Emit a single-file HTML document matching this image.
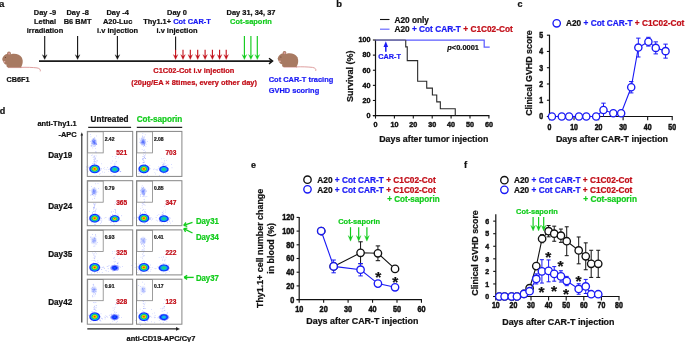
<!DOCTYPE html>
<html><head><meta charset="utf-8"><style>
html,body{margin:0;padding:0;background:#fff;}
body{width:685px;height:342px;overflow:hidden;}
svg{display:block;font-family:"Liberation Sans", sans-serif;filter:blur(0.3px);}
</style></head><body>
<svg width="685" height="342" viewBox="0 0 685 342">
<rect width="685" height="342" fill="#fff"/>
<text transform="translate(-0.90,6.80)" font-size="9.6" text-anchor="start" fill="#111" stroke="#111" stroke-width="0.22" font-weight="bold" >a</text>
<text transform="translate(45.00,15.20) scale(1,1.08)" font-size="7.45" text-anchor="middle" fill="#111" stroke="#111" stroke-width="0.22" font-weight="bold" >Day -9</text>
<text transform="translate(45.00,23.90) scale(1,1.08)" font-size="7.45" text-anchor="middle" fill="#111" stroke="#111" stroke-width="0.22" font-weight="bold" >Lethal</text>
<text transform="translate(45.00,32.60) scale(1,1.08)" font-size="7.45" text-anchor="middle" fill="#111" stroke="#111" stroke-width="0.22" font-weight="bold" >irradiation</text>
<text transform="translate(77.60,15.20) scale(1,1.08)" font-size="7.45" text-anchor="middle" fill="#111" stroke="#111" stroke-width="0.22" font-weight="bold" >Day -8</text>
<text transform="translate(77.60,23.90) scale(1,1.08)" font-size="7.45" text-anchor="middle" fill="#111" stroke="#111" stroke-width="0.22" font-weight="bold" >B6 BMT</text>
<text transform="translate(117.60,15.20) scale(1,1.08)" font-size="7.45" text-anchor="middle" fill="#111" stroke="#111" stroke-width="0.22" font-weight="bold" >Day -4</text>
<text transform="translate(117.60,23.90) scale(1,1.08)" font-size="7.45" text-anchor="middle" fill="#111" stroke="#111" stroke-width="0.22" font-weight="bold" >A20-Luc</text>
<text transform="translate(117.60,32.60) scale(1,1.08)" font-size="7.45" text-anchor="middle" fill="#111" stroke="#111" stroke-width="0.22" font-weight="bold" >i.v injection</text>
<text transform="translate(177.00,15.20) scale(1,1.08)" font-size="7.45" text-anchor="middle" fill="#111" stroke="#111" stroke-width="0.22" font-weight="bold" >Day 0</text>
<text transform="translate(177.00,23.90) scale(1,1.08)" font-size="7.45" text-anchor="middle" fill="#111" stroke="#111" stroke-width="0.22" font-weight="bold" >Thy1.1+ <tspan fill="#1a1af5" stroke="#1a1af5">Cot CAR-T</tspan></text>
<text transform="translate(177.00,32.60) scale(1,1.08)" font-size="7.45" text-anchor="middle" fill="#111" stroke="#111" stroke-width="0.22" font-weight="bold" >i.v injection</text>
<text transform="translate(251.00,15.20) scale(1,1.08)" font-size="7.45" text-anchor="middle" fill="#111" stroke="#111" stroke-width="0.22" font-weight="bold" >Day 31, 34, 37</text>
<text transform="translate(251.00,23.90) scale(1,1.08)" font-size="7.45" text-anchor="middle" fill="#12cc1c" stroke="#12cc1c" stroke-width="0.22" font-weight="bold" >Cot-saporin</text>
<line x1="44.70" y1="36.00" x2="44.70" y2="57.10" stroke="#111" stroke-width="1.1" />
<path d="M42.35,54.70 L44.70,59.50 L47.05,54.70 L44.70,56.52 Z" fill="#111" stroke="#111" stroke-width="0.3" stroke-linejoin="round"/>
<line x1="77.60" y1="36.00" x2="77.60" y2="57.10" stroke="#111" stroke-width="1.1" />
<path d="M75.25,54.70 L77.60,59.50 L79.95,54.70 L77.60,56.52 Z" fill="#111" stroke="#111" stroke-width="0.3" stroke-linejoin="round"/>
<line x1="117.40" y1="36.00" x2="117.40" y2="57.10" stroke="#111" stroke-width="1.1" />
<path d="M115.05,54.70 L117.40,59.50 L119.75,54.70 L117.40,56.52 Z" fill="#111" stroke="#111" stroke-width="0.3" stroke-linejoin="round"/>
<line x1="175.60" y1="36.40" x2="175.60" y2="50.00" stroke="#111" stroke-width="1.1" />
<line x1="175.60" y1="49.80" x2="175.60" y2="57.05" stroke="#c20d17" stroke-width="1.1" />
<path d="M173.30,54.60 L175.60,59.50 L177.90,54.60 L175.60,56.46 Z" fill="#c20d17" stroke="#c20d17" stroke-width="0.3" stroke-linejoin="round"/>
<line x1="183.00" y1="49.80" x2="183.00" y2="57.05" stroke="#c20d17" stroke-width="1.1" />
<path d="M180.70,54.60 L183.00,59.50 L185.30,54.60 L183.00,56.46 Z" fill="#c20d17" stroke="#c20d17" stroke-width="0.3" stroke-linejoin="round"/>
<line x1="190.30" y1="49.80" x2="190.30" y2="57.05" stroke="#c20d17" stroke-width="1.1" />
<path d="M188.00,54.60 L190.30,59.50 L192.60,54.60 L190.30,56.46 Z" fill="#c20d17" stroke="#c20d17" stroke-width="0.3" stroke-linejoin="round"/>
<line x1="197.70" y1="49.80" x2="197.70" y2="57.05" stroke="#c20d17" stroke-width="1.1" />
<path d="M195.40,54.60 L197.70,59.50 L200.00,54.60 L197.70,56.46 Z" fill="#c20d17" stroke="#c20d17" stroke-width="0.3" stroke-linejoin="round"/>
<line x1="205.10" y1="49.80" x2="205.10" y2="57.05" stroke="#c20d17" stroke-width="1.1" />
<path d="M202.80,54.60 L205.10,59.50 L207.40,54.60 L205.10,56.46 Z" fill="#c20d17" stroke="#c20d17" stroke-width="0.3" stroke-linejoin="round"/>
<line x1="212.40" y1="49.80" x2="212.40" y2="57.05" stroke="#c20d17" stroke-width="1.1" />
<path d="M210.10,54.60 L212.40,59.50 L214.70,54.60 L212.40,56.46 Z" fill="#c20d17" stroke="#c20d17" stroke-width="0.3" stroke-linejoin="round"/>
<line x1="219.60" y1="49.80" x2="219.60" y2="57.05" stroke="#c20d17" stroke-width="1.1" />
<path d="M217.30,54.60 L219.60,59.50 L221.90,54.60 L219.60,56.46 Z" fill="#c20d17" stroke="#c20d17" stroke-width="0.3" stroke-linejoin="round"/>
<line x1="226.20" y1="49.80" x2="226.20" y2="57.05" stroke="#c20d17" stroke-width="1.1" />
<path d="M223.90,54.60 L226.20,59.50 L228.50,54.60 L226.20,56.46 Z" fill="#c20d17" stroke="#c20d17" stroke-width="0.3" stroke-linejoin="round"/>
<line x1="244.40" y1="36.00" x2="244.40" y2="57.10" stroke="#12cc1c" stroke-width="1.15" />
<path d="M242.00,54.60 L244.40,59.60 L246.80,54.60 L244.40,56.50 Z" fill="#12cc1c" stroke="#12cc1c" stroke-width="0.3" stroke-linejoin="round"/>
<line x1="250.90" y1="36.00" x2="250.90" y2="57.10" stroke="#12cc1c" stroke-width="1.15" />
<path d="M248.50,54.60 L250.90,59.60 L253.30,54.60 L250.90,56.50 Z" fill="#12cc1c" stroke="#12cc1c" stroke-width="0.3" stroke-linejoin="round"/>
<line x1="257.30" y1="36.00" x2="257.30" y2="57.10" stroke="#12cc1c" stroke-width="1.15" />
<path d="M254.90,54.60 L257.30,59.60 L259.70,54.60 L257.30,56.50 Z" fill="#12cc1c" stroke="#12cc1c" stroke-width="0.3" stroke-linejoin="round"/>
<line x1="39.00" y1="61.10" x2="271.50" y2="61.10" stroke="#1a1a1a" stroke-width="1.7" />
<polyline points="269,58.3 272.6,61.1 269,63.9" stroke="#111" stroke-width="1.4" fill="none"/>
<g transform="translate(0.5,48) scale(1.0)"><path d="M20,19.4 C26,19.1 32,19.4 36.5,19.9 C39.2,20.3 40.4,21.8 39.7,23.4" stroke="#d88e8e" stroke-width="0.85" fill="none"/><path d="M7.5,19.6 L21,19.6" stroke="#d88e8e" stroke-width="0.8" fill="none"/><path d="M8,19.4 L20.3,19.4 C22.3,17.2 22.8,12.6 21.4,9.8 C19.6,6.4 15.2,5.3 11.2,6 C8.2,6.6 6.6,8.2 6.1,10.2 Z" fill="#a87a62"/><path d="M1.7,10.9 C2.3,8 4.4,6.1 7.4,5.7 C10.4,5.4 12.2,7.8 12.2,11 C12.2,14.6 9.7,16.8 6.6,16.8 C4.4,16.8 2.4,14.2 1.7,10.9 Z" fill="#a87a62"/><circle cx="8.5" cy="5.4" r="1.9" fill="#a87a62"/><ellipse cx="8.6" cy="5.6" rx="1.05" ry="1.1" fill="#d99a98"/><ellipse cx="7.6" cy="17.6" rx="1.6" ry="1.9" fill="#a87a62"/><ellipse cx="3.9" cy="13.8" rx="1.0" ry="0.75" fill="#e5b2ae"/><circle cx="4.9" cy="9.6" r="0.5" fill="#5a3426"/></g>
<text transform="translate(18.00,82.20) scale(1,1.08)" font-size="7.25" text-anchor="middle" fill="#111" stroke="#111" stroke-width="0.22" font-weight="bold" >CB6F1</text>
<g transform="translate(276,47.5) scale(1.0)"><path d="M20,19.4 C26,19.1 32,19.4 36.5,19.9 C39.2,20.3 40.4,21.8 39.7,23.4" stroke="#d88e8e" stroke-width="0.85" fill="none"/><path d="M7.5,19.6 L21,19.6" stroke="#d88e8e" stroke-width="0.8" fill="none"/><path d="M8,19.4 L20.3,19.4 C22.3,17.2 22.8,12.6 21.4,9.8 C19.6,6.4 15.2,5.3 11.2,6 C8.2,6.6 6.6,8.2 6.1,10.2 Z" fill="#a87a62"/><path d="M1.7,10.9 C2.3,8 4.4,6.1 7.4,5.7 C10.4,5.4 12.2,7.8 12.2,11 C12.2,14.6 9.7,16.8 6.6,16.8 C4.4,16.8 2.4,14.2 1.7,10.9 Z" fill="#a87a62"/><circle cx="8.5" cy="5.4" r="1.9" fill="#a87a62"/><ellipse cx="8.6" cy="5.6" rx="1.05" ry="1.1" fill="#d99a98"/><ellipse cx="7.6" cy="17.6" rx="1.6" ry="1.9" fill="#a87a62"/><ellipse cx="3.9" cy="13.8" rx="1.0" ry="0.75" fill="#e5b2ae"/><circle cx="4.9" cy="9.6" r="0.5" fill="#5a3426"/></g>
<text transform="translate(268.70,81.80) scale(1,1.08)" font-size="7.45" text-anchor="start" fill="#1a1af5" stroke="#1a1af5" stroke-width="0.22" font-weight="bold" >Cot CAR-T tracing</text>
<text transform="translate(268.70,92.50) scale(1,1.08)" font-size="7.45" text-anchor="start" fill="#1a1af5" stroke="#1a1af5" stroke-width="0.22" font-weight="bold" >GVHD scoring</text>
<text transform="translate(193.80,73.30) scale(1,1.08)" font-size="7.45" text-anchor="middle" fill="#c20d17" stroke="#c20d17" stroke-width="0.22" font-weight="bold" >C1C02-Cot i.v injection</text>
<text transform="translate(194.10,84.90) scale(1,1.08)" font-size="7.45" text-anchor="middle" fill="#c20d17" stroke="#c20d17" stroke-width="0.22" font-weight="bold" >(20μg/EA × 8times, every other day)</text>
<text transform="translate(336.30,6.90)" font-size="9.4" text-anchor="start" fill="#111" stroke="#111" stroke-width="0.22" font-weight="bold" >b</text>
<line x1="380.00" y1="19.50" x2="389.50" y2="19.50" stroke="#111" stroke-width="1.1" />
<text transform="translate(394.40,22.80) scale(1,1.08)" font-size="8.3" text-anchor="start" fill="#111" stroke="#111" stroke-width="0.22" font-weight="bold" >A20 only</text>
<line x1="380.00" y1="29.20" x2="389.50" y2="29.20" stroke="#6a6aff" stroke-width="1.2" />
<text transform="translate(394.40,32.20) scale(1,1.08)" font-size="8.3" text-anchor="start" fill="#111" stroke="#111" stroke-width="0.22" font-weight="bold" >A20 <tspan fill="#1a1af5" stroke="#1a1af5">+ Cot CAR-T</tspan> <tspan fill="#c20d17" stroke="#c20d17">+ C1C02-Cot</tspan></text>
<line x1="375.50" y1="39.70" x2="375.50" y2="115.60" stroke="#111" stroke-width="1.2" />
<line x1="372.90" y1="115.60" x2="489.40" y2="115.60" stroke="#111" stroke-width="1.2" />
<line x1="372.90" y1="115.60" x2="375.50" y2="115.60" stroke="#111" stroke-width="1.1" />
<text transform="translate(370.50,117.90) scale(1,1.05)" font-size="7.2" text-anchor="end" fill="#111" stroke="#111" stroke-width="0.42" font-weight="bold" >0</text>
<line x1="372.90" y1="100.48" x2="375.50" y2="100.48" stroke="#111" stroke-width="1.1" />
<text transform="translate(370.50,102.78) scale(1,1.05)" font-size="7.2" text-anchor="end" fill="#111" stroke="#111" stroke-width="0.42" font-weight="bold" >20</text>
<line x1="372.90" y1="85.36" x2="375.50" y2="85.36" stroke="#111" stroke-width="1.1" />
<text transform="translate(370.50,87.66) scale(1,1.05)" font-size="7.2" text-anchor="end" fill="#111" stroke="#111" stroke-width="0.42" font-weight="bold" >40</text>
<line x1="372.90" y1="70.24" x2="375.50" y2="70.24" stroke="#111" stroke-width="1.1" />
<text transform="translate(370.50,72.54) scale(1,1.05)" font-size="7.2" text-anchor="end" fill="#111" stroke="#111" stroke-width="0.42" font-weight="bold" >60</text>
<line x1="372.90" y1="55.12" x2="375.50" y2="55.12" stroke="#111" stroke-width="1.1" />
<text transform="translate(370.50,57.42) scale(1,1.05)" font-size="7.2" text-anchor="end" fill="#111" stroke="#111" stroke-width="0.42" font-weight="bold" >80</text>
<line x1="372.90" y1="40.00" x2="375.50" y2="40.00" stroke="#111" stroke-width="1.1" />
<text transform="translate(370.50,42.30) scale(1,1.05)" font-size="7.2" text-anchor="end" fill="#111" stroke="#111" stroke-width="0.42" font-weight="bold" >100</text>
<line x1="375.50" y1="115.60" x2="375.50" y2="118.60" stroke="#111" stroke-width="1.1" />
<text transform="translate(375.50,126.80) scale(1,1.05)" font-size="7.2" text-anchor="middle" fill="#111" stroke="#111" stroke-width="0.42" font-weight="bold" >0</text>
<line x1="394.40" y1="115.60" x2="394.40" y2="118.60" stroke="#111" stroke-width="1.1" />
<text transform="translate(394.40,126.80) scale(1,1.05)" font-size="7.2" text-anchor="middle" fill="#111" stroke="#111" stroke-width="0.42" font-weight="bold" >10</text>
<line x1="413.30" y1="115.60" x2="413.30" y2="118.60" stroke="#111" stroke-width="1.1" />
<text transform="translate(413.30,126.80) scale(1,1.05)" font-size="7.2" text-anchor="middle" fill="#111" stroke="#111" stroke-width="0.42" font-weight="bold" >20</text>
<line x1="432.20" y1="115.60" x2="432.20" y2="118.60" stroke="#111" stroke-width="1.1" />
<text transform="translate(432.20,126.80) scale(1,1.05)" font-size="7.2" text-anchor="middle" fill="#111" stroke="#111" stroke-width="0.42" font-weight="bold" >30</text>
<line x1="451.10" y1="115.60" x2="451.10" y2="118.60" stroke="#111" stroke-width="1.1" />
<text transform="translate(451.10,126.80) scale(1,1.05)" font-size="7.2" text-anchor="middle" fill="#111" stroke="#111" stroke-width="0.42" font-weight="bold" >40</text>
<line x1="470.00" y1="115.60" x2="470.00" y2="118.60" stroke="#111" stroke-width="1.1" />
<text transform="translate(470.00,126.80) scale(1,1.05)" font-size="7.2" text-anchor="middle" fill="#111" stroke="#111" stroke-width="0.42" font-weight="bold" >50</text>
<line x1="488.90" y1="115.60" x2="488.90" y2="118.60" stroke="#111" stroke-width="1.1" />
<text transform="translate(488.90,126.80) scale(1,1.05)" font-size="7.2" text-anchor="middle" fill="#111" stroke="#111" stroke-width="0.42" font-weight="bold" >60</text>
<text transform="translate(379.20,142.10) scale(1,1.08)" font-size="8.85" text-anchor="start" fill="#111" stroke="#111" stroke-width="0.22" font-weight="bold" >Days after tumor injection</text>
<text transform="translate(352.80,76.30) rotate(-90) scale(1,1.08)" font-size="9.0" text-anchor="middle" fill="#111" stroke="#111" stroke-width="0.22" font-weight="bold" >Survival (%)</text>
<polyline points="375.50,40.00 484.20,40.00 484.20,47.20 489.70,47.20" stroke="#5c5cff" stroke-width="1.25" fill="none"/>
<polyline points="405.74,40.00 405.74,46.88 407.25,46.88 407.25,60.64 417.65,60.64 417.65,81.20 426.72,81.20 426.72,88.08 432.39,88.08 432.39,94.96 436.74,94.96 436.74,101.84 440.33,101.84 440.33,108.72 455.26,108.72 455.26,115.60" stroke="#2a2a2a" stroke-width="1.1" fill="none"/>
<line x1="375.50" y1="40.00" x2="405.74" y2="40.00" stroke="#6a6a7a" stroke-width="1.2" />
<text transform="translate(447.30,50.00) scale(1,1.08)" font-size="7.45" text-anchor="start" fill="#111" stroke="#111" stroke-width="0.22" font-weight="bold" ><tspan font-style="italic">p</tspan>&lt;0.0001</text>
<text transform="translate(389.50,58.70) scale(1,1.08)" font-size="7.3" text-anchor="middle" fill="#1a1af5" stroke="#1a1af5" stroke-width="0.22" font-weight="bold" >CAR-T</text>
<line x1="385.80" y1="45.50" x2="385.80" y2="51.80" stroke="#1a1af5" stroke-width="1.5" />
<polygon points="383.5,46.9 385.8,41.2 388.1,46.9" fill="#1a1af5"/>
<text transform="translate(517.60,6.90)" font-size="9.0" text-anchor="start" fill="#111" stroke="#111" stroke-width="0.22" font-weight="bold" >c</text>
<circle cx="556.70" cy="23.30" r="3.7" stroke="#1a1af5" stroke-width="1.35" fill="#fff"/>
<text transform="translate(566.00,26.20) scale(1,1.08)" font-size="8.3" text-anchor="start" fill="#111" stroke="#111" stroke-width="0.22" font-weight="bold" >A20 <tspan fill="#1a1af5" stroke="#1a1af5">+ Cot CAR-T</tspan> <tspan fill="#c20d17" stroke="#c20d17">+ C1C02-Cot</tspan></text>
<line x1="549.50" y1="34.80" x2="549.50" y2="116.50" stroke="#111" stroke-width="1.2" />
<line x1="546.90" y1="116.50" x2="672.70" y2="116.50" stroke="#111" stroke-width="1.2" />
<line x1="546.90" y1="116.50" x2="549.50" y2="116.50" stroke="#111" stroke-width="1.1" />
<text transform="translate(541.30,119.40) scale(1,1.2)" font-size="7.0" text-anchor="middle" fill="#111" stroke="#111" stroke-width="0.42" font-weight="bold" >0</text>
<line x1="546.90" y1="100.24" x2="549.50" y2="100.24" stroke="#111" stroke-width="1.1" />
<text transform="translate(541.30,103.14) scale(1,1.2)" font-size="7.0" text-anchor="middle" fill="#111" stroke="#111" stroke-width="0.42" font-weight="bold" >1</text>
<line x1="546.90" y1="83.98" x2="549.50" y2="83.98" stroke="#111" stroke-width="1.1" />
<text transform="translate(541.30,86.88) scale(1,1.2)" font-size="7.0" text-anchor="middle" fill="#111" stroke="#111" stroke-width="0.42" font-weight="bold" >2</text>
<line x1="546.90" y1="67.72" x2="549.50" y2="67.72" stroke="#111" stroke-width="1.1" />
<text transform="translate(541.30,70.62) scale(1,1.2)" font-size="7.0" text-anchor="middle" fill="#111" stroke="#111" stroke-width="0.42" font-weight="bold" >3</text>
<line x1="546.90" y1="51.46" x2="549.50" y2="51.46" stroke="#111" stroke-width="1.1" />
<text transform="translate(541.30,54.36) scale(1,1.2)" font-size="7.0" text-anchor="middle" fill="#111" stroke="#111" stroke-width="0.42" font-weight="bold" >4</text>
<line x1="546.90" y1="35.20" x2="549.50" y2="35.20" stroke="#111" stroke-width="1.1" />
<text transform="translate(541.30,38.10) scale(1,1.2)" font-size="7.0" text-anchor="middle" fill="#111" stroke="#111" stroke-width="0.42" font-weight="bold" >5</text>
<line x1="549.50" y1="116.50" x2="549.50" y2="120.30" stroke="#111" stroke-width="1.1" />
<text transform="translate(549.50,130.10) scale(1,1.2)" font-size="7.0" text-anchor="middle" fill="#111" stroke="#111" stroke-width="0.42" font-weight="bold" >0</text>
<line x1="574.04" y1="116.50" x2="574.04" y2="120.30" stroke="#111" stroke-width="1.1" />
<text transform="translate(574.04,130.10) scale(1,1.2)" font-size="7.0" text-anchor="middle" fill="#111" stroke="#111" stroke-width="0.42" font-weight="bold" >10</text>
<line x1="598.58" y1="116.50" x2="598.58" y2="120.30" stroke="#111" stroke-width="1.1" />
<text transform="translate(598.58,130.10) scale(1,1.2)" font-size="7.0" text-anchor="middle" fill="#111" stroke="#111" stroke-width="0.42" font-weight="bold" >20</text>
<line x1="623.12" y1="116.50" x2="623.12" y2="120.30" stroke="#111" stroke-width="1.1" />
<text transform="translate(623.12,130.10) scale(1,1.2)" font-size="7.0" text-anchor="middle" fill="#111" stroke="#111" stroke-width="0.42" font-weight="bold" >30</text>
<line x1="647.66" y1="116.50" x2="647.66" y2="120.30" stroke="#111" stroke-width="1.1" />
<text transform="translate(647.66,130.10) scale(1,1.2)" font-size="7.0" text-anchor="middle" fill="#111" stroke="#111" stroke-width="0.42" font-weight="bold" >40</text>
<line x1="672.20" y1="116.50" x2="672.20" y2="120.30" stroke="#111" stroke-width="1.1" />
<text transform="translate(672.20,130.10) scale(1,1.2)" font-size="7.0" text-anchor="middle" fill="#111" stroke="#111" stroke-width="0.42" font-weight="bold" >50</text>
<text transform="translate(555.90,141.80) scale(1,1.08)" font-size="8.9" text-anchor="start" fill="#111" stroke="#111" stroke-width="0.22" font-weight="bold" >Days after CAR-T injection</text>
<text transform="translate(532.40,73.10) rotate(-90) scale(1,1.08)" font-size="8.85" text-anchor="middle" fill="#111" stroke="#111" stroke-width="0.22" font-weight="bold" >Clinical GVHD score</text>
<polyline points="551.95,116.50 561.77,116.50 569.13,116.50 578.95,116.50 586.31,116.50 596.13,116.50 603.49,110.00 613.30,113.25 621.16,113.25 631.22,87.23 638.33,47.56 648.40,41.70 655.76,47.88 665.57,51.13" stroke="#1a1af5" stroke-width="1.1" fill="none"/>
<line x1="603.49" y1="103.17" x2="603.49" y2="116.50" stroke="#1a1af5" stroke-width="1.0" />
<line x1="601.29" y1="103.17" x2="605.69" y2="103.17" stroke="#1a1af5" stroke-width="1.0" />
<line x1="631.22" y1="81.54" x2="631.22" y2="92.92" stroke="#1a1af5" stroke-width="1.0" />
<line x1="629.02" y1="81.54" x2="633.42" y2="81.54" stroke="#1a1af5" stroke-width="1.0" />
<line x1="629.02" y1="92.92" x2="633.42" y2="92.92" stroke="#1a1af5" stroke-width="1.0" />
<line x1="638.33" y1="38.13" x2="638.33" y2="56.99" stroke="#1a1af5" stroke-width="1.0" />
<line x1="636.13" y1="38.13" x2="640.53" y2="38.13" stroke="#1a1af5" stroke-width="1.0" />
<line x1="636.13" y1="56.99" x2="640.53" y2="56.99" stroke="#1a1af5" stroke-width="1.0" />
<line x1="648.40" y1="37.31" x2="648.40" y2="46.09" stroke="#1a1af5" stroke-width="1.0" />
<line x1="646.20" y1="37.31" x2="650.60" y2="37.31" stroke="#1a1af5" stroke-width="1.0" />
<line x1="646.20" y1="46.09" x2="650.60" y2="46.09" stroke="#1a1af5" stroke-width="1.0" />
<line x1="655.76" y1="41.87" x2="655.76" y2="53.90" stroke="#1a1af5" stroke-width="1.0" />
<line x1="653.56" y1="41.87" x2="657.96" y2="41.87" stroke="#1a1af5" stroke-width="1.0" />
<line x1="653.56" y1="53.90" x2="657.96" y2="53.90" stroke="#1a1af5" stroke-width="1.0" />
<line x1="665.57" y1="44.14" x2="665.57" y2="58.13" stroke="#1a1af5" stroke-width="1.0" />
<line x1="663.37" y1="44.14" x2="667.77" y2="44.14" stroke="#1a1af5" stroke-width="1.0" />
<line x1="663.37" y1="58.13" x2="667.77" y2="58.13" stroke="#1a1af5" stroke-width="1.0" />
<circle cx="551.95" cy="116.50" r="3.6" stroke="#1a1af5" stroke-width="1.35" fill="#fff"/>
<circle cx="561.77" cy="116.50" r="3.6" stroke="#1a1af5" stroke-width="1.35" fill="#fff"/>
<circle cx="569.13" cy="116.50" r="3.6" stroke="#1a1af5" stroke-width="1.35" fill="#fff"/>
<circle cx="578.95" cy="116.50" r="3.6" stroke="#1a1af5" stroke-width="1.35" fill="#fff"/>
<circle cx="586.31" cy="116.50" r="3.6" stroke="#1a1af5" stroke-width="1.35" fill="#fff"/>
<circle cx="596.13" cy="116.50" r="3.6" stroke="#1a1af5" stroke-width="1.35" fill="#fff"/>
<circle cx="603.49" cy="110.00" r="3.6" stroke="#1a1af5" stroke-width="1.35" fill="#fff"/>
<circle cx="613.30" cy="113.25" r="3.6" stroke="#1a1af5" stroke-width="1.35" fill="#fff"/>
<circle cx="621.16" cy="113.25" r="3.6" stroke="#1a1af5" stroke-width="1.35" fill="#fff"/>
<circle cx="631.22" cy="87.23" r="3.6" stroke="#1a1af5" stroke-width="1.35" fill="#fff"/>
<circle cx="638.33" cy="47.56" r="3.6" stroke="#1a1af5" stroke-width="1.35" fill="#fff"/>
<circle cx="648.40" cy="41.70" r="3.6" stroke="#1a1af5" stroke-width="1.35" fill="#fff"/>
<circle cx="655.76" cy="47.88" r="3.6" stroke="#1a1af5" stroke-width="1.35" fill="#fff"/>
<circle cx="665.57" cy="51.13" r="3.6" stroke="#1a1af5" stroke-width="1.35" fill="#fff"/>
<text transform="translate(-0.30,113.70)" font-size="9.0" text-anchor="start" fill="#111" stroke="#111" stroke-width="0.22" font-weight="bold" >d</text>
<text transform="translate(76.70,126.40) scale(1,1.08)" font-size="7.45" text-anchor="end" fill="#111" stroke="#111" stroke-width="0.22" font-weight="bold" >anti-Thy1.1</text>
<text transform="translate(76.70,137.30) scale(1,1.08)" font-size="7.45" text-anchor="end" fill="#111" stroke="#111" stroke-width="0.22" font-weight="bold" >-APC</text>
<line x1="81.80" y1="134.50" x2="81.80" y2="322.40" stroke="#222" stroke-width="1.1" />
<polygon points="80.5,135.6 81.8,132.2 83.1,135.6" fill="#222"/>
<line x1="87.30" y1="328.90" x2="177.00" y2="328.90" stroke="#222" stroke-width="1.1" />
<polygon points="176,327 180,328.9 176,330.8" fill="#222"/>
<text transform="translate(126.60,340.60) scale(1,1.08)" font-size="7.45" text-anchor="start" fill="#111" stroke="#111" stroke-width="0.22" font-weight="bold" >anti-CD19-APC/Cy7</text>
<text transform="translate(109.60,121.50) scale(1,1.08)" font-size="8.15" text-anchor="middle" fill="#111" stroke="#111" stroke-width="0.22" font-weight="bold" >Untreated</text>
<text transform="translate(159.50,121.50) scale(1,1.08)" font-size="8.15" text-anchor="middle" fill="#12cc1c" stroke="#12cc1c" stroke-width="0.22" font-weight="bold" >Cot-saporin</text>
<line x1="88.20" y1="127.40" x2="131.10" y2="127.40" stroke="#222" stroke-width="1.1" />
<line x1="136.80" y1="127.40" x2="182.20" y2="127.40" stroke="#222" stroke-width="1.1" />
<defs>
<radialGradient id="gbig"><stop offset="0" stop-color="#ff1a00"/><stop offset="0.16" stop-color="#ff8a00"/><stop offset="0.3" stop-color="#c8e010"/><stop offset="0.44" stop-color="#20d050"/><stop offset="0.6" stop-color="#10a8f0"/><stop offset="0.78" stop-color="#0a28ff"/><stop offset="1" stop-color="#2a40ff" stop-opacity="0"/></radialGradient>
<radialGradient id="gred"><stop offset="0" stop-color="#ff3000"/><stop offset="0.2" stop-color="#e8d010"/><stop offset="0.38" stop-color="#20d050"/><stop offset="0.56" stop-color="#10a8f0"/><stop offset="0.76" stop-color="#0a28ff"/><stop offset="1" stop-color="#2a40ff" stop-opacity="0"/></radialGradient>
<radialGradient id="ggrn"><stop offset="0" stop-color="#30e040"/><stop offset="0.25" stop-color="#10d0a0"/><stop offset="0.5" stop-color="#10a0f0"/><stop offset="0.75" stop-color="#0a28ff"/><stop offset="1" stop-color="#2a40ff" stop-opacity="0"/></radialGradient>
<radialGradient id="gcyan"><stop offset="0" stop-color="#10d8d0"/><stop offset="0.3" stop-color="#10a0f0"/><stop offset="0.62" stop-color="#0a28ff"/><stop offset="1" stop-color="#2a40ff" stop-opacity="0"/></radialGradient>
<radialGradient id="gblue"><stop offset="0" stop-color="#1070f8"/><stop offset="0.4" stop-color="#0a28ff"/><stop offset="1" stop-color="#2a40ff" stop-opacity="0"/></radialGradient>
<radialGradient id="gup"><stop offset="0" stop-color="#2a48ff" stop-opacity="0.85"/><stop offset="0.5" stop-color="#5070ff" stop-opacity="0.45"/><stop offset="1" stop-color="#8090ff" stop-opacity="0"/></radialGradient>
</defs>
<text transform="translate(60.20,157.70) scale(1,1.08)" font-size="8.15" text-anchor="middle" fill="#111" stroke="#111" stroke-width="0.22" font-weight="bold" >Day19</text>
<ellipse cx="94.00" cy="142.00" rx="3.60" ry="4.60" fill="url(#gup)" opacity="1.00"/><circle cx="93.54" cy="144.04" r="0.38" fill="#3048ff" fill-opacity="0.55"/><circle cx="93.59" cy="141.39" r="0.38" fill="#3048ff" fill-opacity="0.55"/><circle cx="92.33" cy="141.72" r="0.38" fill="#3048ff" fill-opacity="0.55"/><circle cx="96.00" cy="143.76" r="0.38" fill="#3048ff" fill-opacity="0.55"/><circle cx="95.87" cy="143.20" r="0.38" fill="#3048ff" fill-opacity="0.55"/><circle cx="94.71" cy="142.99" r="0.38" fill="#3048ff" fill-opacity="0.55"/><circle cx="91.00" cy="145.14" r="0.38" fill="#3048ff" fill-opacity="0.55"/><circle cx="94.91" cy="144.00" r="0.38" fill="#3048ff" fill-opacity="0.55"/><circle cx="90.96" cy="136.82" r="0.38" fill="#3048ff" fill-opacity="0.55"/><circle cx="92.40" cy="140.90" r="0.38" fill="#3048ff" fill-opacity="0.55"/><circle cx="94.55" cy="142.25" r="0.38" fill="#3048ff" fill-opacity="0.55"/><circle cx="94.94" cy="140.34" r="0.38" fill="#3048ff" fill-opacity="0.55"/><circle cx="94.56" cy="143.66" r="0.38" fill="#3048ff" fill-opacity="0.55"/><circle cx="92.81" cy="147.90" r="0.38" fill="#3048ff" fill-opacity="0.55"/><circle cx="95.00" cy="146.23" r="0.38" fill="#3048ff" fill-opacity="0.55"/><circle cx="92.88" cy="140.03" r="0.38" fill="#3048ff" fill-opacity="0.55"/><circle cx="93.38" cy="142.06" r="0.38" fill="#3048ff" fill-opacity="0.55"/><circle cx="95.14" cy="143.19" r="0.38" fill="#3048ff" fill-opacity="0.55"/><circle cx="93.19" cy="139.34" r="0.38" fill="#3048ff" fill-opacity="0.55"/><circle cx="93.06" cy="146.31" r="0.38" fill="#3048ff" fill-opacity="0.55"/><circle cx="92.55" cy="143.18" r="0.38" fill="#3048ff" fill-opacity="0.55"/><circle cx="94.77" cy="137.63" r="0.38" fill="#3048ff" fill-opacity="0.55"/><circle cx="94.09" cy="146.58" r="0.38" fill="#3048ff" fill-opacity="0.55"/><circle cx="90.37" cy="141.37" r="0.38" fill="#3048ff" fill-opacity="0.55"/><circle cx="93.81" cy="139.78" r="0.38" fill="#3048ff" fill-opacity="0.55"/><circle cx="94.90" cy="142.20" r="0.38" fill="#3048ff" fill-opacity="0.55"/><circle cx="91.36" cy="145.05" r="0.38" fill="#3048ff" fill-opacity="0.55"/><circle cx="95.20" cy="145.43" r="0.38" fill="#3048ff" fill-opacity="0.55"/><circle cx="96.59" cy="143.56" r="0.38" fill="#3048ff" fill-opacity="0.55"/><circle cx="94.21" cy="138.24" r="0.38" fill="#3048ff" fill-opacity="0.55"/><circle cx="95.11" cy="140.44" r="0.38" fill="#3048ff" fill-opacity="0.55"/><circle cx="93.19" cy="138.35" r="0.38" fill="#3048ff" fill-opacity="0.55"/><circle cx="92.26" cy="140.70" r="0.38" fill="#3048ff" fill-opacity="0.55"/><circle cx="96.32" cy="135.90" r="0.38" fill="#3048ff" fill-opacity="0.55"/><circle cx="91.38" cy="143.17" r="0.38" fill="#3048ff" fill-opacity="0.55"/><circle cx="96.60" cy="144.25" r="0.38" fill="#3048ff" fill-opacity="0.55"/><circle cx="90.58" cy="134.34" r="0.38" fill="#3048ff" fill-opacity="0.55"/><circle cx="94.64" cy="140.04" r="0.38" fill="#3048ff" fill-opacity="0.55"/><circle cx="91.98" cy="145.53" r="0.38" fill="#3048ff" fill-opacity="0.55"/><circle cx="95.98" cy="142.90" r="0.38" fill="#3048ff" fill-opacity="0.55"/><circle cx="94.44" cy="143.79" r="0.38" fill="#3048ff" fill-opacity="0.55"/><circle cx="96.87" cy="144.38" r="0.38" fill="#3048ff" fill-opacity="0.55"/><circle cx="94.93" cy="144.15" r="0.38" fill="#3048ff" fill-opacity="0.55"/><circle cx="91.18" cy="146.50" r="0.38" fill="#3048ff" fill-opacity="0.55"/><circle cx="95.72" cy="144.09" r="0.38" fill="#3048ff" fill-opacity="0.55"/><circle cx="92.43" cy="154.91" r="0.38" fill="#3048ff" fill-opacity="0.45"/><circle cx="95.53" cy="148.44" r="0.38" fill="#3048ff" fill-opacity="0.45"/><circle cx="94.40" cy="164.01" r="0.38" fill="#3048ff" fill-opacity="0.45"/><circle cx="93.16" cy="167.26" r="0.38" fill="#3048ff" fill-opacity="0.45"/><circle cx="95.21" cy="157.57" r="0.38" fill="#3048ff" fill-opacity="0.45"/><circle cx="94.96" cy="161.97" r="0.38" fill="#3048ff" fill-opacity="0.45"/><circle cx="94.73" cy="164.70" r="0.38" fill="#3048ff" fill-opacity="0.45"/><circle cx="93.87" cy="156.12" r="0.38" fill="#3048ff" fill-opacity="0.45"/><circle cx="95.75" cy="158.55" r="0.38" fill="#3048ff" fill-opacity="0.45"/><circle cx="93.63" cy="163.61" r="0.38" fill="#3048ff" fill-opacity="0.45"/><circle cx="96.21" cy="155.95" r="0.38" fill="#3048ff" fill-opacity="0.45"/><circle cx="93.08" cy="157.66" r="0.38" fill="#3048ff" fill-opacity="0.45"/><circle cx="94.44" cy="156.76" r="0.38" fill="#3048ff" fill-opacity="0.45"/><circle cx="96.15" cy="152.75" r="0.38" fill="#3048ff" fill-opacity="0.45"/><circle cx="95.99" cy="151.42" r="0.38" fill="#3048ff" fill-opacity="0.45"/><circle cx="93.73" cy="161.87" r="0.38" fill="#3048ff" fill-opacity="0.45"/><circle cx="95.84" cy="163.12" r="0.38" fill="#3048ff" fill-opacity="0.45"/><circle cx="94.98" cy="159.18" r="0.38" fill="#3048ff" fill-opacity="0.45"/><circle cx="94.77" cy="161.56" r="0.38" fill="#3048ff" fill-opacity="0.45"/><circle cx="94.41" cy="159.93" r="0.38" fill="#3048ff" fill-opacity="0.45"/><circle cx="95.23" cy="158.40" r="0.38" fill="#3048ff" fill-opacity="0.45"/><circle cx="95.44" cy="161.51" r="0.38" fill="#3048ff" fill-opacity="0.45"/><circle cx="96.81" cy="160.19" r="0.38" fill="#3048ff" fill-opacity="0.45"/><circle cx="94.13" cy="156.35" r="0.38" fill="#3048ff" fill-opacity="0.45"/><circle cx="94.59" cy="163.48" r="0.38" fill="#3048ff" fill-opacity="0.45"/><circle cx="94.23" cy="160.52" r="0.38" fill="#3048ff" fill-opacity="0.45"/><circle cx="96.62" cy="144.29" r="0.38" fill="#3048ff" fill-opacity="0.45"/><circle cx="93.36" cy="159.74" r="0.38" fill="#3048ff" fill-opacity="0.45"/><circle cx="95.04" cy="159.71" r="0.38" fill="#3048ff" fill-opacity="0.45"/><circle cx="94.13" cy="162.00" r="0.38" fill="#3048ff" fill-opacity="0.45"/><circle cx="94.91" cy="155.53" r="0.38" fill="#3048ff" fill-opacity="0.45"/><circle cx="97.27" cy="160.35" r="0.38" fill="#3048ff" fill-opacity="0.45"/><circle cx="93.99" cy="157.85" r="0.38" fill="#3048ff" fill-opacity="0.45"/><circle cx="94.35" cy="158.05" r="0.38" fill="#3048ff" fill-opacity="0.45"/><circle cx="91.60" cy="155.72" r="0.38" fill="#3048ff" fill-opacity="0.45"/><circle cx="95.71" cy="151.97" r="0.38" fill="#3048ff" fill-opacity="0.45"/><circle cx="94.53" cy="163.64" r="0.38" fill="#3048ff" fill-opacity="0.45"/><circle cx="95.54" cy="166.60" r="0.38" fill="#3048ff" fill-opacity="0.45"/><circle cx="112.42" cy="160.99" r="0.38" fill="#3048ff" fill-opacity="0.42"/><circle cx="114.32" cy="164.89" r="0.38" fill="#3048ff" fill-opacity="0.42"/><circle cx="116.33" cy="151.67" r="0.38" fill="#3048ff" fill-opacity="0.42"/><circle cx="116.32" cy="156.61" r="0.38" fill="#3048ff" fill-opacity="0.42"/><circle cx="115.76" cy="156.43" r="0.38" fill="#3048ff" fill-opacity="0.42"/><circle cx="115.05" cy="167.18" r="0.38" fill="#3048ff" fill-opacity="0.42"/><circle cx="114.59" cy="163.16" r="0.38" fill="#3048ff" fill-opacity="0.42"/><circle cx="115.92" cy="162.97" r="0.38" fill="#3048ff" fill-opacity="0.42"/><circle cx="114.68" cy="168.53" r="0.38" fill="#3048ff" fill-opacity="0.42"/><circle cx="116.27" cy="161.22" r="0.38" fill="#3048ff" fill-opacity="0.42"/><circle cx="118.64" cy="157.81" r="0.38" fill="#3048ff" fill-opacity="0.42"/><circle cx="116.08" cy="161.34" r="0.38" fill="#3048ff" fill-opacity="0.42"/><circle cx="114.99" cy="165.22" r="0.38" fill="#3048ff" fill-opacity="0.42"/><circle cx="115.11" cy="164.95" r="0.38" fill="#3048ff" fill-opacity="0.42"/><circle cx="112.66" cy="156.36" r="0.38" fill="#3048ff" fill-opacity="0.42"/><circle cx="115.66" cy="158.55" r="0.38" fill="#3048ff" fill-opacity="0.42"/><circle cx="98.65" cy="167.14" r="0.38" fill="#3048ff" fill-opacity="0.38"/><circle cx="111.27" cy="170.25" r="0.38" fill="#3048ff" fill-opacity="0.38"/><circle cx="112.40" cy="167.89" r="0.38" fill="#3048ff" fill-opacity="0.38"/><circle cx="104.31" cy="167.60" r="0.38" fill="#3048ff" fill-opacity="0.38"/><circle cx="108.51" cy="171.43" r="0.38" fill="#3048ff" fill-opacity="0.38"/><circle cx="99.40" cy="171.38" r="0.38" fill="#3048ff" fill-opacity="0.38"/><circle cx="109.73" cy="168.95" r="0.38" fill="#3048ff" fill-opacity="0.38"/><circle cx="93.45" cy="171.17" r="0.38" fill="#3048ff" fill-opacity="0.38"/><circle cx="103.77" cy="168.36" r="0.38" fill="#3048ff" fill-opacity="0.38"/><circle cx="106.50" cy="169.77" r="0.38" fill="#3048ff" fill-opacity="0.38"/><circle cx="112.54" cy="167.77" r="0.38" fill="#3048ff" fill-opacity="0.38"/><circle cx="110.55" cy="171.28" r="0.38" fill="#3048ff" fill-opacity="0.38"/><circle cx="112.29" cy="168.95" r="0.38" fill="#3048ff" fill-opacity="0.38"/><circle cx="100.21" cy="170.63" r="0.38" fill="#3048ff" fill-opacity="0.38"/><circle cx="104.93" cy="169.37" r="0.38" fill="#3048ff" fill-opacity="0.38"/><circle cx="112.13" cy="168.83" r="0.38" fill="#3048ff" fill-opacity="0.38"/><circle cx="86.43" cy="167.78" r="0.38" fill="#3048ff" fill-opacity="0.5"/><circle cx="88.03" cy="171.27" r="0.38" fill="#3048ff" fill-opacity="0.5"/><circle cx="95.84" cy="167.13" r="0.38" fill="#3048ff" fill-opacity="0.5"/><circle cx="94.67" cy="171.31" r="0.38" fill="#3048ff" fill-opacity="0.5"/><circle cx="94.98" cy="172.75" r="0.38" fill="#3048ff" fill-opacity="0.5"/><circle cx="94.48" cy="171.92" r="0.38" fill="#3048ff" fill-opacity="0.5"/><circle cx="100.07" cy="173.57" r="0.38" fill="#3048ff" fill-opacity="0.5"/><circle cx="92.28" cy="171.45" r="0.38" fill="#3048ff" fill-opacity="0.5"/><circle cx="87.95" cy="165.76" r="0.38" fill="#3048ff" fill-opacity="0.5"/><circle cx="87.63" cy="172.00" r="0.38" fill="#3048ff" fill-opacity="0.5"/><circle cx="90.27" cy="168.86" r="0.38" fill="#3048ff" fill-opacity="0.5"/><circle cx="94.01" cy="168.82" r="0.38" fill="#3048ff" fill-opacity="0.5"/><circle cx="92.57" cy="169.58" r="0.38" fill="#3048ff" fill-opacity="0.5"/><circle cx="101.15" cy="169.03" r="0.38" fill="#3048ff" fill-opacity="0.5"/><circle cx="96.61" cy="171.80" r="0.38" fill="#3048ff" fill-opacity="0.5"/><circle cx="93.99" cy="165.25" r="0.38" fill="#3048ff" fill-opacity="0.5"/><circle cx="92.70" cy="172.01" r="0.38" fill="#3048ff" fill-opacity="0.5"/><circle cx="88.77" cy="167.17" r="0.38" fill="#3048ff" fill-opacity="0.5"/><circle cx="98.33" cy="171.20" r="0.38" fill="#3048ff" fill-opacity="0.5"/><circle cx="94.73" cy="171.24" r="0.38" fill="#3048ff" fill-opacity="0.5"/><circle cx="95.30" cy="165.48" r="0.38" fill="#3048ff" fill-opacity="0.5"/><circle cx="89.07" cy="167.05" r="0.38" fill="#3048ff" fill-opacity="0.5"/><circle cx="98.02" cy="167.26" r="0.38" fill="#3048ff" fill-opacity="0.5"/><circle cx="91.45" cy="166.66" r="0.38" fill="#3048ff" fill-opacity="0.5"/><circle cx="89.19" cy="168.56" r="0.38" fill="#3048ff" fill-opacity="0.5"/><circle cx="90.45" cy="169.96" r="0.38" fill="#3048ff" fill-opacity="0.5"/><circle cx="86.20" cy="169.85" r="0.38" fill="#3048ff" fill-opacity="0.5"/><circle cx="92.39" cy="163.27" r="0.38" fill="#3048ff" fill-opacity="0.5"/><circle cx="97.31" cy="168.10" r="0.38" fill="#3048ff" fill-opacity="0.5"/><circle cx="86.67" cy="166.36" r="0.38" fill="#3048ff" fill-opacity="0.5"/><circle cx="95.75" cy="167.57" r="0.38" fill="#3048ff" fill-opacity="0.5"/><circle cx="97.51" cy="171.07" r="0.38" fill="#3048ff" fill-opacity="0.5"/><circle cx="97.10" cy="169.85" r="0.38" fill="#3048ff" fill-opacity="0.5"/><circle cx="99.50" cy="170.81" r="0.38" fill="#3048ff" fill-opacity="0.5"/><circle cx="96.32" cy="162.86" r="0.38" fill="#3048ff" fill-opacity="0.5"/><circle cx="97.93" cy="172.70" r="0.38" fill="#3048ff" fill-opacity="0.5"/><circle cx="93.63" cy="167.54" r="0.38" fill="#3048ff" fill-opacity="0.5"/><circle cx="101.69" cy="163.80" r="0.38" fill="#3048ff" fill-opacity="0.5"/><circle cx="96.39" cy="175.93" r="0.38" fill="#3048ff" fill-opacity="0.5"/><circle cx="91.36" cy="170.90" r="0.38" fill="#3048ff" fill-opacity="0.5"/><circle cx="101.49" cy="168.55" r="0.38" fill="#3048ff" fill-opacity="0.5"/><circle cx="96.72" cy="171.52" r="0.38" fill="#3048ff" fill-opacity="0.5"/><circle cx="91.44" cy="168.64" r="0.38" fill="#3048ff" fill-opacity="0.5"/><circle cx="95.75" cy="171.29" r="0.38" fill="#3048ff" fill-opacity="0.5"/><circle cx="94.58" cy="168.33" r="0.38" fill="#3048ff" fill-opacity="0.5"/><circle cx="91.04" cy="167.86" r="0.38" fill="#3048ff" fill-opacity="0.5"/><circle cx="97.91" cy="169.20" r="0.38" fill="#3048ff" fill-opacity="0.5"/><circle cx="91.63" cy="166.46" r="0.38" fill="#3048ff" fill-opacity="0.5"/><circle cx="104.30" cy="172.21" r="0.38" fill="#3048ff" fill-opacity="0.5"/><circle cx="96.99" cy="161.38" r="0.38" fill="#3048ff" fill-opacity="0.5"/><circle cx="96.94" cy="170.29" r="0.38" fill="#3048ff" fill-opacity="0.5"/><circle cx="100.76" cy="170.14" r="0.38" fill="#3048ff" fill-opacity="0.5"/><circle cx="94.46" cy="170.42" r="0.38" fill="#3048ff" fill-opacity="0.5"/><circle cx="87.70" cy="171.90" r="0.38" fill="#3048ff" fill-opacity="0.5"/><circle cx="95.87" cy="166.86" r="0.38" fill="#3048ff" fill-opacity="0.5"/><circle cx="99.47" cy="174.15" r="0.38" fill="#3048ff" fill-opacity="0.5"/><circle cx="89.65" cy="166.97" r="0.38" fill="#3048ff" fill-opacity="0.5"/><circle cx="95.75" cy="169.43" r="0.38" fill="#3048ff" fill-opacity="0.5"/><circle cx="93.27" cy="166.07" r="0.38" fill="#3048ff" fill-opacity="0.5"/><circle cx="102.33" cy="171.91" r="0.38" fill="#3048ff" fill-opacity="0.5"/><ellipse cx="94.70" cy="168.90" rx="6.1" ry="4.9" fill="url(#gbig)"/><circle cx="110.64" cy="166.17" r="0.38" fill="#3048ff" fill-opacity="0.5"/><circle cx="120.49" cy="171.77" r="0.38" fill="#3048ff" fill-opacity="0.5"/><circle cx="120.89" cy="171.34" r="0.38" fill="#3048ff" fill-opacity="0.5"/><circle cx="111.73" cy="170.03" r="0.38" fill="#3048ff" fill-opacity="0.5"/><circle cx="107.36" cy="167.60" r="0.38" fill="#3048ff" fill-opacity="0.5"/><circle cx="114.50" cy="170.65" r="0.38" fill="#3048ff" fill-opacity="0.5"/><circle cx="112.23" cy="169.10" r="0.38" fill="#3048ff" fill-opacity="0.5"/><circle cx="116.26" cy="170.30" r="0.38" fill="#3048ff" fill-opacity="0.5"/><circle cx="116.87" cy="169.90" r="0.38" fill="#3048ff" fill-opacity="0.5"/><circle cx="113.60" cy="171.29" r="0.38" fill="#3048ff" fill-opacity="0.5"/><circle cx="114.87" cy="167.42" r="0.38" fill="#3048ff" fill-opacity="0.5"/><circle cx="112.57" cy="169.40" r="0.38" fill="#3048ff" fill-opacity="0.5"/><circle cx="114.33" cy="169.78" r="0.38" fill="#3048ff" fill-opacity="0.5"/><circle cx="114.70" cy="169.82" r="0.38" fill="#3048ff" fill-opacity="0.5"/><circle cx="114.24" cy="166.38" r="0.38" fill="#3048ff" fill-opacity="0.5"/><circle cx="116.13" cy="171.93" r="0.38" fill="#3048ff" fill-opacity="0.5"/><circle cx="116.18" cy="168.95" r="0.38" fill="#3048ff" fill-opacity="0.5"/><circle cx="116.22" cy="167.08" r="0.38" fill="#3048ff" fill-opacity="0.5"/><circle cx="108.25" cy="169.54" r="0.38" fill="#3048ff" fill-opacity="0.5"/><circle cx="111.54" cy="171.18" r="0.38" fill="#3048ff" fill-opacity="0.5"/><circle cx="111.01" cy="163.09" r="0.38" fill="#3048ff" fill-opacity="0.5"/><circle cx="111.17" cy="173.19" r="0.38" fill="#3048ff" fill-opacity="0.5"/><circle cx="113.40" cy="166.11" r="0.38" fill="#3048ff" fill-opacity="0.5"/><circle cx="112.10" cy="170.65" r="0.38" fill="#3048ff" fill-opacity="0.5"/><circle cx="116.39" cy="169.82" r="0.38" fill="#3048ff" fill-opacity="0.5"/><circle cx="119.75" cy="171.10" r="0.38" fill="#3048ff" fill-opacity="0.5"/><circle cx="114.63" cy="170.83" r="0.38" fill="#3048ff" fill-opacity="0.5"/><circle cx="120.33" cy="171.73" r="0.38" fill="#3048ff" fill-opacity="0.5"/><circle cx="118.18" cy="166.80" r="0.38" fill="#3048ff" fill-opacity="0.5"/><circle cx="114.20" cy="171.15" r="0.38" fill="#3048ff" fill-opacity="0.5"/><circle cx="113.69" cy="171.97" r="0.38" fill="#3048ff" fill-opacity="0.5"/><circle cx="116.73" cy="171.58" r="0.38" fill="#3048ff" fill-opacity="0.5"/><circle cx="113.98" cy="175.51" r="0.38" fill="#3048ff" fill-opacity="0.5"/><circle cx="118.92" cy="168.88" r="0.38" fill="#3048ff" fill-opacity="0.5"/><circle cx="115.01" cy="175.63" r="0.38" fill="#3048ff" fill-opacity="0.5"/><circle cx="113.53" cy="171.50" r="0.38" fill="#3048ff" fill-opacity="0.5"/><circle cx="118.03" cy="169.42" r="0.38" fill="#3048ff" fill-opacity="0.5"/><circle cx="110.73" cy="169.85" r="0.38" fill="#3048ff" fill-opacity="0.5"/><circle cx="115.92" cy="172.11" r="0.38" fill="#3048ff" fill-opacity="0.5"/><circle cx="117.36" cy="169.46" r="0.38" fill="#3048ff" fill-opacity="0.5"/><circle cx="117.60" cy="170.70" r="0.38" fill="#3048ff" fill-opacity="0.5"/><circle cx="115.40" cy="169.53" r="0.38" fill="#3048ff" fill-opacity="0.5"/><circle cx="113.87" cy="171.05" r="0.38" fill="#3048ff" fill-opacity="0.5"/><circle cx="111.12" cy="167.89" r="0.38" fill="#3048ff" fill-opacity="0.5"/><circle cx="114.72" cy="165.89" r="0.38" fill="#3048ff" fill-opacity="0.5"/><ellipse cx="114.70" cy="169.40" rx="5.4" ry="3.9" fill="url(#ggrn)"/>
<rect x="87.30" y="131.40" width="45.4" height="45" fill="none" stroke="#858585" stroke-width="1"/>
<rect x="87.70" y="131.80" width="15.5" height="21.1" fill="none" stroke="#858585" stroke-width="0.8"/>
<text transform="translate(104.70,140.60) scale(1,1.08)" font-size="5.0" text-anchor="start" fill="#1a1a1a" stroke="#1a1a1a" stroke-width="0.22" font-weight="bold" >2.42</text>
<text transform="translate(116.20,154.90) scale(1,1.12)" font-size="6.6" text-anchor="start" fill="#c20d17" stroke="#c20d17" stroke-width="0.22" font-weight="bold" >521</text>
<ellipse cx="143.20" cy="142.00" rx="3.60" ry="4.60" fill="url(#gup)" opacity="1.00"/><circle cx="142.42" cy="135.97" r="0.38" fill="#3048ff" fill-opacity="0.55"/><circle cx="141.97" cy="144.22" r="0.38" fill="#3048ff" fill-opacity="0.55"/><circle cx="144.22" cy="142.23" r="0.38" fill="#3048ff" fill-opacity="0.55"/><circle cx="142.78" cy="137.87" r="0.38" fill="#3048ff" fill-opacity="0.55"/><circle cx="146.49" cy="144.05" r="0.38" fill="#3048ff" fill-opacity="0.55"/><circle cx="145.17" cy="139.58" r="0.38" fill="#3048ff" fill-opacity="0.55"/><circle cx="142.87" cy="136.58" r="0.38" fill="#3048ff" fill-opacity="0.55"/><circle cx="144.60" cy="145.39" r="0.38" fill="#3048ff" fill-opacity="0.55"/><circle cx="139.78" cy="142.23" r="0.38" fill="#3048ff" fill-opacity="0.55"/><circle cx="144.33" cy="136.76" r="0.38" fill="#3048ff" fill-opacity="0.55"/><circle cx="139.91" cy="138.99" r="0.38" fill="#3048ff" fill-opacity="0.55"/><circle cx="142.07" cy="137.91" r="0.38" fill="#3048ff" fill-opacity="0.55"/><circle cx="143.26" cy="143.20" r="0.38" fill="#3048ff" fill-opacity="0.55"/><circle cx="144.34" cy="144.65" r="0.38" fill="#3048ff" fill-opacity="0.55"/><circle cx="145.90" cy="146.13" r="0.38" fill="#3048ff" fill-opacity="0.55"/><circle cx="140.84" cy="140.78" r="0.38" fill="#3048ff" fill-opacity="0.55"/><circle cx="141.29" cy="138.95" r="0.38" fill="#3048ff" fill-opacity="0.55"/><circle cx="143.05" cy="142.42" r="0.38" fill="#3048ff" fill-opacity="0.55"/><circle cx="144.08" cy="137.32" r="0.38" fill="#3048ff" fill-opacity="0.55"/><circle cx="140.97" cy="142.33" r="0.38" fill="#3048ff" fill-opacity="0.55"/><circle cx="142.84" cy="141.40" r="0.38" fill="#3048ff" fill-opacity="0.55"/><circle cx="143.09" cy="139.97" r="0.38" fill="#3048ff" fill-opacity="0.55"/><circle cx="144.46" cy="143.53" r="0.38" fill="#3048ff" fill-opacity="0.55"/><circle cx="143.04" cy="140.25" r="0.38" fill="#3048ff" fill-opacity="0.55"/><circle cx="142.89" cy="133.69" r="0.38" fill="#3048ff" fill-opacity="0.55"/><circle cx="141.43" cy="142.52" r="0.38" fill="#3048ff" fill-opacity="0.55"/><circle cx="140.49" cy="143.04" r="0.38" fill="#3048ff" fill-opacity="0.55"/><circle cx="143.47" cy="137.99" r="0.38" fill="#3048ff" fill-opacity="0.55"/><circle cx="142.75" cy="141.40" r="0.38" fill="#3048ff" fill-opacity="0.55"/><circle cx="144.03" cy="144.36" r="0.38" fill="#3048ff" fill-opacity="0.55"/><circle cx="143.13" cy="139.68" r="0.38" fill="#3048ff" fill-opacity="0.55"/><circle cx="142.94" cy="142.19" r="0.38" fill="#3048ff" fill-opacity="0.55"/><circle cx="144.52" cy="143.34" r="0.38" fill="#3048ff" fill-opacity="0.55"/><circle cx="141.90" cy="138.07" r="0.38" fill="#3048ff" fill-opacity="0.55"/><circle cx="142.53" cy="140.03" r="0.38" fill="#3048ff" fill-opacity="0.55"/><circle cx="141.20" cy="142.03" r="0.38" fill="#3048ff" fill-opacity="0.55"/><circle cx="142.32" cy="142.74" r="0.38" fill="#3048ff" fill-opacity="0.55"/><circle cx="144.14" cy="141.08" r="0.38" fill="#3048ff" fill-opacity="0.55"/><circle cx="147.38" cy="141.37" r="0.38" fill="#3048ff" fill-opacity="0.55"/><circle cx="145.18" cy="142.79" r="0.38" fill="#3048ff" fill-opacity="0.55"/><circle cx="145.21" cy="134.80" r="0.38" fill="#3048ff" fill-opacity="0.55"/><circle cx="141.85" cy="143.19" r="0.38" fill="#3048ff" fill-opacity="0.55"/><circle cx="144.28" cy="149.88" r="0.38" fill="#3048ff" fill-opacity="0.55"/><circle cx="143.78" cy="146.50" r="0.38" fill="#3048ff" fill-opacity="0.55"/><circle cx="144.58" cy="145.43" r="0.38" fill="#3048ff" fill-opacity="0.55"/><circle cx="144.36" cy="157.54" r="0.38" fill="#3048ff" fill-opacity="0.45"/><circle cx="144.36" cy="152.47" r="0.38" fill="#3048ff" fill-opacity="0.45"/><circle cx="145.10" cy="152.81" r="0.38" fill="#3048ff" fill-opacity="0.45"/><circle cx="144.07" cy="170.06" r="0.38" fill="#3048ff" fill-opacity="0.45"/><circle cx="143.55" cy="158.51" r="0.38" fill="#3048ff" fill-opacity="0.45"/><circle cx="145.08" cy="158.54" r="0.38" fill="#3048ff" fill-opacity="0.45"/><circle cx="142.91" cy="159.82" r="0.38" fill="#3048ff" fill-opacity="0.45"/><circle cx="144.44" cy="162.31" r="0.38" fill="#3048ff" fill-opacity="0.45"/><circle cx="142.95" cy="168.04" r="0.38" fill="#3048ff" fill-opacity="0.45"/><circle cx="145.63" cy="158.50" r="0.38" fill="#3048ff" fill-opacity="0.45"/><circle cx="144.10" cy="156.04" r="0.38" fill="#3048ff" fill-opacity="0.45"/><circle cx="145.36" cy="154.52" r="0.38" fill="#3048ff" fill-opacity="0.45"/><circle cx="144.54" cy="155.76" r="0.38" fill="#3048ff" fill-opacity="0.45"/><circle cx="143.04" cy="162.35" r="0.38" fill="#3048ff" fill-opacity="0.45"/><circle cx="145.27" cy="158.34" r="0.38" fill="#3048ff" fill-opacity="0.45"/><circle cx="143.05" cy="162.86" r="0.38" fill="#3048ff" fill-opacity="0.45"/><circle cx="143.75" cy="160.11" r="0.38" fill="#3048ff" fill-opacity="0.45"/><circle cx="145.48" cy="164.62" r="0.38" fill="#3048ff" fill-opacity="0.45"/><circle cx="143.23" cy="170.96" r="0.38" fill="#3048ff" fill-opacity="0.45"/><circle cx="143.80" cy="162.72" r="0.38" fill="#3048ff" fill-opacity="0.45"/><circle cx="143.09" cy="158.15" r="0.38" fill="#3048ff" fill-opacity="0.45"/><circle cx="141.88" cy="168.23" r="0.38" fill="#3048ff" fill-opacity="0.45"/><circle cx="145.30" cy="151.72" r="0.38" fill="#3048ff" fill-opacity="0.45"/><circle cx="142.14" cy="149.48" r="0.38" fill="#3048ff" fill-opacity="0.45"/><circle cx="145.09" cy="155.87" r="0.38" fill="#3048ff" fill-opacity="0.45"/><circle cx="143.73" cy="156.68" r="0.38" fill="#3048ff" fill-opacity="0.45"/><circle cx="143.67" cy="152.42" r="0.38" fill="#3048ff" fill-opacity="0.45"/><circle cx="143.83" cy="150.49" r="0.38" fill="#3048ff" fill-opacity="0.45"/><circle cx="143.72" cy="160.10" r="0.38" fill="#3048ff" fill-opacity="0.45"/><circle cx="144.31" cy="157.13" r="0.38" fill="#3048ff" fill-opacity="0.45"/><circle cx="142.81" cy="159.28" r="0.38" fill="#3048ff" fill-opacity="0.45"/><circle cx="143.27" cy="167.01" r="0.38" fill="#3048ff" fill-opacity="0.45"/><circle cx="144.64" cy="157.77" r="0.38" fill="#3048ff" fill-opacity="0.45"/><circle cx="143.28" cy="154.54" r="0.38" fill="#3048ff" fill-opacity="0.45"/><circle cx="142.77" cy="156.46" r="0.38" fill="#3048ff" fill-opacity="0.45"/><circle cx="144.12" cy="161.24" r="0.38" fill="#3048ff" fill-opacity="0.45"/><circle cx="144.43" cy="169.94" r="0.38" fill="#3048ff" fill-opacity="0.45"/><circle cx="143.02" cy="158.47" r="0.38" fill="#3048ff" fill-opacity="0.45"/><circle cx="167.91" cy="154.93" r="0.38" fill="#3048ff" fill-opacity="0.42"/><circle cx="163.27" cy="163.08" r="0.38" fill="#3048ff" fill-opacity="0.42"/><circle cx="164.22" cy="164.03" r="0.38" fill="#3048ff" fill-opacity="0.42"/><circle cx="163.67" cy="163.86" r="0.38" fill="#3048ff" fill-opacity="0.42"/><circle cx="164.07" cy="165.49" r="0.38" fill="#3048ff" fill-opacity="0.42"/><circle cx="161.35" cy="158.86" r="0.38" fill="#3048ff" fill-opacity="0.42"/><circle cx="164.00" cy="158.27" r="0.38" fill="#3048ff" fill-opacity="0.42"/><circle cx="162.54" cy="164.91" r="0.38" fill="#3048ff" fill-opacity="0.42"/><circle cx="163.09" cy="164.94" r="0.38" fill="#3048ff" fill-opacity="0.42"/><circle cx="165.04" cy="163.63" r="0.38" fill="#3048ff" fill-opacity="0.42"/><circle cx="164.71" cy="161.98" r="0.38" fill="#3048ff" fill-opacity="0.42"/><circle cx="162.03" cy="162.28" r="0.38" fill="#3048ff" fill-opacity="0.42"/><circle cx="164.64" cy="160.28" r="0.38" fill="#3048ff" fill-opacity="0.42"/><circle cx="163.86" cy="165.40" r="0.38" fill="#3048ff" fill-opacity="0.42"/><circle cx="162.77" cy="164.96" r="0.38" fill="#3048ff" fill-opacity="0.42"/><circle cx="166.61" cy="160.18" r="0.38" fill="#3048ff" fill-opacity="0.42"/><circle cx="154.31" cy="168.99" r="0.38" fill="#3048ff" fill-opacity="0.38"/><circle cx="161.97" cy="169.64" r="0.38" fill="#3048ff" fill-opacity="0.38"/><circle cx="158.44" cy="168.23" r="0.38" fill="#3048ff" fill-opacity="0.38"/><circle cx="153.41" cy="169.19" r="0.38" fill="#3048ff" fill-opacity="0.38"/><circle cx="143.73" cy="171.22" r="0.38" fill="#3048ff" fill-opacity="0.38"/><circle cx="158.45" cy="166.75" r="0.38" fill="#3048ff" fill-opacity="0.38"/><circle cx="157.59" cy="169.02" r="0.38" fill="#3048ff" fill-opacity="0.38"/><circle cx="155.97" cy="169.71" r="0.38" fill="#3048ff" fill-opacity="0.38"/><circle cx="145.26" cy="168.90" r="0.38" fill="#3048ff" fill-opacity="0.38"/><circle cx="161.71" cy="168.40" r="0.38" fill="#3048ff" fill-opacity="0.38"/><circle cx="147.87" cy="167.30" r="0.38" fill="#3048ff" fill-opacity="0.38"/><circle cx="146.78" cy="169.67" r="0.38" fill="#3048ff" fill-opacity="0.38"/><circle cx="162.81" cy="169.80" r="0.38" fill="#3048ff" fill-opacity="0.38"/><circle cx="154.85" cy="172.33" r="0.38" fill="#3048ff" fill-opacity="0.38"/><circle cx="150.64" cy="168.26" r="0.38" fill="#3048ff" fill-opacity="0.38"/><circle cx="156.41" cy="169.97" r="0.38" fill="#3048ff" fill-opacity="0.38"/><circle cx="140.25" cy="165.51" r="0.38" fill="#3048ff" fill-opacity="0.5"/><circle cx="144.95" cy="169.62" r="0.38" fill="#3048ff" fill-opacity="0.5"/><circle cx="139.20" cy="168.31" r="0.38" fill="#3048ff" fill-opacity="0.5"/><circle cx="141.95" cy="170.23" r="0.38" fill="#3048ff" fill-opacity="0.5"/><circle cx="143.48" cy="168.65" r="0.38" fill="#3048ff" fill-opacity="0.5"/><circle cx="142.63" cy="171.96" r="0.38" fill="#3048ff" fill-opacity="0.5"/><circle cx="148.91" cy="167.84" r="0.38" fill="#3048ff" fill-opacity="0.5"/><circle cx="146.95" cy="166.70" r="0.38" fill="#3048ff" fill-opacity="0.5"/><circle cx="144.16" cy="171.07" r="0.38" fill="#3048ff" fill-opacity="0.5"/><circle cx="149.35" cy="167.79" r="0.38" fill="#3048ff" fill-opacity="0.5"/><circle cx="143.63" cy="169.47" r="0.38" fill="#3048ff" fill-opacity="0.5"/><circle cx="138.51" cy="168.95" r="0.38" fill="#3048ff" fill-opacity="0.5"/><circle cx="141.47" cy="169.98" r="0.38" fill="#3048ff" fill-opacity="0.5"/><circle cx="139.83" cy="163.17" r="0.38" fill="#3048ff" fill-opacity="0.5"/><circle cx="144.04" cy="169.66" r="0.38" fill="#3048ff" fill-opacity="0.5"/><circle cx="141.92" cy="171.48" r="0.38" fill="#3048ff" fill-opacity="0.5"/><circle cx="142.92" cy="167.14" r="0.38" fill="#3048ff" fill-opacity="0.5"/><circle cx="145.62" cy="164.35" r="0.38" fill="#3048ff" fill-opacity="0.5"/><circle cx="141.46" cy="168.84" r="0.38" fill="#3048ff" fill-opacity="0.5"/><circle cx="146.96" cy="168.43" r="0.38" fill="#3048ff" fill-opacity="0.5"/><circle cx="145.01" cy="167.00" r="0.38" fill="#3048ff" fill-opacity="0.5"/><circle cx="144.99" cy="173.72" r="0.38" fill="#3048ff" fill-opacity="0.5"/><circle cx="141.43" cy="175.76" r="0.38" fill="#3048ff" fill-opacity="0.5"/><circle cx="141.58" cy="168.95" r="0.38" fill="#3048ff" fill-opacity="0.5"/><circle cx="144.52" cy="171.87" r="0.38" fill="#3048ff" fill-opacity="0.5"/><circle cx="139.45" cy="162.81" r="0.38" fill="#3048ff" fill-opacity="0.5"/><circle cx="146.08" cy="171.21" r="0.38" fill="#3048ff" fill-opacity="0.5"/><circle cx="146.15" cy="176.53" r="0.38" fill="#3048ff" fill-opacity="0.5"/><circle cx="144.64" cy="169.64" r="0.38" fill="#3048ff" fill-opacity="0.5"/><circle cx="147.25" cy="169.97" r="0.38" fill="#3048ff" fill-opacity="0.5"/><circle cx="149.89" cy="165.31" r="0.38" fill="#3048ff" fill-opacity="0.5"/><circle cx="142.55" cy="158.91" r="0.38" fill="#3048ff" fill-opacity="0.5"/><circle cx="146.82" cy="167.82" r="0.38" fill="#3048ff" fill-opacity="0.5"/><circle cx="147.23" cy="175.15" r="0.38" fill="#3048ff" fill-opacity="0.5"/><circle cx="143.88" cy="168.16" r="0.38" fill="#3048ff" fill-opacity="0.5"/><circle cx="142.10" cy="166.47" r="0.38" fill="#3048ff" fill-opacity="0.5"/><circle cx="141.63" cy="170.75" r="0.38" fill="#3048ff" fill-opacity="0.5"/><circle cx="144.03" cy="169.09" r="0.38" fill="#3048ff" fill-opacity="0.5"/><circle cx="143.28" cy="171.55" r="0.38" fill="#3048ff" fill-opacity="0.5"/><circle cx="145.68" cy="168.49" r="0.38" fill="#3048ff" fill-opacity="0.5"/><circle cx="146.29" cy="168.46" r="0.38" fill="#3048ff" fill-opacity="0.5"/><circle cx="139.75" cy="173.12" r="0.38" fill="#3048ff" fill-opacity="0.5"/><circle cx="145.58" cy="166.12" r="0.38" fill="#3048ff" fill-opacity="0.5"/><circle cx="147.78" cy="169.90" r="0.38" fill="#3048ff" fill-opacity="0.5"/><circle cx="138.27" cy="173.57" r="0.38" fill="#3048ff" fill-opacity="0.5"/><circle cx="145.10" cy="171.49" r="0.38" fill="#3048ff" fill-opacity="0.5"/><circle cx="144.61" cy="168.47" r="0.38" fill="#3048ff" fill-opacity="0.5"/><circle cx="138.33" cy="171.72" r="0.38" fill="#3048ff" fill-opacity="0.5"/><circle cx="144.01" cy="168.07" r="0.38" fill="#3048ff" fill-opacity="0.5"/><circle cx="145.16" cy="169.13" r="0.38" fill="#3048ff" fill-opacity="0.5"/><circle cx="146.33" cy="167.82" r="0.38" fill="#3048ff" fill-opacity="0.5"/><circle cx="143.77" cy="162.70" r="0.38" fill="#3048ff" fill-opacity="0.5"/><circle cx="142.38" cy="170.86" r="0.38" fill="#3048ff" fill-opacity="0.5"/><circle cx="148.71" cy="167.84" r="0.38" fill="#3048ff" fill-opacity="0.5"/><circle cx="143.46" cy="173.49" r="0.38" fill="#3048ff" fill-opacity="0.5"/><circle cx="142.73" cy="171.03" r="0.38" fill="#3048ff" fill-opacity="0.5"/><circle cx="149.94" cy="169.02" r="0.38" fill="#3048ff" fill-opacity="0.5"/><circle cx="148.32" cy="166.84" r="0.38" fill="#3048ff" fill-opacity="0.5"/><circle cx="144.65" cy="168.68" r="0.38" fill="#3048ff" fill-opacity="0.5"/><circle cx="144.31" cy="172.18" r="0.38" fill="#3048ff" fill-opacity="0.5"/><ellipse cx="143.90" cy="168.90" rx="6.1" ry="4.9" fill="url(#gbig)"/><circle cx="172.03" cy="167.80" r="0.38" fill="#3048ff" fill-opacity="0.5"/><circle cx="161.94" cy="170.59" r="0.38" fill="#3048ff" fill-opacity="0.5"/><circle cx="160.31" cy="170.59" r="0.38" fill="#3048ff" fill-opacity="0.5"/><circle cx="165.84" cy="168.73" r="0.38" fill="#3048ff" fill-opacity="0.5"/><circle cx="165.71" cy="165.68" r="0.38" fill="#3048ff" fill-opacity="0.5"/><circle cx="166.48" cy="165.69" r="0.38" fill="#3048ff" fill-opacity="0.5"/><circle cx="161.53" cy="168.07" r="0.38" fill="#3048ff" fill-opacity="0.5"/><circle cx="162.54" cy="171.46" r="0.38" fill="#3048ff" fill-opacity="0.5"/><circle cx="164.18" cy="168.45" r="0.38" fill="#3048ff" fill-opacity="0.5"/><circle cx="165.75" cy="173.20" r="0.38" fill="#3048ff" fill-opacity="0.5"/><circle cx="163.92" cy="170.28" r="0.38" fill="#3048ff" fill-opacity="0.5"/><circle cx="168.11" cy="170.04" r="0.38" fill="#3048ff" fill-opacity="0.5"/><circle cx="159.53" cy="175.38" r="0.38" fill="#3048ff" fill-opacity="0.5"/><circle cx="171.41" cy="164.64" r="0.38" fill="#3048ff" fill-opacity="0.5"/><circle cx="163.77" cy="170.40" r="0.38" fill="#3048ff" fill-opacity="0.5"/><circle cx="167.18" cy="171.01" r="0.38" fill="#3048ff" fill-opacity="0.5"/><circle cx="162.97" cy="166.87" r="0.38" fill="#3048ff" fill-opacity="0.5"/><circle cx="164.25" cy="171.88" r="0.38" fill="#3048ff" fill-opacity="0.5"/><circle cx="160.20" cy="166.93" r="0.38" fill="#3048ff" fill-opacity="0.5"/><circle cx="163.82" cy="164.75" r="0.38" fill="#3048ff" fill-opacity="0.5"/><circle cx="163.01" cy="168.35" r="0.38" fill="#3048ff" fill-opacity="0.5"/><circle cx="165.43" cy="167.72" r="0.38" fill="#3048ff" fill-opacity="0.5"/><circle cx="160.90" cy="168.45" r="0.38" fill="#3048ff" fill-opacity="0.5"/><circle cx="163.73" cy="167.80" r="0.38" fill="#3048ff" fill-opacity="0.5"/><circle cx="163.94" cy="171.20" r="0.38" fill="#3048ff" fill-opacity="0.5"/><circle cx="167.93" cy="173.49" r="0.38" fill="#3048ff" fill-opacity="0.5"/><circle cx="161.24" cy="168.39" r="0.38" fill="#3048ff" fill-opacity="0.5"/><circle cx="155.46" cy="173.96" r="0.38" fill="#3048ff" fill-opacity="0.5"/><circle cx="161.44" cy="169.32" r="0.38" fill="#3048ff" fill-opacity="0.5"/><circle cx="165.68" cy="166.14" r="0.38" fill="#3048ff" fill-opacity="0.5"/><circle cx="165.48" cy="169.34" r="0.38" fill="#3048ff" fill-opacity="0.5"/><circle cx="157.69" cy="170.10" r="0.38" fill="#3048ff" fill-opacity="0.5"/><circle cx="167.96" cy="164.92" r="0.38" fill="#3048ff" fill-opacity="0.5"/><circle cx="166.64" cy="169.90" r="0.38" fill="#3048ff" fill-opacity="0.5"/><circle cx="165.51" cy="170.46" r="0.38" fill="#3048ff" fill-opacity="0.5"/><circle cx="168.33" cy="168.86" r="0.38" fill="#3048ff" fill-opacity="0.5"/><circle cx="166.87" cy="168.42" r="0.38" fill="#3048ff" fill-opacity="0.5"/><circle cx="166.37" cy="167.45" r="0.38" fill="#3048ff" fill-opacity="0.5"/><circle cx="163.53" cy="173.55" r="0.38" fill="#3048ff" fill-opacity="0.5"/><circle cx="165.42" cy="169.02" r="0.38" fill="#3048ff" fill-opacity="0.5"/><circle cx="160.01" cy="167.50" r="0.38" fill="#3048ff" fill-opacity="0.5"/><circle cx="164.56" cy="171.65" r="0.38" fill="#3048ff" fill-opacity="0.5"/><circle cx="165.35" cy="170.66" r="0.38" fill="#3048ff" fill-opacity="0.5"/><circle cx="163.76" cy="172.64" r="0.38" fill="#3048ff" fill-opacity="0.5"/><circle cx="162.57" cy="168.08" r="0.38" fill="#3048ff" fill-opacity="0.5"/><ellipse cx="163.90" cy="169.40" rx="5.4" ry="3.9" fill="url(#ggrn)"/>
<rect x="136.50" y="131.40" width="45.4" height="45" fill="none" stroke="#858585" stroke-width="1"/>
<rect x="136.90" y="131.80" width="15.5" height="21.1" fill="none" stroke="#858585" stroke-width="0.8"/>
<text transform="translate(153.90,140.60) scale(1,1.08)" font-size="5.0" text-anchor="start" fill="#1a1a1a" stroke="#1a1a1a" stroke-width="0.22" font-weight="bold" >2.08</text>
<text transform="translate(165.40,154.90) scale(1,1.12)" font-size="6.6" text-anchor="start" fill="#c20d17" stroke="#c20d17" stroke-width="0.22" font-weight="bold" >703</text>
<text transform="translate(60.20,208.70) scale(1,1.08)" font-size="8.15" text-anchor="middle" fill="#111" stroke="#111" stroke-width="0.22" font-weight="bold" >Day24</text>
<ellipse cx="94.00" cy="191.30" rx="3.60" ry="4.60" fill="url(#gup)" opacity="0.85"/><circle cx="95.60" cy="191.90" r="0.38" fill="#3048ff" fill-opacity="0.55"/><circle cx="93.50" cy="189.86" r="0.38" fill="#3048ff" fill-opacity="0.55"/><circle cx="93.54" cy="193.70" r="0.38" fill="#3048ff" fill-opacity="0.55"/><circle cx="94.64" cy="187.83" r="0.38" fill="#3048ff" fill-opacity="0.55"/><circle cx="94.77" cy="192.27" r="0.38" fill="#3048ff" fill-opacity="0.55"/><circle cx="92.20" cy="194.17" r="0.38" fill="#3048ff" fill-opacity="0.55"/><circle cx="93.50" cy="190.63" r="0.38" fill="#3048ff" fill-opacity="0.55"/><circle cx="95.43" cy="195.93" r="0.38" fill="#3048ff" fill-opacity="0.55"/><circle cx="92.76" cy="193.10" r="0.38" fill="#3048ff" fill-opacity="0.55"/><circle cx="92.42" cy="199.11" r="0.38" fill="#3048ff" fill-opacity="0.55"/><circle cx="93.11" cy="195.52" r="0.38" fill="#3048ff" fill-opacity="0.55"/><circle cx="92.83" cy="194.30" r="0.38" fill="#3048ff" fill-opacity="0.55"/><circle cx="97.99" cy="183.57" r="0.38" fill="#3048ff" fill-opacity="0.55"/><circle cx="93.22" cy="193.30" r="0.38" fill="#3048ff" fill-opacity="0.55"/><circle cx="93.83" cy="189.56" r="0.38" fill="#3048ff" fill-opacity="0.55"/><circle cx="97.87" cy="191.95" r="0.38" fill="#3048ff" fill-opacity="0.55"/><circle cx="91.04" cy="194.43" r="0.38" fill="#3048ff" fill-opacity="0.55"/><circle cx="90.90" cy="195.38" r="0.38" fill="#3048ff" fill-opacity="0.55"/><circle cx="92.96" cy="192.16" r="0.38" fill="#3048ff" fill-opacity="0.55"/><circle cx="96.27" cy="192.08" r="0.38" fill="#3048ff" fill-opacity="0.55"/><circle cx="91.50" cy="186.27" r="0.38" fill="#3048ff" fill-opacity="0.55"/><circle cx="96.13" cy="194.07" r="0.38" fill="#3048ff" fill-opacity="0.55"/><circle cx="92.53" cy="194.45" r="0.38" fill="#3048ff" fill-opacity="0.55"/><circle cx="94.89" cy="193.77" r="0.38" fill="#3048ff" fill-opacity="0.55"/><circle cx="89.93" cy="190.73" r="0.38" fill="#3048ff" fill-opacity="0.55"/><circle cx="95.62" cy="194.05" r="0.38" fill="#3048ff" fill-opacity="0.55"/><circle cx="95.59" cy="183.84" r="0.38" fill="#3048ff" fill-opacity="0.55"/><circle cx="94.30" cy="193.28" r="0.38" fill="#3048ff" fill-opacity="0.55"/><circle cx="98.59" cy="188.65" r="0.38" fill="#3048ff" fill-opacity="0.55"/><circle cx="93.41" cy="191.81" r="0.38" fill="#3048ff" fill-opacity="0.55"/><circle cx="95.59" cy="190.28" r="0.38" fill="#3048ff" fill-opacity="0.55"/><circle cx="95.86" cy="203.37" r="0.38" fill="#3048ff" fill-opacity="0.45"/><circle cx="94.89" cy="204.80" r="0.38" fill="#3048ff" fill-opacity="0.45"/><circle cx="94.77" cy="203.90" r="0.38" fill="#3048ff" fill-opacity="0.45"/><circle cx="92.84" cy="213.71" r="0.38" fill="#3048ff" fill-opacity="0.45"/><circle cx="94.93" cy="204.63" r="0.38" fill="#3048ff" fill-opacity="0.45"/><circle cx="94.82" cy="213.15" r="0.38" fill="#3048ff" fill-opacity="0.45"/><circle cx="93.52" cy="207.09" r="0.38" fill="#3048ff" fill-opacity="0.45"/><circle cx="95.19" cy="210.59" r="0.38" fill="#3048ff" fill-opacity="0.45"/><circle cx="94.23" cy="196.11" r="0.38" fill="#3048ff" fill-opacity="0.45"/><circle cx="95.97" cy="209.51" r="0.38" fill="#3048ff" fill-opacity="0.45"/><circle cx="94.61" cy="206.17" r="0.38" fill="#3048ff" fill-opacity="0.45"/><circle cx="94.89" cy="205.36" r="0.38" fill="#3048ff" fill-opacity="0.45"/><circle cx="93.47" cy="203.63" r="0.38" fill="#3048ff" fill-opacity="0.45"/><circle cx="93.94" cy="204.33" r="0.38" fill="#3048ff" fill-opacity="0.45"/><circle cx="93.33" cy="211.20" r="0.38" fill="#3048ff" fill-opacity="0.45"/><circle cx="93.16" cy="211.33" r="0.38" fill="#3048ff" fill-opacity="0.45"/><circle cx="93.48" cy="209.64" r="0.38" fill="#3048ff" fill-opacity="0.45"/><circle cx="96.11" cy="208.82" r="0.38" fill="#3048ff" fill-opacity="0.45"/><circle cx="93.80" cy="207.97" r="0.38" fill="#3048ff" fill-opacity="0.45"/><circle cx="94.76" cy="198.16" r="0.38" fill="#3048ff" fill-opacity="0.45"/><circle cx="93.93" cy="208.60" r="0.38" fill="#3048ff" fill-opacity="0.45"/><circle cx="94.08" cy="208.14" r="0.38" fill="#3048ff" fill-opacity="0.45"/><circle cx="95.41" cy="211.92" r="0.38" fill="#3048ff" fill-opacity="0.45"/><circle cx="95.60" cy="210.94" r="0.38" fill="#3048ff" fill-opacity="0.45"/><circle cx="94.28" cy="207.60" r="0.38" fill="#3048ff" fill-opacity="0.45"/><circle cx="94.30" cy="205.98" r="0.38" fill="#3048ff" fill-opacity="0.45"/><circle cx="94.40" cy="198.21" r="0.38" fill="#3048ff" fill-opacity="0.45"/><circle cx="94.23" cy="207.57" r="0.38" fill="#3048ff" fill-opacity="0.45"/><circle cx="93.53" cy="207.57" r="0.38" fill="#3048ff" fill-opacity="0.45"/><circle cx="115.52" cy="211.04" r="0.38" fill="#3048ff" fill-opacity="0.42"/><circle cx="117.71" cy="201.27" r="0.38" fill="#3048ff" fill-opacity="0.42"/><circle cx="114.51" cy="204.40" r="0.38" fill="#3048ff" fill-opacity="0.42"/><circle cx="116.17" cy="222.32" r="0.38" fill="#3048ff" fill-opacity="0.42"/><circle cx="111.30" cy="212.21" r="0.38" fill="#3048ff" fill-opacity="0.42"/><circle cx="115.53" cy="210.49" r="0.38" fill="#3048ff" fill-opacity="0.42"/><circle cx="115.57" cy="202.73" r="0.38" fill="#3048ff" fill-opacity="0.42"/><circle cx="115.99" cy="213.19" r="0.38" fill="#3048ff" fill-opacity="0.42"/><circle cx="114.83" cy="209.35" r="0.38" fill="#3048ff" fill-opacity="0.42"/><circle cx="115.69" cy="209.76" r="0.38" fill="#3048ff" fill-opacity="0.42"/><circle cx="115.11" cy="209.66" r="0.38" fill="#3048ff" fill-opacity="0.42"/><circle cx="111.65" cy="211.57" r="0.38" fill="#3048ff" fill-opacity="0.42"/><circle cx="115.08" cy="214.72" r="0.38" fill="#3048ff" fill-opacity="0.42"/><circle cx="113.57" cy="211.57" r="0.38" fill="#3048ff" fill-opacity="0.42"/><circle cx="115.66" cy="212.28" r="0.38" fill="#3048ff" fill-opacity="0.42"/><circle cx="116.54" cy="219.67" r="0.38" fill="#3048ff" fill-opacity="0.42"/><circle cx="99.30" cy="215.81" r="0.38" fill="#3048ff" fill-opacity="0.38"/><circle cx="109.01" cy="220.64" r="0.38" fill="#3048ff" fill-opacity="0.38"/><circle cx="109.37" cy="219.64" r="0.38" fill="#3048ff" fill-opacity="0.38"/><circle cx="100.90" cy="217.50" r="0.38" fill="#3048ff" fill-opacity="0.38"/><circle cx="109.19" cy="217.22" r="0.38" fill="#3048ff" fill-opacity="0.38"/><circle cx="94.33" cy="217.10" r="0.38" fill="#3048ff" fill-opacity="0.38"/><circle cx="118.01" cy="221.19" r="0.38" fill="#3048ff" fill-opacity="0.38"/><circle cx="100.52" cy="217.48" r="0.38" fill="#3048ff" fill-opacity="0.38"/><circle cx="105.57" cy="217.45" r="0.38" fill="#3048ff" fill-opacity="0.38"/><circle cx="111.51" cy="218.39" r="0.38" fill="#3048ff" fill-opacity="0.38"/><circle cx="98.33" cy="220.33" r="0.38" fill="#3048ff" fill-opacity="0.38"/><circle cx="101.09" cy="218.81" r="0.38" fill="#3048ff" fill-opacity="0.38"/><circle cx="104.23" cy="218.06" r="0.38" fill="#3048ff" fill-opacity="0.38"/><circle cx="106.09" cy="217.53" r="0.38" fill="#3048ff" fill-opacity="0.38"/><circle cx="94.16" cy="215.41" r="0.38" fill="#3048ff" fill-opacity="0.38"/><circle cx="97.33" cy="217.44" r="0.38" fill="#3048ff" fill-opacity="0.38"/><circle cx="94.62" cy="218.36" r="0.38" fill="#3048ff" fill-opacity="0.5"/><circle cx="96.70" cy="218.55" r="0.38" fill="#3048ff" fill-opacity="0.5"/><circle cx="91.84" cy="216.14" r="0.38" fill="#3048ff" fill-opacity="0.5"/><circle cx="87.07" cy="217.71" r="0.38" fill="#3048ff" fill-opacity="0.5"/><circle cx="96.45" cy="219.74" r="0.38" fill="#3048ff" fill-opacity="0.5"/><circle cx="94.26" cy="217.69" r="0.38" fill="#3048ff" fill-opacity="0.5"/><circle cx="98.07" cy="218.24" r="0.38" fill="#3048ff" fill-opacity="0.5"/><circle cx="97.36" cy="219.89" r="0.38" fill="#3048ff" fill-opacity="0.5"/><circle cx="95.47" cy="221.99" r="0.38" fill="#3048ff" fill-opacity="0.5"/><circle cx="92.64" cy="217.16" r="0.38" fill="#3048ff" fill-opacity="0.5"/><circle cx="91.79" cy="215.89" r="0.38" fill="#3048ff" fill-opacity="0.5"/><circle cx="100.30" cy="223.30" r="0.38" fill="#3048ff" fill-opacity="0.5"/><circle cx="94.78" cy="219.85" r="0.38" fill="#3048ff" fill-opacity="0.5"/><circle cx="98.93" cy="220.54" r="0.38" fill="#3048ff" fill-opacity="0.5"/><circle cx="99.04" cy="214.54" r="0.38" fill="#3048ff" fill-opacity="0.5"/><circle cx="92.40" cy="219.51" r="0.38" fill="#3048ff" fill-opacity="0.5"/><circle cx="99.87" cy="218.50" r="0.38" fill="#3048ff" fill-opacity="0.5"/><circle cx="91.61" cy="217.17" r="0.38" fill="#3048ff" fill-opacity="0.5"/><circle cx="92.32" cy="215.71" r="0.38" fill="#3048ff" fill-opacity="0.5"/><circle cx="100.10" cy="216.39" r="0.38" fill="#3048ff" fill-opacity="0.5"/><circle cx="94.77" cy="224.47" r="0.38" fill="#3048ff" fill-opacity="0.5"/><circle cx="98.96" cy="219.17" r="0.38" fill="#3048ff" fill-opacity="0.5"/><circle cx="92.50" cy="219.39" r="0.38" fill="#3048ff" fill-opacity="0.5"/><circle cx="100.54" cy="220.01" r="0.38" fill="#3048ff" fill-opacity="0.5"/><circle cx="99.24" cy="218.48" r="0.38" fill="#3048ff" fill-opacity="0.5"/><circle cx="96.56" cy="217.62" r="0.38" fill="#3048ff" fill-opacity="0.5"/><circle cx="96.24" cy="221.97" r="0.38" fill="#3048ff" fill-opacity="0.5"/><circle cx="89.55" cy="218.02" r="0.38" fill="#3048ff" fill-opacity="0.5"/><circle cx="95.56" cy="216.54" r="0.38" fill="#3048ff" fill-opacity="0.5"/><circle cx="93.59" cy="220.48" r="0.38" fill="#3048ff" fill-opacity="0.5"/><circle cx="101.91" cy="220.03" r="0.38" fill="#3048ff" fill-opacity="0.5"/><circle cx="95.87" cy="213.70" r="0.38" fill="#3048ff" fill-opacity="0.5"/><circle cx="101.64" cy="218.42" r="0.38" fill="#3048ff" fill-opacity="0.5"/><circle cx="94.58" cy="214.96" r="0.38" fill="#3048ff" fill-opacity="0.5"/><circle cx="94.50" cy="215.02" r="0.38" fill="#3048ff" fill-opacity="0.5"/><circle cx="94.96" cy="219.55" r="0.38" fill="#3048ff" fill-opacity="0.5"/><circle cx="94.81" cy="219.01" r="0.38" fill="#3048ff" fill-opacity="0.5"/><circle cx="91.63" cy="222.35" r="0.38" fill="#3048ff" fill-opacity="0.5"/><circle cx="92.35" cy="212.93" r="0.38" fill="#3048ff" fill-opacity="0.5"/><circle cx="94.02" cy="215.99" r="0.38" fill="#3048ff" fill-opacity="0.5"/><circle cx="91.06" cy="217.17" r="0.38" fill="#3048ff" fill-opacity="0.5"/><circle cx="95.75" cy="214.77" r="0.38" fill="#3048ff" fill-opacity="0.5"/><circle cx="94.20" cy="222.34" r="0.38" fill="#3048ff" fill-opacity="0.5"/><circle cx="97.16" cy="217.76" r="0.38" fill="#3048ff" fill-opacity="0.5"/><circle cx="95.16" cy="217.85" r="0.38" fill="#3048ff" fill-opacity="0.5"/><circle cx="94.53" cy="220.32" r="0.38" fill="#3048ff" fill-opacity="0.5"/><circle cx="94.37" cy="211.23" r="0.38" fill="#3048ff" fill-opacity="0.5"/><circle cx="94.62" cy="215.62" r="0.38" fill="#3048ff" fill-opacity="0.5"/><circle cx="97.04" cy="216.43" r="0.38" fill="#3048ff" fill-opacity="0.5"/><circle cx="95.23" cy="224.51" r="0.38" fill="#3048ff" fill-opacity="0.5"/><circle cx="90.93" cy="214.94" r="0.38" fill="#3048ff" fill-opacity="0.5"/><circle cx="89.62" cy="211.25" r="0.38" fill="#3048ff" fill-opacity="0.5"/><circle cx="87.94" cy="219.26" r="0.38" fill="#3048ff" fill-opacity="0.5"/><circle cx="92.40" cy="212.78" r="0.38" fill="#3048ff" fill-opacity="0.5"/><circle cx="89.36" cy="219.99" r="0.38" fill="#3048ff" fill-opacity="0.5"/><circle cx="91.91" cy="217.14" r="0.38" fill="#3048ff" fill-opacity="0.5"/><circle cx="95.89" cy="222.13" r="0.38" fill="#3048ff" fill-opacity="0.5"/><circle cx="101.69" cy="221.19" r="0.38" fill="#3048ff" fill-opacity="0.5"/><circle cx="95.22" cy="218.73" r="0.38" fill="#3048ff" fill-opacity="0.5"/><circle cx="101.19" cy="222.34" r="0.38" fill="#3048ff" fill-opacity="0.5"/><ellipse cx="94.70" cy="218.20" rx="6.1" ry="4.9" fill="url(#gbig)"/><circle cx="113.64" cy="219.80" r="0.38" fill="#3048ff" fill-opacity="0.5"/><circle cx="115.68" cy="218.83" r="0.38" fill="#3048ff" fill-opacity="0.5"/><circle cx="113.00" cy="215.52" r="0.38" fill="#3048ff" fill-opacity="0.5"/><circle cx="112.88" cy="214.99" r="0.38" fill="#3048ff" fill-opacity="0.5"/><circle cx="118.86" cy="219.99" r="0.38" fill="#3048ff" fill-opacity="0.5"/><circle cx="110.60" cy="222.05" r="0.38" fill="#3048ff" fill-opacity="0.5"/><circle cx="117.73" cy="214.12" r="0.38" fill="#3048ff" fill-opacity="0.5"/><circle cx="120.96" cy="220.64" r="0.38" fill="#3048ff" fill-opacity="0.5"/><circle cx="121.72" cy="215.75" r="0.38" fill="#3048ff" fill-opacity="0.5"/><circle cx="116.50" cy="219.72" r="0.38" fill="#3048ff" fill-opacity="0.5"/><circle cx="115.39" cy="219.11" r="0.38" fill="#3048ff" fill-opacity="0.5"/><circle cx="118.28" cy="215.11" r="0.38" fill="#3048ff" fill-opacity="0.5"/><circle cx="110.48" cy="215.35" r="0.38" fill="#3048ff" fill-opacity="0.5"/><circle cx="112.80" cy="217.25" r="0.38" fill="#3048ff" fill-opacity="0.5"/><circle cx="115.95" cy="219.34" r="0.38" fill="#3048ff" fill-opacity="0.5"/><circle cx="114.81" cy="217.08" r="0.38" fill="#3048ff" fill-opacity="0.5"/><circle cx="113.20" cy="220.99" r="0.38" fill="#3048ff" fill-opacity="0.5"/><circle cx="117.30" cy="218.94" r="0.38" fill="#3048ff" fill-opacity="0.5"/><circle cx="113.60" cy="222.43" r="0.38" fill="#3048ff" fill-opacity="0.5"/><circle cx="112.68" cy="220.26" r="0.38" fill="#3048ff" fill-opacity="0.5"/><circle cx="118.62" cy="218.06" r="0.38" fill="#3048ff" fill-opacity="0.5"/><circle cx="117.51" cy="216.02" r="0.38" fill="#3048ff" fill-opacity="0.5"/><circle cx="118.14" cy="219.18" r="0.38" fill="#3048ff" fill-opacity="0.5"/><circle cx="109.31" cy="220.31" r="0.38" fill="#3048ff" fill-opacity="0.5"/><circle cx="111.67" cy="221.78" r="0.38" fill="#3048ff" fill-opacity="0.5"/><circle cx="112.39" cy="218.30" r="0.38" fill="#3048ff" fill-opacity="0.5"/><circle cx="115.66" cy="217.90" r="0.38" fill="#3048ff" fill-opacity="0.5"/><circle cx="115.58" cy="217.37" r="0.38" fill="#3048ff" fill-opacity="0.5"/><circle cx="116.98" cy="218.71" r="0.38" fill="#3048ff" fill-opacity="0.5"/><circle cx="115.42" cy="212.09" r="0.38" fill="#3048ff" fill-opacity="0.5"/><circle cx="118.65" cy="218.78" r="0.38" fill="#3048ff" fill-opacity="0.5"/><circle cx="108.64" cy="218.93" r="0.38" fill="#3048ff" fill-opacity="0.5"/><circle cx="116.29" cy="221.27" r="0.38" fill="#3048ff" fill-opacity="0.5"/><circle cx="111.02" cy="222.41" r="0.38" fill="#3048ff" fill-opacity="0.5"/><circle cx="114.16" cy="224.45" r="0.38" fill="#3048ff" fill-opacity="0.5"/><circle cx="114.20" cy="220.33" r="0.38" fill="#3048ff" fill-opacity="0.5"/><circle cx="113.45" cy="216.02" r="0.38" fill="#3048ff" fill-opacity="0.5"/><circle cx="118.43" cy="220.88" r="0.38" fill="#3048ff" fill-opacity="0.5"/><circle cx="119.93" cy="220.76" r="0.38" fill="#3048ff" fill-opacity="0.5"/><circle cx="112.75" cy="214.71" r="0.38" fill="#3048ff" fill-opacity="0.5"/><circle cx="112.49" cy="217.08" r="0.38" fill="#3048ff" fill-opacity="0.5"/><circle cx="111.93" cy="220.10" r="0.38" fill="#3048ff" fill-opacity="0.5"/><circle cx="115.81" cy="218.05" r="0.38" fill="#3048ff" fill-opacity="0.5"/><circle cx="115.29" cy="218.35" r="0.38" fill="#3048ff" fill-opacity="0.5"/><circle cx="115.42" cy="220.50" r="0.38" fill="#3048ff" fill-opacity="0.5"/><ellipse cx="114.70" cy="218.70" rx="5.6" ry="4.0" fill="url(#gred)"/>
<rect x="87.30" y="180.70" width="45.4" height="45" fill="none" stroke="#858585" stroke-width="1"/>
<rect x="87.70" y="181.10" width="15.5" height="21.1" fill="none" stroke="#858585" stroke-width="0.8"/>
<text transform="translate(104.70,189.90) scale(1,1.08)" font-size="5.0" text-anchor="start" fill="#1a1a1a" stroke="#1a1a1a" stroke-width="0.22" font-weight="bold" >0.79</text>
<text transform="translate(116.20,205.20) scale(1,1.12)" font-size="6.6" text-anchor="start" fill="#c20d17" stroke="#c20d17" stroke-width="0.22" font-weight="bold" >365</text>
<ellipse cx="143.20" cy="191.30" rx="3.60" ry="4.60" fill="url(#gup)" opacity="0.85"/><circle cx="144.93" cy="189.50" r="0.38" fill="#3048ff" fill-opacity="0.55"/><circle cx="140.49" cy="196.27" r="0.38" fill="#3048ff" fill-opacity="0.55"/><circle cx="143.41" cy="195.24" r="0.38" fill="#3048ff" fill-opacity="0.55"/><circle cx="140.24" cy="190.64" r="0.38" fill="#3048ff" fill-opacity="0.55"/><circle cx="143.25" cy="187.09" r="0.38" fill="#3048ff" fill-opacity="0.55"/><circle cx="142.27" cy="194.02" r="0.38" fill="#3048ff" fill-opacity="0.55"/><circle cx="145.14" cy="196.80" r="0.38" fill="#3048ff" fill-opacity="0.55"/><circle cx="141.65" cy="187.22" r="0.38" fill="#3048ff" fill-opacity="0.55"/><circle cx="144.14" cy="194.71" r="0.38" fill="#3048ff" fill-opacity="0.55"/><circle cx="143.55" cy="187.54" r="0.38" fill="#3048ff" fill-opacity="0.55"/><circle cx="144.61" cy="194.24" r="0.38" fill="#3048ff" fill-opacity="0.55"/><circle cx="144.20" cy="190.14" r="0.38" fill="#3048ff" fill-opacity="0.55"/><circle cx="143.75" cy="194.23" r="0.38" fill="#3048ff" fill-opacity="0.55"/><circle cx="142.19" cy="185.80" r="0.38" fill="#3048ff" fill-opacity="0.55"/><circle cx="143.79" cy="193.24" r="0.38" fill="#3048ff" fill-opacity="0.55"/><circle cx="143.22" cy="194.55" r="0.38" fill="#3048ff" fill-opacity="0.55"/><circle cx="142.14" cy="191.44" r="0.38" fill="#3048ff" fill-opacity="0.55"/><circle cx="142.65" cy="193.53" r="0.38" fill="#3048ff" fill-opacity="0.55"/><circle cx="146.07" cy="190.90" r="0.38" fill="#3048ff" fill-opacity="0.55"/><circle cx="146.90" cy="196.59" r="0.38" fill="#3048ff" fill-opacity="0.55"/><circle cx="144.62" cy="193.58" r="0.38" fill="#3048ff" fill-opacity="0.55"/><circle cx="146.39" cy="191.12" r="0.38" fill="#3048ff" fill-opacity="0.55"/><circle cx="143.00" cy="188.30" r="0.38" fill="#3048ff" fill-opacity="0.55"/><circle cx="144.05" cy="196.00" r="0.38" fill="#3048ff" fill-opacity="0.55"/><circle cx="144.16" cy="193.05" r="0.38" fill="#3048ff" fill-opacity="0.55"/><circle cx="142.84" cy="192.24" r="0.38" fill="#3048ff" fill-opacity="0.55"/><circle cx="140.63" cy="195.06" r="0.38" fill="#3048ff" fill-opacity="0.55"/><circle cx="142.46" cy="188.17" r="0.38" fill="#3048ff" fill-opacity="0.55"/><circle cx="141.85" cy="189.06" r="0.38" fill="#3048ff" fill-opacity="0.55"/><circle cx="144.74" cy="195.09" r="0.38" fill="#3048ff" fill-opacity="0.55"/><circle cx="140.76" cy="194.66" r="0.38" fill="#3048ff" fill-opacity="0.55"/><circle cx="144.78" cy="204.51" r="0.38" fill="#3048ff" fill-opacity="0.45"/><circle cx="142.16" cy="203.60" r="0.38" fill="#3048ff" fill-opacity="0.45"/><circle cx="143.10" cy="209.58" r="0.38" fill="#3048ff" fill-opacity="0.45"/><circle cx="143.41" cy="196.54" r="0.38" fill="#3048ff" fill-opacity="0.45"/><circle cx="144.06" cy="199.26" r="0.38" fill="#3048ff" fill-opacity="0.45"/><circle cx="144.80" cy="201.06" r="0.38" fill="#3048ff" fill-opacity="0.45"/><circle cx="143.04" cy="203.00" r="0.38" fill="#3048ff" fill-opacity="0.45"/><circle cx="143.20" cy="214.84" r="0.38" fill="#3048ff" fill-opacity="0.45"/><circle cx="144.74" cy="211.01" r="0.38" fill="#3048ff" fill-opacity="0.45"/><circle cx="144.15" cy="199.19" r="0.38" fill="#3048ff" fill-opacity="0.45"/><circle cx="143.23" cy="204.67" r="0.38" fill="#3048ff" fill-opacity="0.45"/><circle cx="142.72" cy="210.50" r="0.38" fill="#3048ff" fill-opacity="0.45"/><circle cx="142.98" cy="203.80" r="0.38" fill="#3048ff" fill-opacity="0.45"/><circle cx="142.65" cy="196.38" r="0.38" fill="#3048ff" fill-opacity="0.45"/><circle cx="144.45" cy="215.02" r="0.38" fill="#3048ff" fill-opacity="0.45"/><circle cx="143.99" cy="202.33" r="0.38" fill="#3048ff" fill-opacity="0.45"/><circle cx="140.82" cy="208.65" r="0.38" fill="#3048ff" fill-opacity="0.45"/><circle cx="145.14" cy="209.33" r="0.38" fill="#3048ff" fill-opacity="0.45"/><circle cx="144.82" cy="215.83" r="0.38" fill="#3048ff" fill-opacity="0.45"/><circle cx="145.04" cy="205.27" r="0.38" fill="#3048ff" fill-opacity="0.45"/><circle cx="144.96" cy="211.97" r="0.38" fill="#3048ff" fill-opacity="0.45"/><circle cx="142.11" cy="205.47" r="0.38" fill="#3048ff" fill-opacity="0.45"/><circle cx="142.23" cy="207.10" r="0.38" fill="#3048ff" fill-opacity="0.45"/><circle cx="144.44" cy="201.83" r="0.38" fill="#3048ff" fill-opacity="0.45"/><circle cx="141.54" cy="214.84" r="0.38" fill="#3048ff" fill-opacity="0.45"/><circle cx="144.21" cy="215.79" r="0.38" fill="#3048ff" fill-opacity="0.45"/><circle cx="142.34" cy="213.53" r="0.38" fill="#3048ff" fill-opacity="0.45"/><circle cx="146.08" cy="218.74" r="0.38" fill="#3048ff" fill-opacity="0.45"/><circle cx="143.57" cy="209.18" r="0.38" fill="#3048ff" fill-opacity="0.45"/><circle cx="163.78" cy="215.69" r="0.38" fill="#3048ff" fill-opacity="0.42"/><circle cx="165.45" cy="212.05" r="0.38" fill="#3048ff" fill-opacity="0.42"/><circle cx="162.10" cy="214.66" r="0.38" fill="#3048ff" fill-opacity="0.42"/><circle cx="163.34" cy="214.22" r="0.38" fill="#3048ff" fill-opacity="0.42"/><circle cx="164.37" cy="218.19" r="0.38" fill="#3048ff" fill-opacity="0.42"/><circle cx="165.59" cy="209.90" r="0.38" fill="#3048ff" fill-opacity="0.42"/><circle cx="164.49" cy="218.76" r="0.38" fill="#3048ff" fill-opacity="0.42"/><circle cx="163.25" cy="213.43" r="0.38" fill="#3048ff" fill-opacity="0.42"/><circle cx="165.67" cy="216.73" r="0.38" fill="#3048ff" fill-opacity="0.42"/><circle cx="164.73" cy="206.42" r="0.38" fill="#3048ff" fill-opacity="0.42"/><circle cx="162.23" cy="212.69" r="0.38" fill="#3048ff" fill-opacity="0.42"/><circle cx="164.54" cy="221.89" r="0.38" fill="#3048ff" fill-opacity="0.42"/><circle cx="162.79" cy="216.25" r="0.38" fill="#3048ff" fill-opacity="0.42"/><circle cx="165.08" cy="205.01" r="0.38" fill="#3048ff" fill-opacity="0.42"/><circle cx="162.85" cy="212.36" r="0.38" fill="#3048ff" fill-opacity="0.42"/><circle cx="163.31" cy="211.08" r="0.38" fill="#3048ff" fill-opacity="0.42"/><circle cx="156.09" cy="217.37" r="0.38" fill="#3048ff" fill-opacity="0.38"/><circle cx="156.07" cy="217.61" r="0.38" fill="#3048ff" fill-opacity="0.38"/><circle cx="150.50" cy="219.25" r="0.38" fill="#3048ff" fill-opacity="0.38"/><circle cx="150.35" cy="218.90" r="0.38" fill="#3048ff" fill-opacity="0.38"/><circle cx="162.30" cy="218.54" r="0.38" fill="#3048ff" fill-opacity="0.38"/><circle cx="152.70" cy="219.53" r="0.38" fill="#3048ff" fill-opacity="0.38"/><circle cx="151.49" cy="220.02" r="0.38" fill="#3048ff" fill-opacity="0.38"/><circle cx="146.44" cy="219.37" r="0.38" fill="#3048ff" fill-opacity="0.38"/><circle cx="150.68" cy="217.38" r="0.38" fill="#3048ff" fill-opacity="0.38"/><circle cx="163.23" cy="217.31" r="0.38" fill="#3048ff" fill-opacity="0.38"/><circle cx="163.16" cy="219.42" r="0.38" fill="#3048ff" fill-opacity="0.38"/><circle cx="161.49" cy="217.13" r="0.38" fill="#3048ff" fill-opacity="0.38"/><circle cx="160.09" cy="220.54" r="0.38" fill="#3048ff" fill-opacity="0.38"/><circle cx="152.86" cy="218.32" r="0.38" fill="#3048ff" fill-opacity="0.38"/><circle cx="167.01" cy="218.75" r="0.38" fill="#3048ff" fill-opacity="0.38"/><circle cx="151.18" cy="217.62" r="0.38" fill="#3048ff" fill-opacity="0.38"/><circle cx="145.51" cy="219.16" r="0.38" fill="#3048ff" fill-opacity="0.5"/><circle cx="144.54" cy="223.19" r="0.38" fill="#3048ff" fill-opacity="0.5"/><circle cx="142.72" cy="219.57" r="0.38" fill="#3048ff" fill-opacity="0.5"/><circle cx="149.15" cy="215.29" r="0.38" fill="#3048ff" fill-opacity="0.5"/><circle cx="147.64" cy="223.51" r="0.38" fill="#3048ff" fill-opacity="0.5"/><circle cx="139.02" cy="215.02" r="0.38" fill="#3048ff" fill-opacity="0.5"/><circle cx="140.16" cy="212.85" r="0.38" fill="#3048ff" fill-opacity="0.5"/><circle cx="145.53" cy="212.82" r="0.38" fill="#3048ff" fill-opacity="0.5"/><circle cx="145.70" cy="222.41" r="0.38" fill="#3048ff" fill-opacity="0.5"/><circle cx="138.09" cy="217.28" r="0.38" fill="#3048ff" fill-opacity="0.5"/><circle cx="137.00" cy="220.46" r="0.38" fill="#3048ff" fill-opacity="0.5"/><circle cx="141.25" cy="217.43" r="0.38" fill="#3048ff" fill-opacity="0.5"/><circle cx="144.10" cy="219.78" r="0.38" fill="#3048ff" fill-opacity="0.5"/><circle cx="142.65" cy="218.24" r="0.38" fill="#3048ff" fill-opacity="0.5"/><circle cx="141.93" cy="218.53" r="0.38" fill="#3048ff" fill-opacity="0.5"/><circle cx="139.68" cy="218.38" r="0.38" fill="#3048ff" fill-opacity="0.5"/><circle cx="136.94" cy="216.78" r="0.38" fill="#3048ff" fill-opacity="0.5"/><circle cx="150.80" cy="218.43" r="0.38" fill="#3048ff" fill-opacity="0.5"/><circle cx="139.36" cy="218.95" r="0.38" fill="#3048ff" fill-opacity="0.5"/><circle cx="140.40" cy="213.41" r="0.38" fill="#3048ff" fill-opacity="0.5"/><circle cx="141.25" cy="220.34" r="0.38" fill="#3048ff" fill-opacity="0.5"/><circle cx="145.28" cy="217.92" r="0.38" fill="#3048ff" fill-opacity="0.5"/><circle cx="140.56" cy="215.07" r="0.38" fill="#3048ff" fill-opacity="0.5"/><circle cx="148.76" cy="218.91" r="0.38" fill="#3048ff" fill-opacity="0.5"/><circle cx="140.47" cy="212.08" r="0.38" fill="#3048ff" fill-opacity="0.5"/><circle cx="138.97" cy="225.38" r="0.38" fill="#3048ff" fill-opacity="0.5"/><circle cx="139.76" cy="217.98" r="0.38" fill="#3048ff" fill-opacity="0.5"/><circle cx="144.66" cy="217.74" r="0.38" fill="#3048ff" fill-opacity="0.5"/><circle cx="142.90" cy="214.22" r="0.38" fill="#3048ff" fill-opacity="0.5"/><circle cx="140.12" cy="223.10" r="0.38" fill="#3048ff" fill-opacity="0.5"/><circle cx="141.18" cy="220.65" r="0.38" fill="#3048ff" fill-opacity="0.5"/><circle cx="137.80" cy="217.40" r="0.38" fill="#3048ff" fill-opacity="0.5"/><circle cx="144.84" cy="221.21" r="0.38" fill="#3048ff" fill-opacity="0.5"/><circle cx="139.86" cy="219.93" r="0.38" fill="#3048ff" fill-opacity="0.5"/><circle cx="145.29" cy="216.06" r="0.38" fill="#3048ff" fill-opacity="0.5"/><circle cx="145.62" cy="215.60" r="0.38" fill="#3048ff" fill-opacity="0.5"/><circle cx="141.03" cy="218.15" r="0.38" fill="#3048ff" fill-opacity="0.5"/><circle cx="134.13" cy="217.88" r="0.38" fill="#3048ff" fill-opacity="0.5"/><circle cx="140.30" cy="213.96" r="0.38" fill="#3048ff" fill-opacity="0.5"/><circle cx="142.37" cy="220.41" r="0.38" fill="#3048ff" fill-opacity="0.5"/><circle cx="142.44" cy="221.87" r="0.38" fill="#3048ff" fill-opacity="0.5"/><circle cx="139.73" cy="214.39" r="0.38" fill="#3048ff" fill-opacity="0.5"/><circle cx="149.48" cy="219.36" r="0.38" fill="#3048ff" fill-opacity="0.5"/><circle cx="147.30" cy="215.80" r="0.38" fill="#3048ff" fill-opacity="0.5"/><circle cx="146.80" cy="218.95" r="0.38" fill="#3048ff" fill-opacity="0.5"/><circle cx="146.23" cy="218.27" r="0.38" fill="#3048ff" fill-opacity="0.5"/><circle cx="148.24" cy="216.32" r="0.38" fill="#3048ff" fill-opacity="0.5"/><circle cx="140.43" cy="213.92" r="0.38" fill="#3048ff" fill-opacity="0.5"/><circle cx="148.08" cy="216.06" r="0.38" fill="#3048ff" fill-opacity="0.5"/><circle cx="140.14" cy="215.47" r="0.38" fill="#3048ff" fill-opacity="0.5"/><circle cx="142.30" cy="214.51" r="0.38" fill="#3048ff" fill-opacity="0.5"/><circle cx="142.85" cy="216.38" r="0.38" fill="#3048ff" fill-opacity="0.5"/><circle cx="141.92" cy="215.42" r="0.38" fill="#3048ff" fill-opacity="0.5"/><circle cx="144.03" cy="216.86" r="0.38" fill="#3048ff" fill-opacity="0.5"/><circle cx="144.31" cy="218.92" r="0.38" fill="#3048ff" fill-opacity="0.5"/><circle cx="145.12" cy="211.85" r="0.38" fill="#3048ff" fill-opacity="0.5"/><circle cx="141.97" cy="215.89" r="0.38" fill="#3048ff" fill-opacity="0.5"/><circle cx="146.69" cy="213.62" r="0.38" fill="#3048ff" fill-opacity="0.5"/><circle cx="141.33" cy="217.35" r="0.38" fill="#3048ff" fill-opacity="0.5"/><circle cx="142.69" cy="221.07" r="0.38" fill="#3048ff" fill-opacity="0.5"/><ellipse cx="143.90" cy="218.20" rx="6.1" ry="4.9" fill="url(#gbig)"/><circle cx="162.39" cy="221.02" r="0.38" fill="#3048ff" fill-opacity="0.5"/><circle cx="158.92" cy="214.35" r="0.38" fill="#3048ff" fill-opacity="0.5"/><circle cx="168.05" cy="219.75" r="0.38" fill="#3048ff" fill-opacity="0.5"/><circle cx="165.56" cy="219.00" r="0.38" fill="#3048ff" fill-opacity="0.5"/><circle cx="165.55" cy="215.78" r="0.38" fill="#3048ff" fill-opacity="0.5"/><circle cx="167.12" cy="217.42" r="0.38" fill="#3048ff" fill-opacity="0.5"/><circle cx="167.25" cy="218.91" r="0.38" fill="#3048ff" fill-opacity="0.5"/><circle cx="157.19" cy="215.61" r="0.38" fill="#3048ff" fill-opacity="0.5"/><circle cx="167.73" cy="218.37" r="0.38" fill="#3048ff" fill-opacity="0.5"/><circle cx="162.56" cy="219.28" r="0.38" fill="#3048ff" fill-opacity="0.5"/><circle cx="162.45" cy="217.39" r="0.38" fill="#3048ff" fill-opacity="0.5"/><circle cx="164.25" cy="219.05" r="0.38" fill="#3048ff" fill-opacity="0.5"/><circle cx="169.06" cy="218.81" r="0.38" fill="#3048ff" fill-opacity="0.5"/><circle cx="170.29" cy="223.03" r="0.38" fill="#3048ff" fill-opacity="0.5"/><circle cx="169.74" cy="221.25" r="0.38" fill="#3048ff" fill-opacity="0.5"/><circle cx="164.34" cy="219.03" r="0.38" fill="#3048ff" fill-opacity="0.5"/><circle cx="163.42" cy="216.95" r="0.38" fill="#3048ff" fill-opacity="0.5"/><circle cx="163.67" cy="217.16" r="0.38" fill="#3048ff" fill-opacity="0.5"/><circle cx="169.48" cy="219.98" r="0.38" fill="#3048ff" fill-opacity="0.5"/><circle cx="162.38" cy="214.10" r="0.38" fill="#3048ff" fill-opacity="0.5"/><circle cx="163.72" cy="217.70" r="0.38" fill="#3048ff" fill-opacity="0.5"/><circle cx="160.21" cy="215.97" r="0.38" fill="#3048ff" fill-opacity="0.5"/><circle cx="156.25" cy="220.07" r="0.38" fill="#3048ff" fill-opacity="0.5"/><circle cx="163.68" cy="224.89" r="0.38" fill="#3048ff" fill-opacity="0.5"/><circle cx="163.79" cy="218.34" r="0.38" fill="#3048ff" fill-opacity="0.5"/><circle cx="168.81" cy="219.02" r="0.38" fill="#3048ff" fill-opacity="0.5"/><circle cx="164.47" cy="217.81" r="0.38" fill="#3048ff" fill-opacity="0.5"/><circle cx="161.84" cy="222.30" r="0.38" fill="#3048ff" fill-opacity="0.5"/><circle cx="167.30" cy="222.82" r="0.38" fill="#3048ff" fill-opacity="0.5"/><circle cx="162.71" cy="218.77" r="0.38" fill="#3048ff" fill-opacity="0.5"/><circle cx="160.91" cy="221.02" r="0.38" fill="#3048ff" fill-opacity="0.5"/><circle cx="159.16" cy="220.05" r="0.38" fill="#3048ff" fill-opacity="0.5"/><circle cx="167.63" cy="222.09" r="0.38" fill="#3048ff" fill-opacity="0.5"/><circle cx="160.70" cy="221.32" r="0.38" fill="#3048ff" fill-opacity="0.5"/><circle cx="161.47" cy="216.88" r="0.38" fill="#3048ff" fill-opacity="0.5"/><circle cx="159.40" cy="221.47" r="0.38" fill="#3048ff" fill-opacity="0.5"/><circle cx="169.50" cy="217.27" r="0.38" fill="#3048ff" fill-opacity="0.5"/><circle cx="161.32" cy="217.89" r="0.38" fill="#3048ff" fill-opacity="0.5"/><circle cx="172.42" cy="221.11" r="0.38" fill="#3048ff" fill-opacity="0.5"/><circle cx="162.06" cy="214.39" r="0.38" fill="#3048ff" fill-opacity="0.5"/><circle cx="161.61" cy="221.55" r="0.38" fill="#3048ff" fill-opacity="0.5"/><circle cx="170.25" cy="218.06" r="0.38" fill="#3048ff" fill-opacity="0.5"/><circle cx="161.55" cy="217.48" r="0.38" fill="#3048ff" fill-opacity="0.5"/><circle cx="157.49" cy="220.88" r="0.38" fill="#3048ff" fill-opacity="0.5"/><circle cx="160.21" cy="221.25" r="0.38" fill="#3048ff" fill-opacity="0.5"/><ellipse cx="163.90" cy="218.70" rx="5.6" ry="3.9" fill="url(#ggrn)"/>
<rect x="136.50" y="180.70" width="45.4" height="45" fill="none" stroke="#858585" stroke-width="1"/>
<rect x="136.90" y="181.10" width="15.5" height="21.1" fill="none" stroke="#858585" stroke-width="0.8"/>
<text transform="translate(153.90,189.90) scale(1,1.08)" font-size="5.0" text-anchor="start" fill="#1a1a1a" stroke="#1a1a1a" stroke-width="0.22" font-weight="bold" >0.85</text>
<text transform="translate(165.40,205.20) scale(1,1.12)" font-size="6.6" text-anchor="start" fill="#c20d17" stroke="#c20d17" stroke-width="0.22" font-weight="bold" >347</text>
<text transform="translate(60.20,257.30) scale(1,1.08)" font-size="8.15" text-anchor="middle" fill="#111" stroke="#111" stroke-width="0.22" font-weight="bold" >Day35</text>
<ellipse cx="94.00" cy="240.50" rx="3.60" ry="4.60" fill="url(#gup)" opacity="0.65"/><circle cx="90.93" cy="236.84" r="0.38" fill="#3048ff" fill-opacity="0.55"/><circle cx="94.52" cy="238.46" r="0.38" fill="#3048ff" fill-opacity="0.55"/><circle cx="95.41" cy="240.93" r="0.38" fill="#3048ff" fill-opacity="0.55"/><circle cx="91.89" cy="242.89" r="0.38" fill="#3048ff" fill-opacity="0.55"/><circle cx="95.52" cy="234.78" r="0.38" fill="#3048ff" fill-opacity="0.55"/><circle cx="97.29" cy="242.49" r="0.38" fill="#3048ff" fill-opacity="0.55"/><circle cx="95.37" cy="234.95" r="0.38" fill="#3048ff" fill-opacity="0.55"/><circle cx="92.70" cy="239.78" r="0.38" fill="#3048ff" fill-opacity="0.55"/><circle cx="95.94" cy="236.23" r="0.38" fill="#3048ff" fill-opacity="0.55"/><circle cx="92.41" cy="234.40" r="0.38" fill="#3048ff" fill-opacity="0.55"/><circle cx="93.57" cy="242.01" r="0.38" fill="#3048ff" fill-opacity="0.55"/><circle cx="90.96" cy="239.01" r="0.38" fill="#3048ff" fill-opacity="0.55"/><circle cx="94.92" cy="245.97" r="0.38" fill="#3048ff" fill-opacity="0.55"/><circle cx="95.20" cy="239.93" r="0.38" fill="#3048ff" fill-opacity="0.55"/><circle cx="91.88" cy="237.90" r="0.38" fill="#3048ff" fill-opacity="0.55"/><circle cx="92.80" cy="241.37" r="0.38" fill="#3048ff" fill-opacity="0.55"/><circle cx="93.91" cy="246.23" r="0.38" fill="#3048ff" fill-opacity="0.55"/><circle cx="94.52" cy="237.47" r="0.38" fill="#3048ff" fill-opacity="0.55"/><circle cx="96.78" cy="243.94" r="0.38" fill="#3048ff" fill-opacity="0.55"/><circle cx="94.18" cy="238.59" r="0.38" fill="#3048ff" fill-opacity="0.55"/><circle cx="90.63" cy="237.63" r="0.38" fill="#3048ff" fill-opacity="0.55"/><circle cx="95.64" cy="238.33" r="0.38" fill="#3048ff" fill-opacity="0.55"/><circle cx="93.15" cy="257.98" r="0.38" fill="#3048ff" fill-opacity="0.45"/><circle cx="94.87" cy="260.24" r="0.38" fill="#3048ff" fill-opacity="0.45"/><circle cx="95.32" cy="264.65" r="0.38" fill="#3048ff" fill-opacity="0.45"/><circle cx="93.68" cy="262.28" r="0.38" fill="#3048ff" fill-opacity="0.45"/><circle cx="93.51" cy="260.72" r="0.38" fill="#3048ff" fill-opacity="0.45"/><circle cx="94.80" cy="258.24" r="0.38" fill="#3048ff" fill-opacity="0.45"/><circle cx="95.66" cy="256.80" r="0.38" fill="#3048ff" fill-opacity="0.45"/><circle cx="95.82" cy="261.71" r="0.38" fill="#3048ff" fill-opacity="0.45"/><circle cx="94.75" cy="253.78" r="0.38" fill="#3048ff" fill-opacity="0.45"/><circle cx="93.77" cy="254.00" r="0.38" fill="#3048ff" fill-opacity="0.45"/><circle cx="94.38" cy="256.76" r="0.38" fill="#3048ff" fill-opacity="0.45"/><circle cx="97.88" cy="260.41" r="0.38" fill="#3048ff" fill-opacity="0.45"/><circle cx="95.45" cy="252.17" r="0.38" fill="#3048ff" fill-opacity="0.45"/><circle cx="93.82" cy="255.15" r="0.38" fill="#3048ff" fill-opacity="0.45"/><circle cx="94.81" cy="251.20" r="0.38" fill="#3048ff" fill-opacity="0.45"/><circle cx="96.37" cy="253.80" r="0.38" fill="#3048ff" fill-opacity="0.45"/><circle cx="95.79" cy="244.05" r="0.38" fill="#3048ff" fill-opacity="0.45"/><circle cx="94.59" cy="258.43" r="0.38" fill="#3048ff" fill-opacity="0.45"/><circle cx="94.81" cy="260.21" r="0.38" fill="#3048ff" fill-opacity="0.45"/><circle cx="94.91" cy="257.79" r="0.38" fill="#3048ff" fill-opacity="0.45"/><circle cx="92.52" cy="252.98" r="0.38" fill="#3048ff" fill-opacity="0.45"/><circle cx="92.02" cy="260.36" r="0.38" fill="#3048ff" fill-opacity="0.45"/><circle cx="94.94" cy="255.83" r="0.38" fill="#3048ff" fill-opacity="0.45"/><circle cx="113.65" cy="258.57" r="0.38" fill="#3048ff" fill-opacity="0.42"/><circle cx="117.38" cy="267.82" r="0.38" fill="#3048ff" fill-opacity="0.42"/><circle cx="114.72" cy="266.05" r="0.38" fill="#3048ff" fill-opacity="0.42"/><circle cx="112.58" cy="253.16" r="0.38" fill="#3048ff" fill-opacity="0.42"/><circle cx="114.12" cy="257.40" r="0.38" fill="#3048ff" fill-opacity="0.42"/><circle cx="114.02" cy="261.65" r="0.38" fill="#3048ff" fill-opacity="0.42"/><circle cx="119.03" cy="258.26" r="0.38" fill="#3048ff" fill-opacity="0.42"/><circle cx="114.87" cy="262.01" r="0.38" fill="#3048ff" fill-opacity="0.42"/><circle cx="114.75" cy="264.62" r="0.38" fill="#3048ff" fill-opacity="0.42"/><circle cx="117.29" cy="255.93" r="0.38" fill="#3048ff" fill-opacity="0.42"/><circle cx="115.03" cy="259.84" r="0.38" fill="#3048ff" fill-opacity="0.42"/><circle cx="115.30" cy="254.77" r="0.38" fill="#3048ff" fill-opacity="0.42"/><circle cx="112.34" cy="251.63" r="0.38" fill="#3048ff" fill-opacity="0.42"/><circle cx="115.54" cy="261.67" r="0.38" fill="#3048ff" fill-opacity="0.42"/><circle cx="114.90" cy="251.43" r="0.38" fill="#3048ff" fill-opacity="0.42"/><circle cx="114.28" cy="257.88" r="0.38" fill="#3048ff" fill-opacity="0.42"/><circle cx="96.52" cy="266.42" r="0.38" fill="#3048ff" fill-opacity="0.38"/><circle cx="108.14" cy="268.46" r="0.38" fill="#3048ff" fill-opacity="0.38"/><circle cx="104.18" cy="268.42" r="0.38" fill="#3048ff" fill-opacity="0.38"/><circle cx="100.98" cy="267.80" r="0.38" fill="#3048ff" fill-opacity="0.38"/><circle cx="104.52" cy="268.48" r="0.38" fill="#3048ff" fill-opacity="0.38"/><circle cx="103.92" cy="267.50" r="0.38" fill="#3048ff" fill-opacity="0.38"/><circle cx="103.56" cy="266.80" r="0.38" fill="#3048ff" fill-opacity="0.38"/><circle cx="116.58" cy="268.42" r="0.38" fill="#3048ff" fill-opacity="0.38"/><circle cx="106.66" cy="270.91" r="0.38" fill="#3048ff" fill-opacity="0.38"/><circle cx="112.02" cy="265.52" r="0.38" fill="#3048ff" fill-opacity="0.38"/><circle cx="108.12" cy="268.87" r="0.38" fill="#3048ff" fill-opacity="0.38"/><circle cx="114.67" cy="269.54" r="0.38" fill="#3048ff" fill-opacity="0.38"/><circle cx="108.54" cy="266.05" r="0.38" fill="#3048ff" fill-opacity="0.38"/><circle cx="99.51" cy="268.08" r="0.38" fill="#3048ff" fill-opacity="0.38"/><circle cx="107.08" cy="266.27" r="0.38" fill="#3048ff" fill-opacity="0.38"/><circle cx="102.18" cy="267.14" r="0.38" fill="#3048ff" fill-opacity="0.38"/><circle cx="94.92" cy="268.38" r="0.38" fill="#3048ff" fill-opacity="0.5"/><circle cx="93.67" cy="263.81" r="0.38" fill="#3048ff" fill-opacity="0.5"/><circle cx="99.17" cy="272.03" r="0.38" fill="#3048ff" fill-opacity="0.5"/><circle cx="94.32" cy="270.37" r="0.38" fill="#3048ff" fill-opacity="0.5"/><circle cx="96.30" cy="269.31" r="0.38" fill="#3048ff" fill-opacity="0.5"/><circle cx="96.43" cy="265.19" r="0.38" fill="#3048ff" fill-opacity="0.5"/><circle cx="96.77" cy="270.33" r="0.38" fill="#3048ff" fill-opacity="0.5"/><circle cx="91.47" cy="273.10" r="0.38" fill="#3048ff" fill-opacity="0.5"/><circle cx="102.22" cy="272.69" r="0.38" fill="#3048ff" fill-opacity="0.5"/><circle cx="101.86" cy="269.55" r="0.38" fill="#3048ff" fill-opacity="0.5"/><circle cx="93.48" cy="265.66" r="0.38" fill="#3048ff" fill-opacity="0.5"/><circle cx="91.77" cy="267.74" r="0.38" fill="#3048ff" fill-opacity="0.5"/><circle cx="94.58" cy="269.34" r="0.38" fill="#3048ff" fill-opacity="0.5"/><circle cx="87.43" cy="274.11" r="0.38" fill="#3048ff" fill-opacity="0.5"/><circle cx="102.89" cy="267.32" r="0.38" fill="#3048ff" fill-opacity="0.5"/><circle cx="97.13" cy="268.78" r="0.38" fill="#3048ff" fill-opacity="0.5"/><circle cx="95.68" cy="266.79" r="0.38" fill="#3048ff" fill-opacity="0.5"/><circle cx="94.26" cy="265.01" r="0.38" fill="#3048ff" fill-opacity="0.5"/><circle cx="95.34" cy="267.33" r="0.38" fill="#3048ff" fill-opacity="0.5"/><circle cx="95.85" cy="264.92" r="0.38" fill="#3048ff" fill-opacity="0.5"/><circle cx="94.84" cy="267.54" r="0.38" fill="#3048ff" fill-opacity="0.5"/><circle cx="96.88" cy="264.32" r="0.38" fill="#3048ff" fill-opacity="0.5"/><circle cx="96.21" cy="270.25" r="0.38" fill="#3048ff" fill-opacity="0.5"/><circle cx="96.85" cy="266.33" r="0.38" fill="#3048ff" fill-opacity="0.5"/><circle cx="92.93" cy="266.71" r="0.38" fill="#3048ff" fill-opacity="0.5"/><circle cx="97.33" cy="271.90" r="0.38" fill="#3048ff" fill-opacity="0.5"/><circle cx="94.13" cy="265.54" r="0.38" fill="#3048ff" fill-opacity="0.5"/><circle cx="96.05" cy="267.99" r="0.38" fill="#3048ff" fill-opacity="0.5"/><circle cx="91.43" cy="265.26" r="0.38" fill="#3048ff" fill-opacity="0.5"/><circle cx="94.33" cy="269.35" r="0.38" fill="#3048ff" fill-opacity="0.5"/><circle cx="90.40" cy="264.45" r="0.38" fill="#3048ff" fill-opacity="0.5"/><circle cx="96.50" cy="263.85" r="0.38" fill="#3048ff" fill-opacity="0.5"/><circle cx="95.09" cy="268.42" r="0.38" fill="#3048ff" fill-opacity="0.5"/><circle cx="94.30" cy="264.45" r="0.38" fill="#3048ff" fill-opacity="0.5"/><circle cx="94.48" cy="266.44" r="0.38" fill="#3048ff" fill-opacity="0.5"/><circle cx="95.91" cy="264.97" r="0.38" fill="#3048ff" fill-opacity="0.5"/><circle cx="98.63" cy="262.54" r="0.38" fill="#3048ff" fill-opacity="0.5"/><circle cx="94.07" cy="267.42" r="0.38" fill="#3048ff" fill-opacity="0.5"/><circle cx="98.16" cy="265.64" r="0.38" fill="#3048ff" fill-opacity="0.5"/><circle cx="96.67" cy="265.76" r="0.38" fill="#3048ff" fill-opacity="0.5"/><circle cx="97.36" cy="272.44" r="0.38" fill="#3048ff" fill-opacity="0.5"/><circle cx="93.26" cy="268.68" r="0.38" fill="#3048ff" fill-opacity="0.5"/><circle cx="91.36" cy="270.22" r="0.38" fill="#3048ff" fill-opacity="0.5"/><circle cx="99.06" cy="267.50" r="0.38" fill="#3048ff" fill-opacity="0.5"/><circle cx="90.61" cy="268.57" r="0.38" fill="#3048ff" fill-opacity="0.5"/><circle cx="98.84" cy="270.56" r="0.38" fill="#3048ff" fill-opacity="0.5"/><circle cx="97.63" cy="262.09" r="0.38" fill="#3048ff" fill-opacity="0.5"/><circle cx="92.25" cy="271.52" r="0.38" fill="#3048ff" fill-opacity="0.5"/><circle cx="90.29" cy="270.68" r="0.38" fill="#3048ff" fill-opacity="0.5"/><circle cx="101.48" cy="269.61" r="0.38" fill="#3048ff" fill-opacity="0.5"/><circle cx="98.73" cy="266.44" r="0.38" fill="#3048ff" fill-opacity="0.5"/><circle cx="90.29" cy="267.10" r="0.38" fill="#3048ff" fill-opacity="0.5"/><circle cx="93.98" cy="267.26" r="0.38" fill="#3048ff" fill-opacity="0.5"/><circle cx="97.21" cy="266.98" r="0.38" fill="#3048ff" fill-opacity="0.5"/><circle cx="95.39" cy="268.63" r="0.38" fill="#3048ff" fill-opacity="0.5"/><circle cx="94.68" cy="272.75" r="0.38" fill="#3048ff" fill-opacity="0.5"/><circle cx="96.29" cy="267.65" r="0.38" fill="#3048ff" fill-opacity="0.5"/><circle cx="93.95" cy="265.59" r="0.38" fill="#3048ff" fill-opacity="0.5"/><circle cx="99.54" cy="267.84" r="0.38" fill="#3048ff" fill-opacity="0.5"/><circle cx="90.82" cy="265.77" r="0.38" fill="#3048ff" fill-opacity="0.5"/><ellipse cx="94.70" cy="267.40" rx="6.1" ry="4.9" fill="url(#gbig)"/><circle cx="114.24" cy="266.83" r="0.38" fill="#3048ff" fill-opacity="0.5"/><circle cx="118.39" cy="265.11" r="0.38" fill="#3048ff" fill-opacity="0.5"/><circle cx="116.37" cy="268.24" r="0.38" fill="#3048ff" fill-opacity="0.5"/><circle cx="110.70" cy="268.01" r="0.38" fill="#3048ff" fill-opacity="0.5"/><circle cx="114.38" cy="269.10" r="0.38" fill="#3048ff" fill-opacity="0.5"/><circle cx="113.17" cy="268.63" r="0.38" fill="#3048ff" fill-opacity="0.5"/><circle cx="109.04" cy="265.30" r="0.38" fill="#3048ff" fill-opacity="0.5"/><circle cx="117.37" cy="270.40" r="0.38" fill="#3048ff" fill-opacity="0.5"/><circle cx="114.66" cy="266.46" r="0.38" fill="#3048ff" fill-opacity="0.5"/><circle cx="118.38" cy="262.88" r="0.38" fill="#3048ff" fill-opacity="0.5"/><circle cx="111.98" cy="269.51" r="0.38" fill="#3048ff" fill-opacity="0.5"/><circle cx="116.92" cy="265.42" r="0.38" fill="#3048ff" fill-opacity="0.5"/><circle cx="108.28" cy="271.38" r="0.38" fill="#3048ff" fill-opacity="0.5"/><circle cx="115.22" cy="265.75" r="0.38" fill="#3048ff" fill-opacity="0.5"/><circle cx="114.89" cy="270.06" r="0.38" fill="#3048ff" fill-opacity="0.5"/><circle cx="105.89" cy="270.56" r="0.38" fill="#3048ff" fill-opacity="0.5"/><circle cx="117.22" cy="262.91" r="0.38" fill="#3048ff" fill-opacity="0.5"/><circle cx="117.32" cy="263.63" r="0.38" fill="#3048ff" fill-opacity="0.5"/><circle cx="118.57" cy="268.86" r="0.38" fill="#3048ff" fill-opacity="0.5"/><circle cx="122.36" cy="266.43" r="0.38" fill="#3048ff" fill-opacity="0.5"/><circle cx="114.72" cy="270.41" r="0.38" fill="#3048ff" fill-opacity="0.5"/><circle cx="112.52" cy="266.21" r="0.38" fill="#3048ff" fill-opacity="0.5"/><circle cx="113.44" cy="267.73" r="0.38" fill="#3048ff" fill-opacity="0.5"/><circle cx="111.02" cy="269.06" r="0.38" fill="#3048ff" fill-opacity="0.5"/><circle cx="116.55" cy="268.07" r="0.38" fill="#3048ff" fill-opacity="0.5"/><circle cx="120.48" cy="267.11" r="0.38" fill="#3048ff" fill-opacity="0.5"/><circle cx="119.14" cy="266.59" r="0.38" fill="#3048ff" fill-opacity="0.5"/><circle cx="117.27" cy="263.26" r="0.38" fill="#3048ff" fill-opacity="0.5"/><circle cx="115.37" cy="267.48" r="0.38" fill="#3048ff" fill-opacity="0.5"/><circle cx="113.02" cy="266.43" r="0.38" fill="#3048ff" fill-opacity="0.5"/><circle cx="113.52" cy="266.17" r="0.38" fill="#3048ff" fill-opacity="0.5"/><circle cx="107.24" cy="266.47" r="0.38" fill="#3048ff" fill-opacity="0.5"/><circle cx="112.83" cy="266.64" r="0.38" fill="#3048ff" fill-opacity="0.5"/><circle cx="111.10" cy="267.57" r="0.38" fill="#3048ff" fill-opacity="0.5"/><circle cx="117.37" cy="267.30" r="0.38" fill="#3048ff" fill-opacity="0.5"/><circle cx="113.02" cy="271.16" r="0.38" fill="#3048ff" fill-opacity="0.5"/><circle cx="118.02" cy="270.11" r="0.38" fill="#3048ff" fill-opacity="0.5"/><circle cx="118.63" cy="267.11" r="0.38" fill="#3048ff" fill-opacity="0.5"/><circle cx="114.26" cy="270.57" r="0.38" fill="#3048ff" fill-opacity="0.5"/><circle cx="112.82" cy="267.61" r="0.38" fill="#3048ff" fill-opacity="0.5"/><circle cx="115.98" cy="268.79" r="0.38" fill="#3048ff" fill-opacity="0.5"/><circle cx="113.76" cy="270.26" r="0.38" fill="#3048ff" fill-opacity="0.5"/><circle cx="114.09" cy="269.64" r="0.38" fill="#3048ff" fill-opacity="0.5"/><circle cx="118.34" cy="269.48" r="0.38" fill="#3048ff" fill-opacity="0.5"/><circle cx="117.19" cy="265.12" r="0.38" fill="#3048ff" fill-opacity="0.5"/><ellipse cx="114.70" cy="267.90" rx="5.0" ry="3.6" fill="url(#gblue)"/>
<rect x="87.30" y="229.90" width="45.4" height="45" fill="none" stroke="#858585" stroke-width="1"/>
<rect x="87.70" y="230.30" width="15.5" height="21.1" fill="none" stroke="#858585" stroke-width="0.8"/>
<text transform="translate(104.70,239.10) scale(1,1.08)" font-size="5.0" text-anchor="start" fill="#1a1a1a" stroke="#1a1a1a" stroke-width="0.22" font-weight="bold" >0.93</text>
<text transform="translate(116.20,254.70) scale(1,1.12)" font-size="6.6" text-anchor="start" fill="#c20d17" stroke="#c20d17" stroke-width="0.22" font-weight="bold" >325</text>
<ellipse cx="143.20" cy="240.50" rx="3.60" ry="4.60" fill="url(#gup)" opacity="0.60"/><circle cx="140.84" cy="238.92" r="0.38" fill="#3048ff" fill-opacity="0.55"/><circle cx="144.06" cy="245.70" r="0.38" fill="#3048ff" fill-opacity="0.55"/><circle cx="141.00" cy="241.88" r="0.38" fill="#3048ff" fill-opacity="0.55"/><circle cx="141.66" cy="238.56" r="0.38" fill="#3048ff" fill-opacity="0.55"/><circle cx="142.70" cy="243.11" r="0.38" fill="#3048ff" fill-opacity="0.55"/><circle cx="143.58" cy="244.67" r="0.38" fill="#3048ff" fill-opacity="0.55"/><circle cx="141.43" cy="243.75" r="0.38" fill="#3048ff" fill-opacity="0.55"/><circle cx="144.87" cy="241.12" r="0.38" fill="#3048ff" fill-opacity="0.55"/><circle cx="144.06" cy="239.10" r="0.38" fill="#3048ff" fill-opacity="0.55"/><circle cx="141.24" cy="239.60" r="0.38" fill="#3048ff" fill-opacity="0.55"/><circle cx="142.04" cy="250.15" r="0.38" fill="#3048ff" fill-opacity="0.55"/><circle cx="142.33" cy="246.18" r="0.38" fill="#3048ff" fill-opacity="0.55"/><circle cx="143.56" cy="241.90" r="0.38" fill="#3048ff" fill-opacity="0.55"/><circle cx="144.54" cy="238.41" r="0.38" fill="#3048ff" fill-opacity="0.55"/><circle cx="144.85" cy="242.10" r="0.38" fill="#3048ff" fill-opacity="0.55"/><circle cx="140.47" cy="242.82" r="0.38" fill="#3048ff" fill-opacity="0.55"/><circle cx="144.19" cy="242.35" r="0.38" fill="#3048ff" fill-opacity="0.55"/><circle cx="146.05" cy="239.57" r="0.38" fill="#3048ff" fill-opacity="0.55"/><circle cx="144.12" cy="243.29" r="0.38" fill="#3048ff" fill-opacity="0.55"/><circle cx="141.58" cy="244.74" r="0.38" fill="#3048ff" fill-opacity="0.55"/><circle cx="142.20" cy="249.75" r="0.38" fill="#3048ff" fill-opacity="0.45"/><circle cx="144.37" cy="250.91" r="0.38" fill="#3048ff" fill-opacity="0.45"/><circle cx="143.67" cy="247.85" r="0.38" fill="#3048ff" fill-opacity="0.45"/><circle cx="143.88" cy="250.67" r="0.38" fill="#3048ff" fill-opacity="0.45"/><circle cx="144.18" cy="248.47" r="0.38" fill="#3048ff" fill-opacity="0.45"/><circle cx="144.29" cy="255.43" r="0.38" fill="#3048ff" fill-opacity="0.45"/><circle cx="143.87" cy="256.53" r="0.38" fill="#3048ff" fill-opacity="0.45"/><circle cx="143.94" cy="249.63" r="0.38" fill="#3048ff" fill-opacity="0.45"/><circle cx="140.98" cy="257.09" r="0.38" fill="#3048ff" fill-opacity="0.45"/><circle cx="142.77" cy="254.40" r="0.38" fill="#3048ff" fill-opacity="0.45"/><circle cx="144.27" cy="245.98" r="0.38" fill="#3048ff" fill-opacity="0.45"/><circle cx="142.96" cy="253.54" r="0.38" fill="#3048ff" fill-opacity="0.45"/><circle cx="142.64" cy="258.70" r="0.38" fill="#3048ff" fill-opacity="0.45"/><circle cx="143.65" cy="252.39" r="0.38" fill="#3048ff" fill-opacity="0.45"/><circle cx="142.72" cy="261.34" r="0.38" fill="#3048ff" fill-opacity="0.45"/><circle cx="143.07" cy="260.12" r="0.38" fill="#3048ff" fill-opacity="0.45"/><circle cx="144.29" cy="246.48" r="0.38" fill="#3048ff" fill-opacity="0.45"/><circle cx="142.61" cy="256.92" r="0.38" fill="#3048ff" fill-opacity="0.45"/><circle cx="144.18" cy="261.19" r="0.38" fill="#3048ff" fill-opacity="0.45"/><circle cx="144.68" cy="262.59" r="0.38" fill="#3048ff" fill-opacity="0.45"/><circle cx="143.39" cy="255.74" r="0.38" fill="#3048ff" fill-opacity="0.45"/><circle cx="165.09" cy="259.20" r="0.38" fill="#3048ff" fill-opacity="0.42"/><circle cx="165.48" cy="254.54" r="0.38" fill="#3048ff" fill-opacity="0.42"/><circle cx="164.91" cy="260.21" r="0.38" fill="#3048ff" fill-opacity="0.42"/><circle cx="161.25" cy="264.82" r="0.38" fill="#3048ff" fill-opacity="0.42"/><circle cx="164.44" cy="260.98" r="0.38" fill="#3048ff" fill-opacity="0.42"/><circle cx="162.49" cy="259.04" r="0.38" fill="#3048ff" fill-opacity="0.42"/><circle cx="166.12" cy="257.59" r="0.38" fill="#3048ff" fill-opacity="0.42"/><circle cx="159.14" cy="257.47" r="0.38" fill="#3048ff" fill-opacity="0.42"/><circle cx="162.32" cy="260.37" r="0.38" fill="#3048ff" fill-opacity="0.42"/><circle cx="163.45" cy="257.25" r="0.38" fill="#3048ff" fill-opacity="0.42"/><circle cx="162.82" cy="265.09" r="0.38" fill="#3048ff" fill-opacity="0.42"/><circle cx="161.98" cy="268.73" r="0.38" fill="#3048ff" fill-opacity="0.42"/><circle cx="163.24" cy="256.53" r="0.38" fill="#3048ff" fill-opacity="0.42"/><circle cx="165.10" cy="263.16" r="0.38" fill="#3048ff" fill-opacity="0.42"/><circle cx="162.54" cy="263.89" r="0.38" fill="#3048ff" fill-opacity="0.42"/><circle cx="161.42" cy="257.21" r="0.38" fill="#3048ff" fill-opacity="0.42"/><circle cx="159.69" cy="267.34" r="0.38" fill="#3048ff" fill-opacity="0.38"/><circle cx="146.34" cy="268.42" r="0.38" fill="#3048ff" fill-opacity="0.38"/><circle cx="158.54" cy="267.67" r="0.38" fill="#3048ff" fill-opacity="0.38"/><circle cx="143.56" cy="267.22" r="0.38" fill="#3048ff" fill-opacity="0.38"/><circle cx="155.80" cy="268.78" r="0.38" fill="#3048ff" fill-opacity="0.38"/><circle cx="163.69" cy="267.35" r="0.38" fill="#3048ff" fill-opacity="0.38"/><circle cx="150.85" cy="267.65" r="0.38" fill="#3048ff" fill-opacity="0.38"/><circle cx="160.13" cy="266.38" r="0.38" fill="#3048ff" fill-opacity="0.38"/><circle cx="160.68" cy="263.85" r="0.38" fill="#3048ff" fill-opacity="0.38"/><circle cx="157.89" cy="266.75" r="0.38" fill="#3048ff" fill-opacity="0.38"/><circle cx="156.03" cy="268.66" r="0.38" fill="#3048ff" fill-opacity="0.38"/><circle cx="147.00" cy="267.58" r="0.38" fill="#3048ff" fill-opacity="0.38"/><circle cx="154.82" cy="268.52" r="0.38" fill="#3048ff" fill-opacity="0.38"/><circle cx="148.38" cy="266.31" r="0.38" fill="#3048ff" fill-opacity="0.38"/><circle cx="142.92" cy="271.26" r="0.38" fill="#3048ff" fill-opacity="0.38"/><circle cx="152.44" cy="267.39" r="0.38" fill="#3048ff" fill-opacity="0.38"/><circle cx="138.52" cy="270.10" r="0.38" fill="#3048ff" fill-opacity="0.5"/><circle cx="141.98" cy="271.56" r="0.38" fill="#3048ff" fill-opacity="0.5"/><circle cx="146.97" cy="267.46" r="0.38" fill="#3048ff" fill-opacity="0.5"/><circle cx="146.52" cy="264.18" r="0.38" fill="#3048ff" fill-opacity="0.5"/><circle cx="142.73" cy="265.73" r="0.38" fill="#3048ff" fill-opacity="0.5"/><circle cx="139.33" cy="267.45" r="0.38" fill="#3048ff" fill-opacity="0.5"/><circle cx="143.38" cy="271.56" r="0.38" fill="#3048ff" fill-opacity="0.5"/><circle cx="131.83" cy="265.45" r="0.38" fill="#3048ff" fill-opacity="0.5"/><circle cx="140.59" cy="266.05" r="0.38" fill="#3048ff" fill-opacity="0.5"/><circle cx="145.42" cy="268.57" r="0.38" fill="#3048ff" fill-opacity="0.5"/><circle cx="144.00" cy="266.03" r="0.38" fill="#3048ff" fill-opacity="0.5"/><circle cx="145.68" cy="268.44" r="0.38" fill="#3048ff" fill-opacity="0.5"/><circle cx="137.27" cy="266.64" r="0.38" fill="#3048ff" fill-opacity="0.5"/><circle cx="138.95" cy="263.97" r="0.38" fill="#3048ff" fill-opacity="0.5"/><circle cx="144.43" cy="267.57" r="0.38" fill="#3048ff" fill-opacity="0.5"/><circle cx="144.31" cy="264.86" r="0.38" fill="#3048ff" fill-opacity="0.5"/><circle cx="143.18" cy="264.75" r="0.38" fill="#3048ff" fill-opacity="0.5"/><circle cx="145.27" cy="269.40" r="0.38" fill="#3048ff" fill-opacity="0.5"/><circle cx="150.22" cy="271.07" r="0.38" fill="#3048ff" fill-opacity="0.5"/><circle cx="141.00" cy="266.07" r="0.38" fill="#3048ff" fill-opacity="0.5"/><circle cx="140.52" cy="268.29" r="0.38" fill="#3048ff" fill-opacity="0.5"/><circle cx="151.03" cy="269.45" r="0.38" fill="#3048ff" fill-opacity="0.5"/><circle cx="135.98" cy="263.75" r="0.38" fill="#3048ff" fill-opacity="0.5"/><circle cx="139.25" cy="268.89" r="0.38" fill="#3048ff" fill-opacity="0.5"/><circle cx="143.90" cy="268.27" r="0.38" fill="#3048ff" fill-opacity="0.5"/><circle cx="150.31" cy="265.00" r="0.38" fill="#3048ff" fill-opacity="0.5"/><circle cx="140.85" cy="273.10" r="0.38" fill="#3048ff" fill-opacity="0.5"/><circle cx="145.13" cy="265.14" r="0.38" fill="#3048ff" fill-opacity="0.5"/><circle cx="136.60" cy="262.98" r="0.38" fill="#3048ff" fill-opacity="0.5"/><circle cx="135.10" cy="267.60" r="0.38" fill="#3048ff" fill-opacity="0.5"/><circle cx="144.06" cy="270.28" r="0.38" fill="#3048ff" fill-opacity="0.5"/><circle cx="143.40" cy="265.39" r="0.38" fill="#3048ff" fill-opacity="0.5"/><circle cx="141.23" cy="272.91" r="0.38" fill="#3048ff" fill-opacity="0.5"/><circle cx="137.54" cy="267.90" r="0.38" fill="#3048ff" fill-opacity="0.5"/><circle cx="143.99" cy="269.19" r="0.38" fill="#3048ff" fill-opacity="0.5"/><circle cx="142.44" cy="268.85" r="0.38" fill="#3048ff" fill-opacity="0.5"/><circle cx="146.84" cy="266.97" r="0.38" fill="#3048ff" fill-opacity="0.5"/><circle cx="142.25" cy="266.86" r="0.38" fill="#3048ff" fill-opacity="0.5"/><circle cx="140.43" cy="266.80" r="0.38" fill="#3048ff" fill-opacity="0.5"/><circle cx="142.81" cy="268.01" r="0.38" fill="#3048ff" fill-opacity="0.5"/><circle cx="148.71" cy="271.19" r="0.38" fill="#3048ff" fill-opacity="0.5"/><circle cx="142.30" cy="269.15" r="0.38" fill="#3048ff" fill-opacity="0.5"/><circle cx="144.96" cy="269.61" r="0.38" fill="#3048ff" fill-opacity="0.5"/><circle cx="143.98" cy="268.17" r="0.38" fill="#3048ff" fill-opacity="0.5"/><circle cx="142.21" cy="265.12" r="0.38" fill="#3048ff" fill-opacity="0.5"/><circle cx="147.04" cy="271.17" r="0.38" fill="#3048ff" fill-opacity="0.5"/><circle cx="146.28" cy="268.66" r="0.38" fill="#3048ff" fill-opacity="0.5"/><circle cx="144.86" cy="266.09" r="0.38" fill="#3048ff" fill-opacity="0.5"/><circle cx="137.48" cy="269.32" r="0.38" fill="#3048ff" fill-opacity="0.5"/><circle cx="144.62" cy="265.79" r="0.38" fill="#3048ff" fill-opacity="0.5"/><circle cx="140.43" cy="271.11" r="0.38" fill="#3048ff" fill-opacity="0.5"/><circle cx="137.40" cy="272.51" r="0.38" fill="#3048ff" fill-opacity="0.5"/><circle cx="146.20" cy="274.28" r="0.38" fill="#3048ff" fill-opacity="0.5"/><circle cx="141.32" cy="267.34" r="0.38" fill="#3048ff" fill-opacity="0.5"/><circle cx="142.08" cy="267.85" r="0.38" fill="#3048ff" fill-opacity="0.5"/><circle cx="143.14" cy="265.23" r="0.38" fill="#3048ff" fill-opacity="0.5"/><circle cx="147.77" cy="265.12" r="0.38" fill="#3048ff" fill-opacity="0.5"/><circle cx="142.07" cy="269.01" r="0.38" fill="#3048ff" fill-opacity="0.5"/><circle cx="141.96" cy="266.14" r="0.38" fill="#3048ff" fill-opacity="0.5"/><circle cx="145.18" cy="266.33" r="0.38" fill="#3048ff" fill-opacity="0.5"/><ellipse cx="143.90" cy="267.40" rx="6.1" ry="4.9" fill="url(#gbig)"/><circle cx="159.66" cy="267.65" r="0.38" fill="#3048ff" fill-opacity="0.5"/><circle cx="163.15" cy="271.99" r="0.38" fill="#3048ff" fill-opacity="0.5"/><circle cx="160.17" cy="270.23" r="0.38" fill="#3048ff" fill-opacity="0.5"/><circle cx="161.23" cy="267.05" r="0.38" fill="#3048ff" fill-opacity="0.5"/><circle cx="162.79" cy="268.55" r="0.38" fill="#3048ff" fill-opacity="0.5"/><circle cx="166.84" cy="272.10" r="0.38" fill="#3048ff" fill-opacity="0.5"/><circle cx="161.74" cy="271.09" r="0.38" fill="#3048ff" fill-opacity="0.5"/><circle cx="167.28" cy="269.85" r="0.38" fill="#3048ff" fill-opacity="0.5"/><circle cx="161.32" cy="270.06" r="0.38" fill="#3048ff" fill-opacity="0.5"/><circle cx="163.53" cy="268.75" r="0.38" fill="#3048ff" fill-opacity="0.5"/><circle cx="162.99" cy="269.49" r="0.38" fill="#3048ff" fill-opacity="0.5"/><circle cx="167.69" cy="270.61" r="0.38" fill="#3048ff" fill-opacity="0.5"/><circle cx="163.20" cy="270.29" r="0.38" fill="#3048ff" fill-opacity="0.5"/><circle cx="168.84" cy="265.66" r="0.38" fill="#3048ff" fill-opacity="0.5"/><circle cx="168.91" cy="264.70" r="0.38" fill="#3048ff" fill-opacity="0.5"/><circle cx="165.75" cy="269.33" r="0.38" fill="#3048ff" fill-opacity="0.5"/><circle cx="168.94" cy="268.57" r="0.38" fill="#3048ff" fill-opacity="0.5"/><circle cx="162.27" cy="265.99" r="0.38" fill="#3048ff" fill-opacity="0.5"/><circle cx="159.65" cy="269.74" r="0.38" fill="#3048ff" fill-opacity="0.5"/><circle cx="163.09" cy="266.18" r="0.38" fill="#3048ff" fill-opacity="0.5"/><circle cx="165.71" cy="266.06" r="0.38" fill="#3048ff" fill-opacity="0.5"/><circle cx="162.41" cy="266.80" r="0.38" fill="#3048ff" fill-opacity="0.5"/><circle cx="169.52" cy="271.41" r="0.38" fill="#3048ff" fill-opacity="0.5"/><circle cx="163.36" cy="264.13" r="0.38" fill="#3048ff" fill-opacity="0.5"/><circle cx="164.84" cy="268.07" r="0.38" fill="#3048ff" fill-opacity="0.5"/><circle cx="165.09" cy="269.26" r="0.38" fill="#3048ff" fill-opacity="0.5"/><circle cx="162.81" cy="270.12" r="0.38" fill="#3048ff" fill-opacity="0.5"/><circle cx="166.75" cy="268.41" r="0.38" fill="#3048ff" fill-opacity="0.5"/><circle cx="162.52" cy="266.75" r="0.38" fill="#3048ff" fill-opacity="0.5"/><circle cx="166.25" cy="265.26" r="0.38" fill="#3048ff" fill-opacity="0.5"/><circle cx="163.36" cy="266.10" r="0.38" fill="#3048ff" fill-opacity="0.5"/><circle cx="159.16" cy="269.35" r="0.38" fill="#3048ff" fill-opacity="0.5"/><circle cx="163.81" cy="267.99" r="0.38" fill="#3048ff" fill-opacity="0.5"/><circle cx="166.87" cy="264.31" r="0.38" fill="#3048ff" fill-opacity="0.5"/><circle cx="163.67" cy="268.59" r="0.38" fill="#3048ff" fill-opacity="0.5"/><circle cx="166.73" cy="265.30" r="0.38" fill="#3048ff" fill-opacity="0.5"/><circle cx="166.33" cy="268.43" r="0.38" fill="#3048ff" fill-opacity="0.5"/><circle cx="168.51" cy="270.63" r="0.38" fill="#3048ff" fill-opacity="0.5"/><circle cx="165.77" cy="273.06" r="0.38" fill="#3048ff" fill-opacity="0.5"/><circle cx="163.90" cy="266.88" r="0.38" fill="#3048ff" fill-opacity="0.5"/><circle cx="162.74" cy="265.64" r="0.38" fill="#3048ff" fill-opacity="0.5"/><circle cx="163.80" cy="263.39" r="0.38" fill="#3048ff" fill-opacity="0.5"/><circle cx="163.61" cy="268.92" r="0.38" fill="#3048ff" fill-opacity="0.5"/><circle cx="167.27" cy="267.07" r="0.38" fill="#3048ff" fill-opacity="0.5"/><circle cx="168.62" cy="266.34" r="0.38" fill="#3048ff" fill-opacity="0.5"/><ellipse cx="163.90" cy="267.90" rx="6.0" ry="4.0" fill="url(#ggrn)"/>
<rect x="136.50" y="229.90" width="45.4" height="45" fill="none" stroke="#858585" stroke-width="1"/>
<rect x="136.90" y="230.30" width="15.5" height="21.1" fill="none" stroke="#858585" stroke-width="0.8"/>
<text transform="translate(153.90,239.10) scale(1,1.08)" font-size="5.0" text-anchor="start" fill="#1a1a1a" stroke="#1a1a1a" stroke-width="0.22" font-weight="bold" >0.41</text>
<text transform="translate(165.40,254.70) scale(1,1.12)" font-size="6.6" text-anchor="start" fill="#c20d17" stroke="#c20d17" stroke-width="0.22" font-weight="bold" >222</text>
<text transform="translate(60.20,305.00) scale(1,1.08)" font-size="8.15" text-anchor="middle" fill="#111" stroke="#111" stroke-width="0.22" font-weight="bold" >Day42</text>
<ellipse cx="94.00" cy="289.80" rx="3.60" ry="4.60" fill="url(#gup)" opacity="0.65"/><circle cx="93.76" cy="284.19" r="0.38" fill="#3048ff" fill-opacity="0.55"/><circle cx="92.63" cy="287.67" r="0.38" fill="#3048ff" fill-opacity="0.55"/><circle cx="96.63" cy="291.86" r="0.38" fill="#3048ff" fill-opacity="0.55"/><circle cx="92.06" cy="291.87" r="0.38" fill="#3048ff" fill-opacity="0.55"/><circle cx="94.85" cy="289.47" r="0.38" fill="#3048ff" fill-opacity="0.55"/><circle cx="94.04" cy="289.25" r="0.38" fill="#3048ff" fill-opacity="0.55"/><circle cx="93.05" cy="284.66" r="0.38" fill="#3048ff" fill-opacity="0.55"/><circle cx="93.84" cy="294.21" r="0.38" fill="#3048ff" fill-opacity="0.55"/><circle cx="96.52" cy="289.33" r="0.38" fill="#3048ff" fill-opacity="0.55"/><circle cx="92.69" cy="289.54" r="0.38" fill="#3048ff" fill-opacity="0.55"/><circle cx="95.58" cy="291.30" r="0.38" fill="#3048ff" fill-opacity="0.55"/><circle cx="92.97" cy="291.33" r="0.38" fill="#3048ff" fill-opacity="0.55"/><circle cx="93.64" cy="291.81" r="0.38" fill="#3048ff" fill-opacity="0.55"/><circle cx="93.28" cy="285.61" r="0.38" fill="#3048ff" fill-opacity="0.55"/><circle cx="94.10" cy="292.57" r="0.38" fill="#3048ff" fill-opacity="0.55"/><circle cx="92.06" cy="289.86" r="0.38" fill="#3048ff" fill-opacity="0.55"/><circle cx="95.54" cy="289.03" r="0.38" fill="#3048ff" fill-opacity="0.55"/><circle cx="92.86" cy="296.53" r="0.38" fill="#3048ff" fill-opacity="0.55"/><circle cx="95.46" cy="293.40" r="0.38" fill="#3048ff" fill-opacity="0.55"/><circle cx="92.34" cy="295.29" r="0.38" fill="#3048ff" fill-opacity="0.55"/><circle cx="91.10" cy="288.58" r="0.38" fill="#3048ff" fill-opacity="0.55"/><circle cx="95.30" cy="294.34" r="0.38" fill="#3048ff" fill-opacity="0.55"/><circle cx="93.60" cy="302.65" r="0.38" fill="#3048ff" fill-opacity="0.45"/><circle cx="94.81" cy="295.88" r="0.38" fill="#3048ff" fill-opacity="0.45"/><circle cx="95.28" cy="309.20" r="0.38" fill="#3048ff" fill-opacity="0.45"/><circle cx="94.12" cy="309.07" r="0.38" fill="#3048ff" fill-opacity="0.45"/><circle cx="95.43" cy="307.85" r="0.38" fill="#3048ff" fill-opacity="0.45"/><circle cx="95.16" cy="314.29" r="0.38" fill="#3048ff" fill-opacity="0.45"/><circle cx="94.09" cy="307.06" r="0.38" fill="#3048ff" fill-opacity="0.45"/><circle cx="94.04" cy="311.72" r="0.38" fill="#3048ff" fill-opacity="0.45"/><circle cx="94.17" cy="308.73" r="0.38" fill="#3048ff" fill-opacity="0.45"/><circle cx="94.75" cy="306.55" r="0.38" fill="#3048ff" fill-opacity="0.45"/><circle cx="96.43" cy="305.75" r="0.38" fill="#3048ff" fill-opacity="0.45"/><circle cx="96.11" cy="310.60" r="0.38" fill="#3048ff" fill-opacity="0.45"/><circle cx="96.01" cy="305.32" r="0.38" fill="#3048ff" fill-opacity="0.45"/><circle cx="95.59" cy="310.22" r="0.38" fill="#3048ff" fill-opacity="0.45"/><circle cx="93.95" cy="307.63" r="0.38" fill="#3048ff" fill-opacity="0.45"/><circle cx="94.46" cy="306.01" r="0.38" fill="#3048ff" fill-opacity="0.45"/><circle cx="95.98" cy="302.37" r="0.38" fill="#3048ff" fill-opacity="0.45"/><circle cx="92.81" cy="296.94" r="0.38" fill="#3048ff" fill-opacity="0.45"/><circle cx="94.12" cy="302.77" r="0.38" fill="#3048ff" fill-opacity="0.45"/><circle cx="94.62" cy="309.20" r="0.38" fill="#3048ff" fill-opacity="0.45"/><circle cx="96.47" cy="307.84" r="0.38" fill="#3048ff" fill-opacity="0.45"/><circle cx="95.09" cy="302.30" r="0.38" fill="#3048ff" fill-opacity="0.45"/><circle cx="95.22" cy="313.41" r="0.38" fill="#3048ff" fill-opacity="0.45"/><circle cx="116.61" cy="302.66" r="0.38" fill="#3048ff" fill-opacity="0.42"/><circle cx="116.00" cy="316.31" r="0.38" fill="#3048ff" fill-opacity="0.42"/><circle cx="115.92" cy="304.44" r="0.38" fill="#3048ff" fill-opacity="0.42"/><circle cx="114.39" cy="312.46" r="0.38" fill="#3048ff" fill-opacity="0.42"/><circle cx="115.36" cy="307.07" r="0.38" fill="#3048ff" fill-opacity="0.42"/><circle cx="113.60" cy="313.92" r="0.38" fill="#3048ff" fill-opacity="0.42"/><circle cx="113.00" cy="315.73" r="0.38" fill="#3048ff" fill-opacity="0.42"/><circle cx="114.83" cy="311.36" r="0.38" fill="#3048ff" fill-opacity="0.42"/><circle cx="113.00" cy="307.90" r="0.38" fill="#3048ff" fill-opacity="0.42"/><circle cx="115.73" cy="304.54" r="0.38" fill="#3048ff" fill-opacity="0.42"/><circle cx="117.59" cy="304.80" r="0.38" fill="#3048ff" fill-opacity="0.42"/><circle cx="113.15" cy="310.37" r="0.38" fill="#3048ff" fill-opacity="0.42"/><circle cx="115.45" cy="313.02" r="0.38" fill="#3048ff" fill-opacity="0.42"/><circle cx="114.30" cy="309.40" r="0.38" fill="#3048ff" fill-opacity="0.42"/><circle cx="114.48" cy="307.99" r="0.38" fill="#3048ff" fill-opacity="0.42"/><circle cx="111.33" cy="313.90" r="0.38" fill="#3048ff" fill-opacity="0.42"/><circle cx="105.63" cy="317.21" r="0.38" fill="#3048ff" fill-opacity="0.38"/><circle cx="100.98" cy="317.34" r="0.38" fill="#3048ff" fill-opacity="0.38"/><circle cx="104.23" cy="316.90" r="0.38" fill="#3048ff" fill-opacity="0.38"/><circle cx="110.14" cy="314.68" r="0.38" fill="#3048ff" fill-opacity="0.38"/><circle cx="105.63" cy="315.57" r="0.38" fill="#3048ff" fill-opacity="0.38"/><circle cx="102.62" cy="319.02" r="0.38" fill="#3048ff" fill-opacity="0.38"/><circle cx="98.57" cy="316.87" r="0.38" fill="#3048ff" fill-opacity="0.38"/><circle cx="101.17" cy="318.28" r="0.38" fill="#3048ff" fill-opacity="0.38"/><circle cx="99.13" cy="314.74" r="0.38" fill="#3048ff" fill-opacity="0.38"/><circle cx="107.02" cy="316.52" r="0.38" fill="#3048ff" fill-opacity="0.38"/><circle cx="102.61" cy="318.45" r="0.38" fill="#3048ff" fill-opacity="0.38"/><circle cx="99.61" cy="316.50" r="0.38" fill="#3048ff" fill-opacity="0.38"/><circle cx="105.08" cy="317.56" r="0.38" fill="#3048ff" fill-opacity="0.38"/><circle cx="101.57" cy="318.39" r="0.38" fill="#3048ff" fill-opacity="0.38"/><circle cx="116.14" cy="316.45" r="0.38" fill="#3048ff" fill-opacity="0.38"/><circle cx="114.18" cy="314.16" r="0.38" fill="#3048ff" fill-opacity="0.38"/><circle cx="99.56" cy="315.74" r="0.38" fill="#3048ff" fill-opacity="0.5"/><circle cx="95.17" cy="315.75" r="0.38" fill="#3048ff" fill-opacity="0.5"/><circle cx="92.50" cy="313.14" r="0.38" fill="#3048ff" fill-opacity="0.5"/><circle cx="93.34" cy="320.31" r="0.38" fill="#3048ff" fill-opacity="0.5"/><circle cx="98.64" cy="315.73" r="0.38" fill="#3048ff" fill-opacity="0.5"/><circle cx="92.87" cy="314.75" r="0.38" fill="#3048ff" fill-opacity="0.5"/><circle cx="90.55" cy="321.72" r="0.38" fill="#3048ff" fill-opacity="0.5"/><circle cx="96.99" cy="317.03" r="0.38" fill="#3048ff" fill-opacity="0.5"/><circle cx="93.00" cy="313.85" r="0.38" fill="#3048ff" fill-opacity="0.5"/><circle cx="99.25" cy="318.87" r="0.38" fill="#3048ff" fill-opacity="0.5"/><circle cx="91.41" cy="319.45" r="0.38" fill="#3048ff" fill-opacity="0.5"/><circle cx="90.87" cy="318.49" r="0.38" fill="#3048ff" fill-opacity="0.5"/><circle cx="91.38" cy="315.55" r="0.38" fill="#3048ff" fill-opacity="0.5"/><circle cx="96.41" cy="317.90" r="0.38" fill="#3048ff" fill-opacity="0.5"/><circle cx="98.20" cy="314.37" r="0.38" fill="#3048ff" fill-opacity="0.5"/><circle cx="100.16" cy="320.44" r="0.38" fill="#3048ff" fill-opacity="0.5"/><circle cx="94.66" cy="318.00" r="0.38" fill="#3048ff" fill-opacity="0.5"/><circle cx="92.01" cy="316.28" r="0.38" fill="#3048ff" fill-opacity="0.5"/><circle cx="90.14" cy="316.95" r="0.38" fill="#3048ff" fill-opacity="0.5"/><circle cx="95.39" cy="320.44" r="0.38" fill="#3048ff" fill-opacity="0.5"/><circle cx="97.98" cy="318.97" r="0.38" fill="#3048ff" fill-opacity="0.5"/><circle cx="93.45" cy="316.07" r="0.38" fill="#3048ff" fill-opacity="0.5"/><circle cx="93.52" cy="317.32" r="0.38" fill="#3048ff" fill-opacity="0.5"/><circle cx="88.03" cy="318.85" r="0.38" fill="#3048ff" fill-opacity="0.5"/><circle cx="89.28" cy="315.27" r="0.38" fill="#3048ff" fill-opacity="0.5"/><circle cx="94.78" cy="315.27" r="0.38" fill="#3048ff" fill-opacity="0.5"/><circle cx="100.45" cy="316.43" r="0.38" fill="#3048ff" fill-opacity="0.5"/><circle cx="100.13" cy="319.97" r="0.38" fill="#3048ff" fill-opacity="0.5"/><circle cx="92.98" cy="317.82" r="0.38" fill="#3048ff" fill-opacity="0.5"/><circle cx="99.19" cy="315.77" r="0.38" fill="#3048ff" fill-opacity="0.5"/><circle cx="95.01" cy="315.15" r="0.38" fill="#3048ff" fill-opacity="0.5"/><circle cx="94.90" cy="315.71" r="0.38" fill="#3048ff" fill-opacity="0.5"/><circle cx="94.99" cy="319.49" r="0.38" fill="#3048ff" fill-opacity="0.5"/><circle cx="99.51" cy="317.07" r="0.38" fill="#3048ff" fill-opacity="0.5"/><circle cx="95.40" cy="319.08" r="0.38" fill="#3048ff" fill-opacity="0.5"/><circle cx="93.70" cy="313.75" r="0.38" fill="#3048ff" fill-opacity="0.5"/><circle cx="98.54" cy="314.10" r="0.38" fill="#3048ff" fill-opacity="0.5"/><circle cx="97.92" cy="314.01" r="0.38" fill="#3048ff" fill-opacity="0.5"/><circle cx="101.03" cy="313.79" r="0.38" fill="#3048ff" fill-opacity="0.5"/><circle cx="97.63" cy="320.87" r="0.38" fill="#3048ff" fill-opacity="0.5"/><circle cx="91.38" cy="320.84" r="0.38" fill="#3048ff" fill-opacity="0.5"/><circle cx="91.86" cy="311.79" r="0.38" fill="#3048ff" fill-opacity="0.5"/><circle cx="97.19" cy="318.65" r="0.38" fill="#3048ff" fill-opacity="0.5"/><circle cx="94.00" cy="309.67" r="0.38" fill="#3048ff" fill-opacity="0.5"/><circle cx="94.51" cy="315.85" r="0.38" fill="#3048ff" fill-opacity="0.5"/><circle cx="93.39" cy="315.89" r="0.38" fill="#3048ff" fill-opacity="0.5"/><circle cx="88.51" cy="315.12" r="0.38" fill="#3048ff" fill-opacity="0.5"/><circle cx="100.92" cy="321.01" r="0.38" fill="#3048ff" fill-opacity="0.5"/><circle cx="93.45" cy="314.72" r="0.38" fill="#3048ff" fill-opacity="0.5"/><circle cx="96.07" cy="319.66" r="0.38" fill="#3048ff" fill-opacity="0.5"/><circle cx="97.20" cy="313.45" r="0.38" fill="#3048ff" fill-opacity="0.5"/><circle cx="95.26" cy="317.09" r="0.38" fill="#3048ff" fill-opacity="0.5"/><circle cx="99.67" cy="320.03" r="0.38" fill="#3048ff" fill-opacity="0.5"/><circle cx="96.51" cy="320.09" r="0.38" fill="#3048ff" fill-opacity="0.5"/><circle cx="93.33" cy="320.98" r="0.38" fill="#3048ff" fill-opacity="0.5"/><circle cx="93.23" cy="317.80" r="0.38" fill="#3048ff" fill-opacity="0.5"/><circle cx="97.87" cy="314.16" r="0.38" fill="#3048ff" fill-opacity="0.5"/><circle cx="92.27" cy="311.81" r="0.38" fill="#3048ff" fill-opacity="0.5"/><circle cx="95.27" cy="316.55" r="0.38" fill="#3048ff" fill-opacity="0.5"/><circle cx="93.57" cy="318.09" r="0.38" fill="#3048ff" fill-opacity="0.5"/><ellipse cx="94.70" cy="316.70" rx="6.1" ry="4.9" fill="url(#gbig)"/><circle cx="107.79" cy="317.15" r="0.38" fill="#3048ff" fill-opacity="0.5"/><circle cx="114.98" cy="316.59" r="0.38" fill="#3048ff" fill-opacity="0.5"/><circle cx="117.29" cy="321.24" r="0.38" fill="#3048ff" fill-opacity="0.5"/><circle cx="113.25" cy="315.03" r="0.38" fill="#3048ff" fill-opacity="0.5"/><circle cx="112.73" cy="317.41" r="0.38" fill="#3048ff" fill-opacity="0.5"/><circle cx="116.61" cy="315.22" r="0.38" fill="#3048ff" fill-opacity="0.5"/><circle cx="117.96" cy="314.84" r="0.38" fill="#3048ff" fill-opacity="0.5"/><circle cx="117.40" cy="318.18" r="0.38" fill="#3048ff" fill-opacity="0.5"/><circle cx="116.21" cy="322.17" r="0.38" fill="#3048ff" fill-opacity="0.5"/><circle cx="113.84" cy="316.82" r="0.38" fill="#3048ff" fill-opacity="0.5"/><circle cx="116.25" cy="319.19" r="0.38" fill="#3048ff" fill-opacity="0.5"/><circle cx="110.33" cy="317.83" r="0.38" fill="#3048ff" fill-opacity="0.5"/><circle cx="112.28" cy="318.65" r="0.38" fill="#3048ff" fill-opacity="0.5"/><circle cx="119.17" cy="317.32" r="0.38" fill="#3048ff" fill-opacity="0.5"/><circle cx="114.35" cy="317.62" r="0.38" fill="#3048ff" fill-opacity="0.5"/><circle cx="105.05" cy="318.98" r="0.38" fill="#3048ff" fill-opacity="0.5"/><circle cx="116.53" cy="317.58" r="0.38" fill="#3048ff" fill-opacity="0.5"/><circle cx="113.41" cy="315.52" r="0.38" fill="#3048ff" fill-opacity="0.5"/><circle cx="114.12" cy="320.00" r="0.38" fill="#3048ff" fill-opacity="0.5"/><circle cx="114.37" cy="320.30" r="0.38" fill="#3048ff" fill-opacity="0.5"/><circle cx="106.31" cy="316.14" r="0.38" fill="#3048ff" fill-opacity="0.5"/><circle cx="115.59" cy="317.17" r="0.38" fill="#3048ff" fill-opacity="0.5"/><circle cx="109.28" cy="315.67" r="0.38" fill="#3048ff" fill-opacity="0.5"/><circle cx="118.78" cy="314.22" r="0.38" fill="#3048ff" fill-opacity="0.5"/><circle cx="111.47" cy="314.67" r="0.38" fill="#3048ff" fill-opacity="0.5"/><circle cx="112.90" cy="318.68" r="0.38" fill="#3048ff" fill-opacity="0.5"/><circle cx="116.64" cy="312.52" r="0.38" fill="#3048ff" fill-opacity="0.5"/><circle cx="119.46" cy="315.84" r="0.38" fill="#3048ff" fill-opacity="0.5"/><circle cx="112.78" cy="321.04" r="0.38" fill="#3048ff" fill-opacity="0.5"/><circle cx="114.43" cy="314.34" r="0.38" fill="#3048ff" fill-opacity="0.5"/><circle cx="112.61" cy="315.53" r="0.38" fill="#3048ff" fill-opacity="0.5"/><circle cx="111.40" cy="316.43" r="0.38" fill="#3048ff" fill-opacity="0.5"/><circle cx="117.56" cy="318.01" r="0.38" fill="#3048ff" fill-opacity="0.5"/><circle cx="110.19" cy="323.62" r="0.38" fill="#3048ff" fill-opacity="0.5"/><circle cx="111.47" cy="317.47" r="0.38" fill="#3048ff" fill-opacity="0.5"/><circle cx="114.80" cy="318.95" r="0.38" fill="#3048ff" fill-opacity="0.5"/><circle cx="113.63" cy="318.25" r="0.38" fill="#3048ff" fill-opacity="0.5"/><circle cx="121.57" cy="317.42" r="0.38" fill="#3048ff" fill-opacity="0.5"/><circle cx="111.17" cy="317.96" r="0.38" fill="#3048ff" fill-opacity="0.5"/><circle cx="112.08" cy="316.35" r="0.38" fill="#3048ff" fill-opacity="0.5"/><circle cx="115.31" cy="317.98" r="0.38" fill="#3048ff" fill-opacity="0.5"/><circle cx="113.77" cy="319.15" r="0.38" fill="#3048ff" fill-opacity="0.5"/><circle cx="114.07" cy="314.19" r="0.38" fill="#3048ff" fill-opacity="0.5"/><circle cx="117.57" cy="316.36" r="0.38" fill="#3048ff" fill-opacity="0.5"/><circle cx="118.66" cy="315.69" r="0.38" fill="#3048ff" fill-opacity="0.5"/><ellipse cx="114.70" cy="317.20" rx="5.0" ry="3.6" fill="url(#gblue)"/>
<rect x="87.30" y="279.20" width="45.4" height="45" fill="none" stroke="#858585" stroke-width="1"/>
<rect x="87.70" y="279.60" width="15.5" height="21.1" fill="none" stroke="#858585" stroke-width="0.8"/>
<text transform="translate(104.70,288.40) scale(1,1.08)" font-size="5.0" text-anchor="start" fill="#1a1a1a" stroke="#1a1a1a" stroke-width="0.22" font-weight="bold" >0.91</text>
<text transform="translate(116.20,304.20) scale(1,1.12)" font-size="6.6" text-anchor="start" fill="#c20d17" stroke="#c20d17" stroke-width="0.22" font-weight="bold" >328</text>
<ellipse cx="143.20" cy="289.80" rx="3.60" ry="4.60" fill="url(#gup)" opacity="0.50"/><circle cx="144.19" cy="291.17" r="0.38" fill="#3048ff" fill-opacity="0.55"/><circle cx="138.54" cy="285.61" r="0.38" fill="#3048ff" fill-opacity="0.55"/><circle cx="141.27" cy="294.52" r="0.38" fill="#3048ff" fill-opacity="0.55"/><circle cx="139.94" cy="293.01" r="0.38" fill="#3048ff" fill-opacity="0.55"/><circle cx="145.09" cy="291.72" r="0.38" fill="#3048ff" fill-opacity="0.55"/><circle cx="144.37" cy="288.68" r="0.38" fill="#3048ff" fill-opacity="0.55"/><circle cx="143.18" cy="290.89" r="0.38" fill="#3048ff" fill-opacity="0.55"/><circle cx="143.93" cy="292.37" r="0.38" fill="#3048ff" fill-opacity="0.55"/><circle cx="142.84" cy="288.05" r="0.38" fill="#3048ff" fill-opacity="0.55"/><circle cx="142.23" cy="291.46" r="0.38" fill="#3048ff" fill-opacity="0.55"/><circle cx="140.33" cy="286.35" r="0.38" fill="#3048ff" fill-opacity="0.55"/><circle cx="142.49" cy="288.50" r="0.38" fill="#3048ff" fill-opacity="0.55"/><circle cx="142.73" cy="282.02" r="0.38" fill="#3048ff" fill-opacity="0.55"/><circle cx="142.61" cy="289.43" r="0.38" fill="#3048ff" fill-opacity="0.55"/><circle cx="144.54" cy="284.12" r="0.38" fill="#3048ff" fill-opacity="0.55"/><circle cx="143.48" cy="308.71" r="0.38" fill="#3048ff" fill-opacity="0.45"/><circle cx="144.32" cy="312.52" r="0.38" fill="#3048ff" fill-opacity="0.45"/><circle cx="144.91" cy="300.66" r="0.38" fill="#3048ff" fill-opacity="0.45"/><circle cx="144.47" cy="304.43" r="0.38" fill="#3048ff" fill-opacity="0.45"/><circle cx="142.95" cy="314.31" r="0.38" fill="#3048ff" fill-opacity="0.45"/><circle cx="143.13" cy="301.69" r="0.38" fill="#3048ff" fill-opacity="0.45"/><circle cx="143.37" cy="301.70" r="0.38" fill="#3048ff" fill-opacity="0.45"/><circle cx="144.86" cy="308.21" r="0.38" fill="#3048ff" fill-opacity="0.45"/><circle cx="145.28" cy="308.37" r="0.38" fill="#3048ff" fill-opacity="0.45"/><circle cx="143.15" cy="311.74" r="0.38" fill="#3048ff" fill-opacity="0.45"/><circle cx="143.11" cy="303.75" r="0.38" fill="#3048ff" fill-opacity="0.45"/><circle cx="143.62" cy="306.41" r="0.38" fill="#3048ff" fill-opacity="0.45"/><circle cx="145.06" cy="302.99" r="0.38" fill="#3048ff" fill-opacity="0.45"/><circle cx="144.17" cy="306.05" r="0.38" fill="#3048ff" fill-opacity="0.45"/><circle cx="142.47" cy="300.41" r="0.38" fill="#3048ff" fill-opacity="0.45"/><circle cx="143.57" cy="308.34" r="0.38" fill="#3048ff" fill-opacity="0.45"/><circle cx="144.14" cy="308.74" r="0.38" fill="#3048ff" fill-opacity="0.45"/><circle cx="143.85" cy="303.83" r="0.38" fill="#3048ff" fill-opacity="0.45"/><circle cx="164.57" cy="306.34" r="0.38" fill="#3048ff" fill-opacity="0.42"/><circle cx="162.19" cy="308.92" r="0.38" fill="#3048ff" fill-opacity="0.42"/><circle cx="162.07" cy="308.22" r="0.38" fill="#3048ff" fill-opacity="0.42"/><circle cx="162.99" cy="308.06" r="0.38" fill="#3048ff" fill-opacity="0.42"/><circle cx="163.94" cy="307.12" r="0.38" fill="#3048ff" fill-opacity="0.42"/><circle cx="163.43" cy="303.61" r="0.38" fill="#3048ff" fill-opacity="0.42"/><circle cx="164.20" cy="306.80" r="0.38" fill="#3048ff" fill-opacity="0.42"/><circle cx="164.55" cy="299.30" r="0.38" fill="#3048ff" fill-opacity="0.42"/><circle cx="162.92" cy="311.14" r="0.38" fill="#3048ff" fill-opacity="0.42"/><circle cx="160.71" cy="308.81" r="0.38" fill="#3048ff" fill-opacity="0.42"/><circle cx="164.13" cy="310.60" r="0.38" fill="#3048ff" fill-opacity="0.42"/><circle cx="161.98" cy="311.09" r="0.38" fill="#3048ff" fill-opacity="0.42"/><circle cx="164.20" cy="306.45" r="0.38" fill="#3048ff" fill-opacity="0.42"/><circle cx="165.01" cy="310.01" r="0.38" fill="#3048ff" fill-opacity="0.42"/><circle cx="164.03" cy="308.47" r="0.38" fill="#3048ff" fill-opacity="0.42"/><circle cx="164.74" cy="310.58" r="0.38" fill="#3048ff" fill-opacity="0.42"/><circle cx="159.53" cy="317.61" r="0.38" fill="#3048ff" fill-opacity="0.38"/><circle cx="150.22" cy="316.70" r="0.38" fill="#3048ff" fill-opacity="0.38"/><circle cx="158.38" cy="316.51" r="0.38" fill="#3048ff" fill-opacity="0.38"/><circle cx="155.53" cy="317.71" r="0.38" fill="#3048ff" fill-opacity="0.38"/><circle cx="152.55" cy="313.85" r="0.38" fill="#3048ff" fill-opacity="0.38"/><circle cx="154.20" cy="317.29" r="0.38" fill="#3048ff" fill-opacity="0.38"/><circle cx="154.22" cy="315.97" r="0.38" fill="#3048ff" fill-opacity="0.38"/><circle cx="159.93" cy="316.82" r="0.38" fill="#3048ff" fill-opacity="0.38"/><circle cx="150.19" cy="316.03" r="0.38" fill="#3048ff" fill-opacity="0.38"/><circle cx="155.41" cy="315.52" r="0.38" fill="#3048ff" fill-opacity="0.38"/><circle cx="148.18" cy="319.71" r="0.38" fill="#3048ff" fill-opacity="0.38"/><circle cx="160.47" cy="318.43" r="0.38" fill="#3048ff" fill-opacity="0.38"/><circle cx="160.76" cy="317.81" r="0.38" fill="#3048ff" fill-opacity="0.38"/><circle cx="144.54" cy="318.62" r="0.38" fill="#3048ff" fill-opacity="0.38"/><circle cx="160.09" cy="317.66" r="0.38" fill="#3048ff" fill-opacity="0.38"/><circle cx="143.09" cy="318.68" r="0.38" fill="#3048ff" fill-opacity="0.38"/><circle cx="148.66" cy="315.32" r="0.38" fill="#3048ff" fill-opacity="0.5"/><circle cx="144.34" cy="318.88" r="0.38" fill="#3048ff" fill-opacity="0.5"/><circle cx="143.60" cy="319.78" r="0.38" fill="#3048ff" fill-opacity="0.5"/><circle cx="144.18" cy="318.64" r="0.38" fill="#3048ff" fill-opacity="0.5"/><circle cx="144.20" cy="312.55" r="0.38" fill="#3048ff" fill-opacity="0.5"/><circle cx="140.43" cy="325.60" r="0.38" fill="#3048ff" fill-opacity="0.5"/><circle cx="144.87" cy="320.38" r="0.38" fill="#3048ff" fill-opacity="0.5"/><circle cx="147.87" cy="321.52" r="0.38" fill="#3048ff" fill-opacity="0.5"/><circle cx="145.83" cy="315.03" r="0.38" fill="#3048ff" fill-opacity="0.5"/><circle cx="143.96" cy="311.30" r="0.38" fill="#3048ff" fill-opacity="0.5"/><circle cx="143.24" cy="319.25" r="0.38" fill="#3048ff" fill-opacity="0.5"/><circle cx="136.35" cy="317.25" r="0.38" fill="#3048ff" fill-opacity="0.5"/><circle cx="146.78" cy="320.43" r="0.38" fill="#3048ff" fill-opacity="0.5"/><circle cx="140.67" cy="314.87" r="0.38" fill="#3048ff" fill-opacity="0.5"/><circle cx="137.35" cy="313.83" r="0.38" fill="#3048ff" fill-opacity="0.5"/><circle cx="145.76" cy="322.52" r="0.38" fill="#3048ff" fill-opacity="0.5"/><circle cx="139.90" cy="320.58" r="0.38" fill="#3048ff" fill-opacity="0.5"/><circle cx="145.39" cy="315.31" r="0.38" fill="#3048ff" fill-opacity="0.5"/><circle cx="151.57" cy="309.60" r="0.38" fill="#3048ff" fill-opacity="0.5"/><circle cx="143.66" cy="317.32" r="0.38" fill="#3048ff" fill-opacity="0.5"/><circle cx="151.35" cy="321.76" r="0.38" fill="#3048ff" fill-opacity="0.5"/><circle cx="151.82" cy="317.08" r="0.38" fill="#3048ff" fill-opacity="0.5"/><circle cx="147.33" cy="320.54" r="0.38" fill="#3048ff" fill-opacity="0.5"/><circle cx="145.69" cy="317.71" r="0.38" fill="#3048ff" fill-opacity="0.5"/><circle cx="143.26" cy="315.55" r="0.38" fill="#3048ff" fill-opacity="0.5"/><circle cx="139.60" cy="322.19" r="0.38" fill="#3048ff" fill-opacity="0.5"/><circle cx="142.34" cy="310.84" r="0.38" fill="#3048ff" fill-opacity="0.5"/><circle cx="144.82" cy="316.60" r="0.38" fill="#3048ff" fill-opacity="0.5"/><circle cx="144.52" cy="321.82" r="0.38" fill="#3048ff" fill-opacity="0.5"/><circle cx="143.53" cy="315.95" r="0.38" fill="#3048ff" fill-opacity="0.5"/><circle cx="141.29" cy="316.64" r="0.38" fill="#3048ff" fill-opacity="0.5"/><circle cx="142.36" cy="317.28" r="0.38" fill="#3048ff" fill-opacity="0.5"/><circle cx="154.83" cy="317.81" r="0.38" fill="#3048ff" fill-opacity="0.5"/><circle cx="140.90" cy="322.14" r="0.38" fill="#3048ff" fill-opacity="0.5"/><circle cx="146.93" cy="319.00" r="0.38" fill="#3048ff" fill-opacity="0.5"/><circle cx="146.40" cy="319.01" r="0.38" fill="#3048ff" fill-opacity="0.5"/><circle cx="146.26" cy="320.68" r="0.38" fill="#3048ff" fill-opacity="0.5"/><circle cx="147.43" cy="320.50" r="0.38" fill="#3048ff" fill-opacity="0.5"/><circle cx="142.14" cy="316.69" r="0.38" fill="#3048ff" fill-opacity="0.5"/><circle cx="141.35" cy="319.40" r="0.38" fill="#3048ff" fill-opacity="0.5"/><circle cx="146.81" cy="315.39" r="0.38" fill="#3048ff" fill-opacity="0.5"/><circle cx="145.95" cy="324.11" r="0.38" fill="#3048ff" fill-opacity="0.5"/><circle cx="148.23" cy="313.55" r="0.38" fill="#3048ff" fill-opacity="0.5"/><circle cx="143.58" cy="318.49" r="0.38" fill="#3048ff" fill-opacity="0.5"/><circle cx="143.77" cy="317.79" r="0.38" fill="#3048ff" fill-opacity="0.5"/><circle cx="148.04" cy="317.63" r="0.38" fill="#3048ff" fill-opacity="0.5"/><circle cx="140.05" cy="318.72" r="0.38" fill="#3048ff" fill-opacity="0.5"/><circle cx="143.56" cy="317.02" r="0.38" fill="#3048ff" fill-opacity="0.5"/><circle cx="141.91" cy="312.79" r="0.38" fill="#3048ff" fill-opacity="0.5"/><circle cx="139.53" cy="315.70" r="0.38" fill="#3048ff" fill-opacity="0.5"/><circle cx="140.15" cy="309.03" r="0.38" fill="#3048ff" fill-opacity="0.5"/><circle cx="147.93" cy="313.42" r="0.38" fill="#3048ff" fill-opacity="0.5"/><circle cx="141.36" cy="318.20" r="0.38" fill="#3048ff" fill-opacity="0.5"/><circle cx="135.45" cy="320.49" r="0.38" fill="#3048ff" fill-opacity="0.5"/><circle cx="141.21" cy="318.56" r="0.38" fill="#3048ff" fill-opacity="0.5"/><circle cx="142.21" cy="317.56" r="0.38" fill="#3048ff" fill-opacity="0.5"/><circle cx="144.27" cy="316.70" r="0.38" fill="#3048ff" fill-opacity="0.5"/><circle cx="137.49" cy="312.55" r="0.38" fill="#3048ff" fill-opacity="0.5"/><circle cx="143.76" cy="320.68" r="0.38" fill="#3048ff" fill-opacity="0.5"/><circle cx="141.99" cy="318.20" r="0.38" fill="#3048ff" fill-opacity="0.5"/><ellipse cx="143.90" cy="316.70" rx="6.1" ry="4.9" fill="url(#gbig)"/><circle cx="164.44" cy="318.33" r="0.38" fill="#3048ff" fill-opacity="0.5"/><circle cx="167.19" cy="313.70" r="0.38" fill="#3048ff" fill-opacity="0.5"/><circle cx="164.81" cy="316.78" r="0.38" fill="#3048ff" fill-opacity="0.5"/><circle cx="162.87" cy="315.20" r="0.38" fill="#3048ff" fill-opacity="0.5"/><circle cx="161.30" cy="314.79" r="0.38" fill="#3048ff" fill-opacity="0.5"/><circle cx="160.26" cy="323.07" r="0.38" fill="#3048ff" fill-opacity="0.5"/><circle cx="169.53" cy="317.22" r="0.38" fill="#3048ff" fill-opacity="0.5"/><circle cx="166.36" cy="314.92" r="0.38" fill="#3048ff" fill-opacity="0.5"/><circle cx="154.68" cy="312.94" r="0.38" fill="#3048ff" fill-opacity="0.5"/><circle cx="164.37" cy="320.57" r="0.38" fill="#3048ff" fill-opacity="0.5"/><circle cx="163.76" cy="314.86" r="0.38" fill="#3048ff" fill-opacity="0.5"/><circle cx="163.10" cy="314.87" r="0.38" fill="#3048ff" fill-opacity="0.5"/><circle cx="159.28" cy="316.66" r="0.38" fill="#3048ff" fill-opacity="0.5"/><circle cx="162.58" cy="315.30" r="0.38" fill="#3048ff" fill-opacity="0.5"/><circle cx="160.97" cy="315.02" r="0.38" fill="#3048ff" fill-opacity="0.5"/><circle cx="164.68" cy="320.46" r="0.38" fill="#3048ff" fill-opacity="0.5"/><circle cx="163.20" cy="322.43" r="0.38" fill="#3048ff" fill-opacity="0.5"/><circle cx="158.54" cy="317.84" r="0.38" fill="#3048ff" fill-opacity="0.5"/><circle cx="160.07" cy="316.82" r="0.38" fill="#3048ff" fill-opacity="0.5"/><circle cx="164.24" cy="318.51" r="0.38" fill="#3048ff" fill-opacity="0.5"/><circle cx="167.64" cy="315.90" r="0.38" fill="#3048ff" fill-opacity="0.5"/><circle cx="159.78" cy="316.76" r="0.38" fill="#3048ff" fill-opacity="0.5"/><circle cx="164.87" cy="315.57" r="0.38" fill="#3048ff" fill-opacity="0.5"/><circle cx="166.86" cy="321.14" r="0.38" fill="#3048ff" fill-opacity="0.5"/><circle cx="159.19" cy="318.05" r="0.38" fill="#3048ff" fill-opacity="0.5"/><circle cx="167.27" cy="312.71" r="0.38" fill="#3048ff" fill-opacity="0.5"/><circle cx="164.58" cy="316.67" r="0.38" fill="#3048ff" fill-opacity="0.5"/><circle cx="159.18" cy="320.28" r="0.38" fill="#3048ff" fill-opacity="0.5"/><circle cx="164.62" cy="316.08" r="0.38" fill="#3048ff" fill-opacity="0.5"/><circle cx="165.37" cy="318.70" r="0.38" fill="#3048ff" fill-opacity="0.5"/><circle cx="166.45" cy="318.56" r="0.38" fill="#3048ff" fill-opacity="0.5"/><circle cx="165.25" cy="314.45" r="0.38" fill="#3048ff" fill-opacity="0.5"/><circle cx="162.50" cy="317.50" r="0.38" fill="#3048ff" fill-opacity="0.5"/><circle cx="154.73" cy="322.19" r="0.38" fill="#3048ff" fill-opacity="0.5"/><circle cx="162.64" cy="314.73" r="0.38" fill="#3048ff" fill-opacity="0.5"/><circle cx="157.87" cy="317.78" r="0.38" fill="#3048ff" fill-opacity="0.5"/><circle cx="164.01" cy="315.83" r="0.38" fill="#3048ff" fill-opacity="0.5"/><circle cx="162.52" cy="315.12" r="0.38" fill="#3048ff" fill-opacity="0.5"/><circle cx="161.42" cy="316.97" r="0.38" fill="#3048ff" fill-opacity="0.5"/><circle cx="161.77" cy="318.79" r="0.38" fill="#3048ff" fill-opacity="0.5"/><circle cx="163.43" cy="317.51" r="0.38" fill="#3048ff" fill-opacity="0.5"/><circle cx="165.24" cy="320.17" r="0.38" fill="#3048ff" fill-opacity="0.5"/><circle cx="165.89" cy="317.73" r="0.38" fill="#3048ff" fill-opacity="0.5"/><circle cx="163.36" cy="315.32" r="0.38" fill="#3048ff" fill-opacity="0.5"/><circle cx="162.77" cy="318.80" r="0.38" fill="#3048ff" fill-opacity="0.5"/><ellipse cx="163.90" cy="317.20" rx="5.6" ry="3.9" fill="url(#gcyan)"/>
<rect x="136.50" y="279.20" width="45.4" height="45" fill="none" stroke="#858585" stroke-width="1"/>
<rect x="136.90" y="279.60" width="15.5" height="21.1" fill="none" stroke="#858585" stroke-width="0.8"/>
<text transform="translate(153.90,288.40) scale(1,1.08)" font-size="5.0" text-anchor="start" fill="#1a1a1a" stroke="#1a1a1a" stroke-width="0.22" font-weight="bold" >0.17</text>
<text transform="translate(165.40,304.20) scale(1,1.12)" font-size="6.6" text-anchor="start" fill="#c20d17" stroke="#c20d17" stroke-width="0.22" font-weight="bold" >123</text>
<line x1="192.50" y1="222.40" x2="183.80" y2="225.40" stroke="#12cc1c" stroke-width="1.35" />
<line x1="183.80" y1="225.40" x2="187.27" y2="226.35" stroke="#12cc1c" stroke-width="1.35" />
<line x1="183.80" y1="225.40" x2="185.95" y2="222.51" stroke="#12cc1c" stroke-width="1.35" />
<line x1="192.50" y1="233.00" x2="183.80" y2="228.70" stroke="#12cc1c" stroke-width="1.35" />
<line x1="183.80" y1="228.70" x2="185.56" y2="231.84" stroke="#12cc1c" stroke-width="1.35" />
<line x1="183.80" y1="228.70" x2="187.36" y2="228.19" stroke="#12cc1c" stroke-width="1.35" />
<line x1="193.70" y1="277.40" x2="184.20" y2="277.40" stroke="#12cc1c" stroke-width="1.35" />
<line x1="184.20" y1="277.40" x2="187.17" y2="279.43" stroke="#12cc1c" stroke-width="1.35" />
<line x1="184.20" y1="277.40" x2="187.17" y2="275.37" stroke="#12cc1c" stroke-width="1.35" />
<text transform="translate(195.90,224.30) scale(1,1.08)" font-size="7.8" text-anchor="start" fill="#12cc1c" stroke="#12cc1c" stroke-width="0.22" font-weight="bold" >Day31</text>
<text transform="translate(195.90,239.50) scale(1,1.08)" font-size="7.8" text-anchor="start" fill="#12cc1c" stroke="#12cc1c" stroke-width="0.22" font-weight="bold" >Day34</text>
<text transform="translate(195.90,281.00) scale(1,1.08)" font-size="7.8" text-anchor="start" fill="#12cc1c" stroke="#12cc1c" stroke-width="0.22" font-weight="bold" >Day37</text>
<text transform="translate(251.00,167.60)" font-size="9.0" text-anchor="start" fill="#111" stroke="#111" stroke-width="0.22" font-weight="bold" >e</text>
<circle cx="307.50" cy="179.70" r="3.7" stroke="#111" stroke-width="1.35" fill="#fff"/>
<circle cx="307.50" cy="189.30" r="3.7" stroke="#1a1af5" stroke-width="1.35" fill="#fff"/>
<text transform="translate(317.30,182.60) scale(1,1.08)" font-size="8.3" text-anchor="start" fill="#111" stroke="#111" stroke-width="0.22" font-weight="bold" >A20 <tspan fill="#1a1af5" stroke="#1a1af5">+ Cot CAR-T</tspan> <tspan fill="#c20d17" stroke="#c20d17">+ C1C02-Cot</tspan></text>
<text transform="translate(317.30,192.60) scale(1,1.08)" font-size="8.3" text-anchor="start" fill="#111" stroke="#111" stroke-width="0.22" font-weight="bold" >A20 <tspan fill="#1a1af5" stroke="#1a1af5">+ Cot CAR-T</tspan> <tspan fill="#c20d17" stroke="#c20d17">+ C1C02-Cot</tspan></text>
<text transform="translate(387.20,202.00) scale(1,1.08)" font-size="8.1" text-anchor="start" fill="#12cc1c" stroke="#12cc1c" stroke-width="0.22" font-weight="bold" >+ Cot-saporin</text>
<line x1="299.20" y1="217.00" x2="299.20" y2="299.60" stroke="#111" stroke-width="1.2" />
<line x1="296.60" y1="299.60" x2="421.95" y2="299.60" stroke="#111" stroke-width="1.2" />
<line x1="296.60" y1="299.60" x2="299.20" y2="299.60" stroke="#111" stroke-width="1.1" />
<text transform="translate(294.40,302.50) scale(1,1.15)" font-size="7.3" text-anchor="end" fill="#111" stroke="#111" stroke-width="0.42" font-weight="bold" >0</text>
<line x1="296.60" y1="285.90" x2="299.20" y2="285.90" stroke="#111" stroke-width="1.1" />
<text transform="translate(294.40,288.80) scale(1,1.15)" font-size="7.3" text-anchor="end" fill="#111" stroke="#111" stroke-width="0.42" font-weight="bold" >20</text>
<line x1="296.60" y1="272.20" x2="299.20" y2="272.20" stroke="#111" stroke-width="1.1" />
<text transform="translate(294.40,275.10) scale(1,1.15)" font-size="7.3" text-anchor="end" fill="#111" stroke="#111" stroke-width="0.42" font-weight="bold" >40</text>
<line x1="296.60" y1="258.50" x2="299.20" y2="258.50" stroke="#111" stroke-width="1.1" />
<text transform="translate(294.40,261.40) scale(1,1.15)" font-size="7.3" text-anchor="end" fill="#111" stroke="#111" stroke-width="0.42" font-weight="bold" >60</text>
<line x1="296.60" y1="244.80" x2="299.20" y2="244.80" stroke="#111" stroke-width="1.1" />
<text transform="translate(294.40,247.70) scale(1,1.15)" font-size="7.3" text-anchor="end" fill="#111" stroke="#111" stroke-width="0.42" font-weight="bold" >80</text>
<line x1="296.60" y1="231.10" x2="299.20" y2="231.10" stroke="#111" stroke-width="1.1" />
<text transform="translate(294.40,234.00) scale(1,1.15)" font-size="7.3" text-anchor="end" fill="#111" stroke="#111" stroke-width="0.42" font-weight="bold" >100</text>
<line x1="296.60" y1="217.40" x2="299.20" y2="217.40" stroke="#111" stroke-width="1.1" />
<text transform="translate(294.40,220.30) scale(1,1.15)" font-size="7.3" text-anchor="end" fill="#111" stroke="#111" stroke-width="0.42" font-weight="bold" >120</text>
<line x1="299.20" y1="299.60" x2="299.20" y2="302.80" stroke="#111" stroke-width="1.1" />
<text transform="translate(299.20,312.00) scale(1,1.15)" font-size="7.3" text-anchor="middle" fill="#111" stroke="#111" stroke-width="0.42" font-weight="bold" >10</text>
<line x1="323.65" y1="299.60" x2="323.65" y2="302.80" stroke="#111" stroke-width="1.1" />
<text transform="translate(323.65,312.00) scale(1,1.15)" font-size="7.3" text-anchor="middle" fill="#111" stroke="#111" stroke-width="0.42" font-weight="bold" >20</text>
<line x1="348.10" y1="299.60" x2="348.10" y2="302.80" stroke="#111" stroke-width="1.1" />
<text transform="translate(348.10,312.00) scale(1,1.15)" font-size="7.3" text-anchor="middle" fill="#111" stroke="#111" stroke-width="0.42" font-weight="bold" >30</text>
<line x1="372.55" y1="299.60" x2="372.55" y2="302.80" stroke="#111" stroke-width="1.1" />
<text transform="translate(372.55,312.00) scale(1,1.15)" font-size="7.3" text-anchor="middle" fill="#111" stroke="#111" stroke-width="0.42" font-weight="bold" >40</text>
<line x1="397.00" y1="299.60" x2="397.00" y2="302.80" stroke="#111" stroke-width="1.1" />
<text transform="translate(397.00,312.00) scale(1,1.15)" font-size="7.3" text-anchor="middle" fill="#111" stroke="#111" stroke-width="0.42" font-weight="bold" >50</text>
<line x1="421.45" y1="299.60" x2="421.45" y2="302.80" stroke="#111" stroke-width="1.1" />
<text transform="translate(421.45,312.00) scale(1,1.15)" font-size="7.3" text-anchor="middle" fill="#111" stroke="#111" stroke-width="0.42" font-weight="bold" >60</text>
<text transform="translate(306.30,324.20) scale(1,1.08)" font-size="8.9" text-anchor="start" fill="#111" stroke="#111" stroke-width="0.22" font-weight="bold" >Days after CAR-T injection</text>
<text transform="translate(262.80,248.40) rotate(-90) scale(1,1.08)" font-size="8.9" text-anchor="middle" fill="#111" stroke="#111" stroke-width="0.22" font-weight="bold" >Thy1.1+ cell number change</text>
<text transform="translate(273.90,248.40) rotate(-90) scale(1,1.08)" font-size="8.9" text-anchor="middle" fill="#111" stroke="#111" stroke-width="0.22" font-weight="bold" >in blood (%)</text>
<text transform="translate(359.10,224.30) scale(1,1.08)" font-size="7.45" text-anchor="middle" fill="#12cc1c" stroke="#12cc1c" stroke-width="0.22" font-weight="bold" >Cot-saporin</text>
<line x1="350.50" y1="227.20" x2="350.50" y2="238.40" stroke="#12cc1c" stroke-width="1.2" />
<path d="M348.10,235.60 L350.50,241.20 L352.90,235.60 L350.50,237.73 Z" fill="#12cc1c" stroke="#12cc1c" stroke-width="0.3" stroke-linejoin="round"/>
<line x1="358.70" y1="227.20" x2="358.70" y2="238.40" stroke="#12cc1c" stroke-width="1.2" />
<path d="M356.30,235.60 L358.70,241.20 L361.10,235.60 L358.70,237.73 Z" fill="#12cc1c" stroke="#12cc1c" stroke-width="0.3" stroke-linejoin="round"/>
<line x1="366.90" y1="227.20" x2="366.90" y2="238.40" stroke="#12cc1c" stroke-width="1.2" />
<path d="M364.50,235.60 L366.90,241.20 L369.30,235.60 L366.90,237.73 Z" fill="#12cc1c" stroke="#12cc1c" stroke-width="0.3" stroke-linejoin="round"/>
<line x1="360.57" y1="241.80" x2="360.57" y2="263.80" stroke="#111" stroke-width="1.0" />
<line x1="358.37" y1="241.80" x2="362.77" y2="241.80" stroke="#111" stroke-width="1.0" />
<line x1="358.37" y1="263.80" x2="362.77" y2="263.80" stroke="#111" stroke-width="1.0" />
<line x1="377.93" y1="245.90" x2="377.93" y2="260.70" stroke="#111" stroke-width="1.0" />
<line x1="375.73" y1="245.90" x2="380.13" y2="245.90" stroke="#111" stroke-width="1.0" />
<line x1="375.73" y1="260.70" x2="380.13" y2="260.70" stroke="#111" stroke-width="1.0" />
<line x1="333.67" y1="260.00" x2="333.67" y2="272.80" stroke="#1a1af5" stroke-width="1.0" />
<line x1="331.47" y1="260.00" x2="335.87" y2="260.00" stroke="#1a1af5" stroke-width="1.0" />
<line x1="331.47" y1="272.80" x2="335.87" y2="272.80" stroke="#1a1af5" stroke-width="1.0" />
<line x1="360.57" y1="263.50" x2="360.57" y2="275.90" stroke="#1a1af5" stroke-width="1.0" />
<line x1="358.37" y1="263.50" x2="362.77" y2="263.50" stroke="#1a1af5" stroke-width="1.0" />
<line x1="358.37" y1="275.90" x2="362.77" y2="275.90" stroke="#1a1af5" stroke-width="1.0" />
<polyline points="333.67,266.40 360.57,252.80 377.93,253.30 395.04,268.90" stroke="#111" stroke-width="1.1" fill="none"/>
<polyline points="321.20,231.00 333.67,266.40 360.57,269.70 377.93,283.60 395.04,287.30" stroke="#1a1af5" stroke-width="1.1" fill="none"/>
<circle cx="321.20" cy="231.00" r="3.7" stroke="#111" stroke-width="1.35" fill="#fff"/>
<circle cx="333.67" cy="266.40" r="3.7" stroke="#111" stroke-width="1.35" fill="#fff"/>
<circle cx="360.57" cy="252.80" r="3.7" stroke="#111" stroke-width="1.35" fill="#fff"/>
<circle cx="377.93" cy="253.30" r="3.7" stroke="#111" stroke-width="1.35" fill="#fff"/>
<circle cx="395.04" cy="268.90" r="3.7" stroke="#111" stroke-width="1.35" fill="#fff"/>
<circle cx="321.20" cy="231.00" r="3.7" stroke="#1a1af5" stroke-width="1.35" fill="#fff"/>
<circle cx="333.67" cy="266.40" r="3.7" stroke="#1a1af5" stroke-width="1.35" fill="#fff"/>
<circle cx="360.57" cy="269.70" r="3.7" stroke="#1a1af5" stroke-width="1.35" fill="#fff"/>
<circle cx="377.93" cy="283.60" r="3.7" stroke="#1a1af5" stroke-width="1.35" fill="#fff"/>
<circle cx="395.04" cy="287.30" r="3.7" stroke="#1a1af5" stroke-width="1.35" fill="#fff"/>
<text transform="translate(378.30,282.39)" font-size="15.5" text-anchor="middle" fill="#111" stroke="#111" stroke-width="0.22" font-weight="bold" >*</text>
<text transform="translate(395.20,287.09)" font-size="15.5" text-anchor="middle" fill="#111" stroke="#111" stroke-width="0.22" font-weight="bold" >*</text>
<text transform="translate(463.90,168.10)" font-size="9.4" text-anchor="start" fill="#111" stroke="#111" stroke-width="0.22" font-weight="bold" >f</text>
<circle cx="504.40" cy="180.20" r="3.7" stroke="#111" stroke-width="1.35" fill="#fff"/>
<circle cx="504.40" cy="189.80" r="3.7" stroke="#1a1af5" stroke-width="1.35" fill="#fff"/>
<text transform="translate(514.00,183.00) scale(1,1.08)" font-size="8.3" text-anchor="start" fill="#111" stroke="#111" stroke-width="0.22" font-weight="bold" >A20 <tspan fill="#1a1af5" stroke="#1a1af5">+ Cot CAR-T</tspan> <tspan fill="#c20d17" stroke="#c20d17">+ C1C02-Cot</tspan></text>
<text transform="translate(514.00,192.60) scale(1,1.08)" font-size="8.3" text-anchor="start" fill="#111" stroke="#111" stroke-width="0.22" font-weight="bold" >A20 <tspan fill="#1a1af5" stroke="#1a1af5">+ Cot CAR-T</tspan> <tspan fill="#c20d17" stroke="#c20d17">+ C1C02-Cot</tspan></text>
<text transform="translate(583.30,201.70) scale(1,1.08)" font-size="8.3" text-anchor="start" fill="#12cc1c" stroke="#12cc1c" stroke-width="0.22" font-weight="bold" >+ Cot-saporin</text>
<line x1="495.80" y1="214.30" x2="495.80" y2="296.50" stroke="#111" stroke-width="1.2" />
<line x1="493.20" y1="296.50" x2="619.50" y2="296.50" stroke="#111" stroke-width="1.2" />
<line x1="493.20" y1="296.50" x2="495.80" y2="296.50" stroke="#111" stroke-width="1.1" />
<text transform="translate(487.30,299.20) scale(1,1.15)" font-size="7.0" text-anchor="middle" fill="#111" stroke="#111" stroke-width="0.42" font-weight="bold" >0</text>
<line x1="493.20" y1="283.94" x2="495.80" y2="283.94" stroke="#111" stroke-width="1.1" />
<text transform="translate(487.30,286.64) scale(1,1.15)" font-size="7.0" text-anchor="middle" fill="#111" stroke="#111" stroke-width="0.42" font-weight="bold" >1</text>
<line x1="493.20" y1="271.38" x2="495.80" y2="271.38" stroke="#111" stroke-width="1.1" />
<text transform="translate(487.30,274.08) scale(1,1.15)" font-size="7.0" text-anchor="middle" fill="#111" stroke="#111" stroke-width="0.42" font-weight="bold" >2</text>
<line x1="493.20" y1="258.82" x2="495.80" y2="258.82" stroke="#111" stroke-width="1.1" />
<text transform="translate(487.30,261.52) scale(1,1.15)" font-size="7.0" text-anchor="middle" fill="#111" stroke="#111" stroke-width="0.42" font-weight="bold" >3</text>
<line x1="493.20" y1="246.26" x2="495.80" y2="246.26" stroke="#111" stroke-width="1.1" />
<text transform="translate(487.30,248.96) scale(1,1.15)" font-size="7.0" text-anchor="middle" fill="#111" stroke="#111" stroke-width="0.42" font-weight="bold" >4</text>
<line x1="493.20" y1="233.70" x2="495.80" y2="233.70" stroke="#111" stroke-width="1.1" />
<text transform="translate(487.30,236.40) scale(1,1.15)" font-size="7.0" text-anchor="middle" fill="#111" stroke="#111" stroke-width="0.42" font-weight="bold" >5</text>
<line x1="493.20" y1="221.14" x2="495.80" y2="221.14" stroke="#111" stroke-width="1.1" />
<text transform="translate(487.30,223.84) scale(1,1.15)" font-size="7.0" text-anchor="middle" fill="#111" stroke="#111" stroke-width="0.42" font-weight="bold" >6</text>
<line x1="495.80" y1="296.50" x2="495.80" y2="300.50" stroke="#111" stroke-width="1.1" />
<text transform="translate(495.80,308.20) scale(1,1.2)" font-size="7.0" text-anchor="middle" fill="#111" stroke="#111" stroke-width="0.42" font-weight="bold" >10</text>
<line x1="513.40" y1="296.50" x2="513.40" y2="300.50" stroke="#111" stroke-width="1.1" />
<text transform="translate(513.40,308.20) scale(1,1.2)" font-size="7.0" text-anchor="middle" fill="#111" stroke="#111" stroke-width="0.42" font-weight="bold" >20</text>
<line x1="531.00" y1="296.50" x2="531.00" y2="300.50" stroke="#111" stroke-width="1.1" />
<text transform="translate(531.00,308.20) scale(1,1.2)" font-size="7.0" text-anchor="middle" fill="#111" stroke="#111" stroke-width="0.42" font-weight="bold" >30</text>
<line x1="548.60" y1="296.50" x2="548.60" y2="300.50" stroke="#111" stroke-width="1.1" />
<text transform="translate(548.60,308.20) scale(1,1.2)" font-size="7.0" text-anchor="middle" fill="#111" stroke="#111" stroke-width="0.42" font-weight="bold" >40</text>
<line x1="566.20" y1="296.50" x2="566.20" y2="300.50" stroke="#111" stroke-width="1.1" />
<text transform="translate(566.20,308.20) scale(1,1.2)" font-size="7.0" text-anchor="middle" fill="#111" stroke="#111" stroke-width="0.42" font-weight="bold" >50</text>
<line x1="583.80" y1="296.50" x2="583.80" y2="300.50" stroke="#111" stroke-width="1.1" />
<text transform="translate(583.80,308.20) scale(1,1.2)" font-size="7.0" text-anchor="middle" fill="#111" stroke="#111" stroke-width="0.42" font-weight="bold" >60</text>
<line x1="601.40" y1="296.50" x2="601.40" y2="300.50" stroke="#111" stroke-width="1.1" />
<text transform="translate(601.40,308.20) scale(1,1.2)" font-size="7.0" text-anchor="middle" fill="#111" stroke="#111" stroke-width="0.42" font-weight="bold" >70</text>
<line x1="619.00" y1="296.50" x2="619.00" y2="300.50" stroke="#111" stroke-width="1.1" />
<text transform="translate(619.00,308.20) scale(1,1.2)" font-size="7.0" text-anchor="middle" fill="#111" stroke="#111" stroke-width="0.42" font-weight="bold" >80</text>
<text transform="translate(502.20,324.60) scale(1,1.08)" font-size="8.92" text-anchor="start" fill="#111" stroke="#111" stroke-width="0.22" font-weight="bold" >Days after CAR-T injection</text>
<text transform="translate(478.20,253.00) rotate(-90) scale(1,1.08)" font-size="8.85" text-anchor="middle" fill="#111" stroke="#111" stroke-width="0.22" font-weight="bold" >Clinical GVHD score</text>
<text transform="translate(537.00,213.70) scale(1,1.08)" font-size="7.45" text-anchor="middle" fill="#12cc1c" stroke="#12cc1c" stroke-width="0.22" font-weight="bold" >Cot-saporin</text>
<line x1="533.10" y1="217.00" x2="533.10" y2="228.10" stroke="#12cc1c" stroke-width="1.2" />
<path d="M530.70,225.30 L533.10,230.90 L535.50,225.30 L533.10,227.43 Z" fill="#12cc1c" stroke="#12cc1c" stroke-width="0.3" stroke-linejoin="round"/>
<line x1="538.60" y1="217.00" x2="538.60" y2="228.10" stroke="#12cc1c" stroke-width="1.2" />
<path d="M536.20,225.30 L538.60,230.90 L541.00,225.30 L538.60,227.43 Z" fill="#12cc1c" stroke="#12cc1c" stroke-width="0.3" stroke-linejoin="round"/>
<line x1="543.70" y1="217.00" x2="543.70" y2="228.10" stroke="#12cc1c" stroke-width="1.2" />
<path d="M541.30,225.30 L543.70,230.90 L546.10,225.30 L543.70,227.43 Z" fill="#12cc1c" stroke="#12cc1c" stroke-width="0.3" stroke-linejoin="round"/>
<line x1="542.09" y1="234.70" x2="542.09" y2="242.74" stroke="#111" stroke-width="1.0" />
<line x1="540.09" y1="234.70" x2="544.09" y2="234.70" stroke="#111" stroke-width="1.0" />
<line x1="540.09" y1="242.74" x2="544.09" y2="242.74" stroke="#111" stroke-width="1.0" />
<line x1="548.60" y1="225.54" x2="548.60" y2="236.84" stroke="#111" stroke-width="1.0" />
<line x1="546.60" y1="225.54" x2="550.60" y2="225.54" stroke="#111" stroke-width="1.0" />
<line x1="546.60" y1="236.84" x2="550.60" y2="236.84" stroke="#111" stroke-width="1.0" />
<line x1="554.23" y1="226.16" x2="554.23" y2="241.24" stroke="#111" stroke-width="1.0" />
<line x1="552.23" y1="226.16" x2="556.23" y2="226.16" stroke="#111" stroke-width="1.0" />
<line x1="552.23" y1="241.24" x2="556.23" y2="241.24" stroke="#111" stroke-width="1.0" />
<line x1="560.92" y1="229.05" x2="560.92" y2="242.37" stroke="#111" stroke-width="1.0" />
<line x1="558.92" y1="229.05" x2="562.92" y2="229.05" stroke="#111" stroke-width="1.0" />
<line x1="558.92" y1="242.37" x2="562.92" y2="242.37" stroke="#111" stroke-width="1.0" />
<line x1="566.73" y1="226.79" x2="566.73" y2="255.68" stroke="#111" stroke-width="1.0" />
<line x1="564.73" y1="226.79" x2="568.73" y2="226.79" stroke="#111" stroke-width="1.0" />
<line x1="564.73" y1="255.68" x2="568.73" y2="255.68" stroke="#111" stroke-width="1.0" />
<line x1="578.70" y1="236.97" x2="578.70" y2="263.84" stroke="#111" stroke-width="1.0" />
<line x1="576.70" y1="236.97" x2="580.70" y2="236.97" stroke="#111" stroke-width="1.0" />
<line x1="576.70" y1="263.84" x2="580.70" y2="263.84" stroke="#111" stroke-width="1.0" />
<line x1="585.74" y1="242.87" x2="585.74" y2="269.75" stroke="#111" stroke-width="1.0" />
<line x1="583.74" y1="242.87" x2="587.74" y2="242.87" stroke="#111" stroke-width="1.0" />
<line x1="583.74" y1="269.75" x2="587.74" y2="269.75" stroke="#111" stroke-width="1.0" />
<line x1="591.19" y1="250.28" x2="591.19" y2="277.41" stroke="#111" stroke-width="1.0" />
<line x1="589.19" y1="250.28" x2="593.19" y2="250.28" stroke="#111" stroke-width="1.0" />
<line x1="589.19" y1="277.41" x2="593.19" y2="277.41" stroke="#111" stroke-width="1.0" />
<line x1="598.23" y1="250.28" x2="598.23" y2="277.41" stroke="#111" stroke-width="1.0" />
<line x1="596.23" y1="250.28" x2="600.23" y2="250.28" stroke="#111" stroke-width="1.0" />
<line x1="596.23" y1="277.41" x2="600.23" y2="277.41" stroke="#111" stroke-width="1.0" />
<polyline points="499.32,296.50 504.60,296.50 511.64,296.50 516.92,296.50 523.96,293.99 529.59,288.21 536.28,266.10 542.09,238.72 548.60,231.19 554.23,233.70 560.92,235.71 566.73,241.24 578.70,250.40 585.74,256.31 591.19,263.84 598.23,263.84" stroke="#111" stroke-width="1.1" fill="none"/>
<circle cx="499.32" cy="296.50" r="3.7" stroke="#111" stroke-width="1.35" fill="#fff"/>
<circle cx="504.60" cy="296.50" r="3.7" stroke="#111" stroke-width="1.35" fill="#fff"/>
<circle cx="511.64" cy="296.50" r="3.7" stroke="#111" stroke-width="1.35" fill="#fff"/>
<circle cx="516.92" cy="296.50" r="3.7" stroke="#111" stroke-width="1.35" fill="#fff"/>
<circle cx="523.96" cy="293.99" r="3.7" stroke="#111" stroke-width="1.35" fill="#fff"/>
<circle cx="529.59" cy="288.21" r="3.7" stroke="#111" stroke-width="1.35" fill="#fff"/>
<circle cx="536.28" cy="266.10" r="3.7" stroke="#111" stroke-width="1.35" fill="#fff"/>
<circle cx="542.09" cy="238.72" r="3.7" stroke="#111" stroke-width="1.35" fill="#fff"/>
<circle cx="548.60" cy="231.19" r="3.7" stroke="#111" stroke-width="1.35" fill="#fff"/>
<circle cx="554.23" cy="233.70" r="3.7" stroke="#111" stroke-width="1.35" fill="#fff"/>
<circle cx="560.92" cy="235.71" r="3.7" stroke="#111" stroke-width="1.35" fill="#fff"/>
<circle cx="566.73" cy="241.24" r="3.7" stroke="#111" stroke-width="1.35" fill="#fff"/>
<circle cx="578.70" cy="250.40" r="3.7" stroke="#111" stroke-width="1.35" fill="#fff"/>
<circle cx="585.74" cy="256.31" r="3.7" stroke="#111" stroke-width="1.35" fill="#fff"/>
<circle cx="591.19" cy="263.84" r="3.7" stroke="#111" stroke-width="1.35" fill="#fff"/>
<circle cx="598.23" cy="263.84" r="3.7" stroke="#111" stroke-width="1.35" fill="#fff"/>
<line x1="536.28" y1="273.89" x2="536.28" y2="283.94" stroke="#1a1af5" stroke-width="1.0" />
<line x1="534.28" y1="273.89" x2="538.28" y2="273.89" stroke="#1a1af5" stroke-width="1.0" />
<line x1="534.28" y1="283.94" x2="538.28" y2="283.94" stroke="#1a1af5" stroke-width="1.0" />
<line x1="541.91" y1="259.70" x2="541.91" y2="283.06" stroke="#1a1af5" stroke-width="1.0" />
<line x1="539.91" y1="259.70" x2="543.91" y2="259.70" stroke="#1a1af5" stroke-width="1.0" />
<line x1="539.91" y1="283.06" x2="543.91" y2="283.06" stroke="#1a1af5" stroke-width="1.0" />
<line x1="548.60" y1="259.95" x2="548.60" y2="281.80" stroke="#1a1af5" stroke-width="1.0" />
<line x1="546.60" y1="259.95" x2="550.60" y2="259.95" stroke="#1a1af5" stroke-width="1.0" />
<line x1="546.60" y1="281.80" x2="550.60" y2="281.80" stroke="#1a1af5" stroke-width="1.0" />
<line x1="554.23" y1="266.61" x2="554.23" y2="281.18" stroke="#1a1af5" stroke-width="1.0" />
<line x1="552.23" y1="266.61" x2="556.23" y2="266.61" stroke="#1a1af5" stroke-width="1.0" />
<line x1="552.23" y1="281.18" x2="556.23" y2="281.18" stroke="#1a1af5" stroke-width="1.0" />
<line x1="560.92" y1="270.75" x2="560.92" y2="282.06" stroke="#1a1af5" stroke-width="1.0" />
<line x1="558.92" y1="270.75" x2="562.92" y2="270.75" stroke="#1a1af5" stroke-width="1.0" />
<line x1="558.92" y1="282.06" x2="562.92" y2="282.06" stroke="#1a1af5" stroke-width="1.0" />
<line x1="566.73" y1="276.40" x2="566.73" y2="285.70" stroke="#1a1af5" stroke-width="1.0" />
<line x1="564.73" y1="276.40" x2="568.73" y2="276.40" stroke="#1a1af5" stroke-width="1.0" />
<line x1="564.73" y1="285.70" x2="568.73" y2="285.70" stroke="#1a1af5" stroke-width="1.0" />
<line x1="578.70" y1="283.69" x2="578.70" y2="294.24" stroke="#1a1af5" stroke-width="1.0" />
<line x1="576.70" y1="283.69" x2="580.70" y2="283.69" stroke="#1a1af5" stroke-width="1.0" />
<line x1="576.70" y1="294.24" x2="580.70" y2="294.24" stroke="#1a1af5" stroke-width="1.0" />
<line x1="585.74" y1="279.42" x2="585.74" y2="293.49" stroke="#1a1af5" stroke-width="1.0" />
<line x1="583.74" y1="279.42" x2="587.74" y2="279.42" stroke="#1a1af5" stroke-width="1.0" />
<line x1="583.74" y1="293.49" x2="587.74" y2="293.49" stroke="#1a1af5" stroke-width="1.0" />
<polyline points="499.32,296.50 504.60,296.50 511.64,296.50 516.92,296.50 523.96,293.99 529.59,291.22 536.28,278.92 541.91,271.38 548.60,270.88 554.23,273.89 560.92,276.40 566.73,281.05 578.70,288.96 585.74,286.45 591.19,294.24 598.23,294.24" stroke="#1a1af5" stroke-width="1.1" fill="none"/>
<circle cx="499.32" cy="296.50" r="3.7" stroke="#1a1af5" stroke-width="1.35" fill="#fff"/>
<circle cx="504.60" cy="296.50" r="3.7" stroke="#1a1af5" stroke-width="1.35" fill="#fff"/>
<circle cx="511.64" cy="296.50" r="3.7" stroke="#1a1af5" stroke-width="1.35" fill="#fff"/>
<circle cx="516.92" cy="296.50" r="3.7" stroke="#1a1af5" stroke-width="1.35" fill="#fff"/>
<circle cx="523.96" cy="293.99" r="3.7" stroke="#1a1af5" stroke-width="1.35" fill="#fff"/>
<circle cx="529.59" cy="291.22" r="3.7" stroke="#1a1af5" stroke-width="1.35" fill="#fff"/>
<circle cx="536.28" cy="278.92" r="3.7" stroke="#1a1af5" stroke-width="1.35" fill="#fff"/>
<circle cx="541.91" cy="271.38" r="3.7" stroke="#1a1af5" stroke-width="1.35" fill="#fff"/>
<circle cx="548.60" cy="270.88" r="3.7" stroke="#1a1af5" stroke-width="1.35" fill="#fff"/>
<circle cx="554.23" cy="273.89" r="3.7" stroke="#1a1af5" stroke-width="1.35" fill="#fff"/>
<circle cx="560.92" cy="276.40" r="3.7" stroke="#1a1af5" stroke-width="1.35" fill="#fff"/>
<circle cx="566.73" cy="281.05" r="3.7" stroke="#1a1af5" stroke-width="1.35" fill="#fff"/>
<circle cx="578.70" cy="288.96" r="3.7" stroke="#1a1af5" stroke-width="1.35" fill="#fff"/>
<circle cx="585.74" cy="286.45" r="3.7" stroke="#1a1af5" stroke-width="1.35" fill="#fff"/>
<circle cx="591.19" cy="294.24" r="3.7" stroke="#1a1af5" stroke-width="1.35" fill="#fff"/>
<circle cx="598.23" cy="294.24" r="3.7" stroke="#1a1af5" stroke-width="1.35" fill="#fff"/>
<text transform="translate(548.20,261.89)" font-size="15.5" text-anchor="middle" fill="#111" stroke="#111" stroke-width="0.22" font-weight="bold" >*</text>
<text transform="translate(560.60,271.09)" font-size="15.5" text-anchor="middle" fill="#111" stroke="#111" stroke-width="0.22" font-weight="bold" >*</text>
<text transform="translate(578.40,286.09)" font-size="15.5" text-anchor="middle" fill="#111" stroke="#111" stroke-width="0.22" font-weight="bold" >*</text>
<text transform="translate(541.60,296.69)" font-size="15.5" text-anchor="middle" fill="#111" stroke="#111" stroke-width="0.22" font-weight="bold" >*</text>
<text transform="translate(554.00,295.89)" font-size="15.5" text-anchor="middle" fill="#111" stroke="#111" stroke-width="0.22" font-weight="bold" >*</text>
<text transform="translate(566.00,298.89)" font-size="15.5" text-anchor="middle" fill="#111" stroke="#111" stroke-width="0.22" font-weight="bold" >*</text>
</svg>
</body></html>
